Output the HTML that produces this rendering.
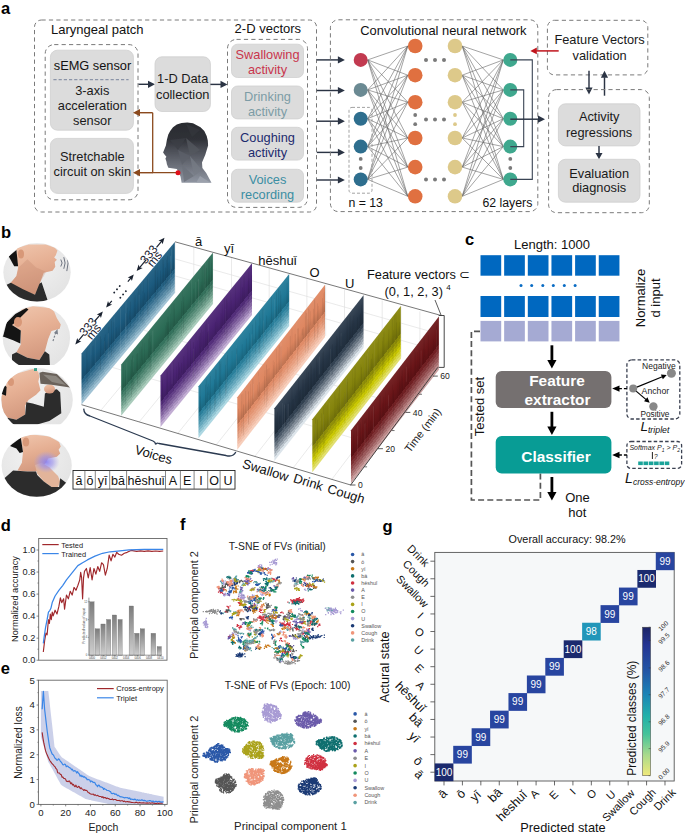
<!DOCTYPE html><html><head><meta charset="utf-8"><style>html,body{margin:0;padding:0;background:#fff;overflow:hidden}svg{display:block}text{font-family:"Liberation Sans", sans-serif}</style></head><body>
<svg width="685" height="837" viewBox="0 0 685 837">
<rect width="685" height="837" fill="#fff"/>
<text x="1.00" y="14.00" font-size="16.5" text-anchor="start" fill="#000" font-weight="bold" >a</text>
<rect x="34.50" y="20.00" width="282.00" height="192.00" rx="7" fill="none" stroke="#7a7a7a" stroke-width="1" stroke-dasharray="4.2 3.2" />
<text x="51.00" y="34.00" font-size="13" text-anchor="start" fill="#111" >Laryngeal patch</text>
<rect x="45.20" y="44.60" width="92.80" height="155.20" rx="9" fill="none" stroke="#7a7a7a" stroke-width="1" stroke-dasharray="4.2 3.2" />
<rect x="50.40" y="50.20" width="83.00" height="80.00" rx="7" fill="#dcdcdc" stroke="#cfcfcf" stroke-width="0.8" />
<text x="92.50" y="69.60" font-size="12.8" text-anchor="middle" fill="#111" >sEMG sensor</text>
<line x1="53.40" y1="79.60" x2="128.60" y2="79.60" stroke="#8b94a8" stroke-width="1.2" stroke-dasharray="3.2 2" />
<text x="92.30" y="94.60" font-size="12.8" text-anchor="middle" fill="#1a1a1a" >3-axis</text>
<text x="92.30" y="109.90" font-size="12.8" text-anchor="middle" fill="#1a1a1a" >acceleration</text>
<text x="92.30" y="125.00" font-size="12.8" text-anchor="middle" fill="#1a1a1a" >sensor</text>
<rect x="50.40" y="138.40" width="83.00" height="55.00" rx="7" fill="#dcdcdc" stroke="#cfcfcf" stroke-width="0.8" />
<text x="92.30" y="161.30" font-size="12.8" text-anchor="middle" fill="#1a1a1a" >Stretchable</text>
<text x="92.30" y="176.40" font-size="12.8" text-anchor="middle" fill="#1a1a1a" >circuit on skin</text>
<line x1="138.50" y1="84.30" x2="148.50" y2="84.30" stroke="#2b3444" stroke-width="1.45" />
<polygon points="155.00,84.30 148.00,87.90 148.00,80.70" fill="#2b3444"/>
<rect x="155.00" y="56.80" width="55.40" height="54.70" rx="7" fill="#dcdcdc" stroke="#cfcfcf" stroke-width="0.8" />
<text x="182.70" y="83.00" font-size="12.8" text-anchor="middle" fill="#1a1a1a" >1-D Data</text>
<text x="182.70" y="98.80" font-size="12.8" text-anchor="middle" fill="#1a1a1a" >collection</text>
<line x1="210.40" y1="84.40" x2="221.00" y2="84.40" stroke="#2b3444" stroke-width="1.45" />
<polygon points="227.50,84.40 220.50,88.00 220.50,80.80" fill="#2b3444"/>
<polyline points="152.7,112.7 152.7,172.7 178,172.7" fill="none" stroke="#8b4a1e" stroke-width="1.3"/>
<line x1="152.70" y1="112.70" x2="139.50" y2="112.70" stroke="#8b4a1e" stroke-width="1.45" />
<polygon points="133.00,112.70 140.00,109.10 140.00,116.30" fill="#8b4a1e"/>
<line x1="152.70" y1="172.70" x2="139.50" y2="172.70" stroke="#8b4a1e" stroke-width="1.45" />
<polygon points="133.00,172.70 140.00,169.10 140.00,176.30" fill="#8b4a1e"/>
<defs><linearGradient id="headg" x1="0" y1="0" x2="0" y2="1"><stop offset="0" stop-color="#2a2c31"/><stop offset="0.28" stop-color="#303238"/><stop offset="0.45" stop-color="#4a4d55"/><stop offset="0.7" stop-color="#6a6e78"/><stop offset="1" stop-color="#9096a2"/></linearGradient><clipPath id="headclip"><polygon points="181.6,123.1 187.3,122.4 193,123.3 200.5,127.3 204.3,131.1 206.7,135.9 207.8,140.6 208.1,145.4 205.3,154.8 202,162.4 202.4,168.1 206.2,172.9 211.5,182.8 181.6,182.8 180.6,176.7 178.7,171.9 176.8,169.1 168.3,167.7 166.9,164.3 166.4,161.5 165.4,158.6 166.4,156.7 164.5,154.4 163.1,152.5 165.9,145.4 166.9,139.7 168.3,134.5 170.2,131.1 173,127.3 176.8,124.5"/></clipPath></defs>
<polygon points="181.6,123.1 187.3,122.4 193,123.3 200.5,127.3 204.3,131.1 206.7,135.9 207.8,140.6 208.1,145.4 205.3,154.8 202,162.4 202.4,168.1 206.2,172.9 211.5,182.8 181.6,182.8 180.6,176.7 178.7,171.9 176.8,169.1 168.3,167.7 166.9,164.3 166.4,161.5 165.4,158.6 166.4,156.7 164.5,154.4 163.1,152.5 165.9,145.4 166.9,139.7 168.3,134.5 170.2,131.1 173,127.3 176.8,124.5" fill="url(#headg)"/>
<g clip-path="url(#headclip)" opacity="0.75">
<polygon points="170,140 186,138 178,150" fill="#3c3f46"/>
<polygon points="186,138 200,150 190,156" fill="#55585f"/>
<polygon points="178,150 190,156 182,165" fill="#5d616a"/>
<polygon points="190,156 202,170 194,176" fill="#777c86"/>
<polygon points="182,165 194,176 184,182" fill="#6b707a"/>
<polygon points="200,176 211,183 196,183" fill="#a0a6b0"/>
<polygon points="186,124 200,130 192,137" fill="#35373d"/>
</g>
<circle cx="178.00" cy="172.70" r="2.50" fill="#e0101a" />
<text x="234.60" y="32.90" font-size="13" text-anchor="start" fill="#111" >2-D vectors</text>
<rect x="227.50" y="39.40" width="80.00" height="168.00" rx="9" fill="none" stroke="#7a7a7a" stroke-width="1" stroke-dasharray="4.2 3.2" />
<rect x="231.50" y="44.20" width="72.00" height="33.30" rx="6" fill="#dcdcdc" stroke="#cfcfcf" stroke-width="0.8" />
<text x="267.50" y="59.10" font-size="12.8" text-anchor="middle" fill="#c9364d" >Swallowing</text>
<text x="267.50" y="74.00" font-size="12.8" text-anchor="middle" fill="#c9364d" >activity</text>
<rect x="231.50" y="86.00" width="72.00" height="32.90" rx="6" fill="#dcdcdc" stroke="#cfcfcf" stroke-width="0.8" />
<text x="267.50" y="100.90" font-size="12.8" text-anchor="middle" fill="#7d9ca6" >Drinking</text>
<text x="267.50" y="115.80" font-size="12.8" text-anchor="middle" fill="#7d9ca6" >activity</text>
<rect x="231.50" y="127.30" width="72.00" height="32.80" rx="6" fill="#dcdcdc" stroke="#cfcfcf" stroke-width="0.8" />
<text x="267.50" y="142.20" font-size="12.8" text-anchor="middle" fill="#1d2b6e" >Coughing</text>
<text x="267.50" y="157.10" font-size="12.8" text-anchor="middle" fill="#1d2b6e" >activity</text>
<rect x="231.50" y="169.30" width="72.00" height="32.90" rx="6" fill="#dcdcdc" stroke="#cfcfcf" stroke-width="0.8" />
<text x="267.50" y="184.20" font-size="12.8" text-anchor="middle" fill="#3b8ea3" >Voices</text>
<text x="267.50" y="199.10" font-size="12.8" text-anchor="middle" fill="#3b8ea3" >recording</text>
<line x1="316.80" y1="59.90" x2="338.40" y2="59.90" stroke="#2b3444" stroke-width="1.45" />
<polygon points="344.90,59.90 337.90,63.50 337.90,56.30" fill="#2b3444"/>
<line x1="316.80" y1="90.50" x2="338.40" y2="90.50" stroke="#2b3444" stroke-width="1.45" />
<polygon points="344.90,90.50 337.90,94.10 337.90,86.90" fill="#2b3444"/>
<line x1="316.80" y1="121.20" x2="338.40" y2="121.20" stroke="#2b3444" stroke-width="1.45" />
<polygon points="344.90,121.20 337.90,124.80 337.90,117.60" fill="#2b3444"/>
<line x1="316.80" y1="152.40" x2="338.40" y2="152.40" stroke="#2b3444" stroke-width="1.45" />
<polygon points="344.90,152.40 337.90,156.00 337.90,148.80" fill="#2b3444"/>
<line x1="316.80" y1="180.00" x2="338.40" y2="180.00" stroke="#2b3444" stroke-width="1.45" />
<polygon points="344.90,180.00 337.90,183.60 337.90,176.40" fill="#2b3444"/>
<rect x="330.40" y="19.80" width="207.40" height="191.80" rx="8" fill="none" stroke="#7a7a7a" stroke-width="1" stroke-dasharray="4.2 3.2" />
<text x="360.30" y="34.50" font-size="12.9" text-anchor="start" fill="#111" >Convolutional neural network</text>
<g stroke="#666" stroke-width="0.6">
<line x1="367.7" y1="59.9" x2="407.8" y2="46"/>
<line x1="367.7" y1="59.9" x2="407.8" y2="75.2"/>
<line x1="367.7" y1="59.9" x2="407.8" y2="102.2"/>
<line x1="367.7" y1="59.9" x2="407.8" y2="138"/>
<line x1="367.7" y1="59.9" x2="407.8" y2="167.1"/>
<line x1="367.7" y1="59.9" x2="407.8" y2="196.3"/>
<line x1="367.7" y1="89.9" x2="407.8" y2="46"/>
<line x1="367.7" y1="89.9" x2="407.8" y2="75.2"/>
<line x1="367.7" y1="89.9" x2="407.8" y2="102.2"/>
<line x1="367.7" y1="89.9" x2="407.8" y2="138"/>
<line x1="367.7" y1="89.9" x2="407.8" y2="167.1"/>
<line x1="367.7" y1="89.9" x2="407.8" y2="196.3"/>
<line x1="367.7" y1="118.7" x2="407.8" y2="46"/>
<line x1="367.7" y1="118.7" x2="407.8" y2="75.2"/>
<line x1="367.7" y1="118.7" x2="407.8" y2="102.2"/>
<line x1="367.7" y1="118.7" x2="407.8" y2="138"/>
<line x1="367.7" y1="118.7" x2="407.8" y2="167.1"/>
<line x1="367.7" y1="118.7" x2="407.8" y2="196.3"/>
<line x1="367.7" y1="146.6" x2="407.8" y2="46"/>
<line x1="367.7" y1="146.6" x2="407.8" y2="75.2"/>
<line x1="367.7" y1="146.6" x2="407.8" y2="102.2"/>
<line x1="367.7" y1="146.6" x2="407.8" y2="138"/>
<line x1="367.7" y1="146.6" x2="407.8" y2="167.1"/>
<line x1="367.7" y1="146.6" x2="407.8" y2="196.3"/>
<line x1="367.7" y1="179.4" x2="407.8" y2="46"/>
<line x1="367.7" y1="179.4" x2="407.8" y2="75.2"/>
<line x1="367.7" y1="179.4" x2="407.8" y2="102.2"/>
<line x1="367.7" y1="179.4" x2="407.8" y2="138"/>
<line x1="367.7" y1="179.4" x2="407.8" y2="167.1"/>
<line x1="367.7" y1="179.4" x2="407.8" y2="196.3"/>
<line x1="462.2" y1="46" x2="503.3" y2="59.9"/>
<line x1="462.2" y1="46" x2="503.3" y2="89.9"/>
<line x1="462.2" y1="46" x2="503.3" y2="118.7"/>
<line x1="462.2" y1="46" x2="503.3" y2="146.6"/>
<line x1="462.2" y1="46" x2="503.3" y2="179.4"/>
<line x1="462.2" y1="75.2" x2="503.3" y2="59.9"/>
<line x1="462.2" y1="75.2" x2="503.3" y2="89.9"/>
<line x1="462.2" y1="75.2" x2="503.3" y2="118.7"/>
<line x1="462.2" y1="75.2" x2="503.3" y2="146.6"/>
<line x1="462.2" y1="75.2" x2="503.3" y2="179.4"/>
<line x1="462.2" y1="102.2" x2="503.3" y2="59.9"/>
<line x1="462.2" y1="102.2" x2="503.3" y2="89.9"/>
<line x1="462.2" y1="102.2" x2="503.3" y2="118.7"/>
<line x1="462.2" y1="102.2" x2="503.3" y2="146.6"/>
<line x1="462.2" y1="102.2" x2="503.3" y2="179.4"/>
<line x1="462.2" y1="138" x2="503.3" y2="59.9"/>
<line x1="462.2" y1="138" x2="503.3" y2="89.9"/>
<line x1="462.2" y1="138" x2="503.3" y2="118.7"/>
<line x1="462.2" y1="138" x2="503.3" y2="146.6"/>
<line x1="462.2" y1="138" x2="503.3" y2="179.4"/>
<line x1="462.2" y1="167.1" x2="503.3" y2="59.9"/>
<line x1="462.2" y1="167.1" x2="503.3" y2="89.9"/>
<line x1="462.2" y1="167.1" x2="503.3" y2="118.7"/>
<line x1="462.2" y1="167.1" x2="503.3" y2="146.6"/>
<line x1="462.2" y1="167.1" x2="503.3" y2="179.4"/>
<line x1="462.2" y1="196.3" x2="503.3" y2="59.9"/>
<line x1="462.2" y1="196.3" x2="503.3" y2="89.9"/>
<line x1="462.2" y1="196.3" x2="503.3" y2="118.7"/>
<line x1="462.2" y1="196.3" x2="503.3" y2="146.6"/>
<line x1="462.2" y1="196.3" x2="503.3" y2="179.4"/>
</g>
<rect x="349.00" y="107.40" width="23.00" height="85.80" rx="3" fill="none" stroke="#8a8a8a" stroke-width="0.8" stroke-dasharray="3 2" />
<circle cx="360.70" cy="59.90" r="7.00" fill="#c23a50" />
<circle cx="360.70" cy="89.90" r="7.00" fill="#6b8a93" />
<circle cx="360.70" cy="118.70" r="7.00" fill="#2e6e8e" />
<circle cx="360.70" cy="146.60" r="7.00" fill="#2e6e8e" />
<circle cx="360.70" cy="179.40" r="7.00" fill="#2e6e8e" />
<circle cx="360.70" cy="158.90" r="1.90" fill="#7a7a7a" />
<circle cx="360.70" cy="168.00" r="1.90" fill="#7a7a7a" />
<circle cx="415.20" cy="46.00" r="7.30" fill="#e07040" />
<circle cx="455.00" cy="46.00" r="7.30" fill="#ddc98a" />
<circle cx="415.20" cy="75.20" r="7.30" fill="#e07040" />
<circle cx="455.00" cy="75.20" r="7.30" fill="#ddc98a" />
<circle cx="415.20" cy="102.20" r="7.30" fill="#e07040" />
<circle cx="455.00" cy="102.20" r="7.30" fill="#ddc98a" />
<circle cx="415.20" cy="138.00" r="7.30" fill="#e07040" />
<circle cx="455.00" cy="138.00" r="7.30" fill="#ddc98a" />
<circle cx="415.20" cy="167.10" r="7.30" fill="#e07040" />
<circle cx="455.00" cy="167.10" r="7.30" fill="#ddc98a" />
<circle cx="415.20" cy="196.30" r="7.30" fill="#e07040" />
<circle cx="455.00" cy="196.30" r="7.30" fill="#ddc98a" />
<circle cx="415.20" cy="115.00" r="1.90" fill="#7a7a7a" />
<circle cx="455.00" cy="115.00" r="1.90" fill="#ddc98a" />
<circle cx="415.20" cy="124.20" r="1.90" fill="#7a7a7a" />
<circle cx="455.00" cy="124.20" r="1.90" fill="#ddc98a" />
<circle cx="426.00" cy="59.90" r="2.00" fill="#7a7a7a" />
<circle cx="435.00" cy="59.90" r="2.00" fill="#7a7a7a" />
<circle cx="444.00" cy="59.90" r="2.00" fill="#7a7a7a" />
<circle cx="426.00" cy="119.60" r="2.00" fill="#7a7a7a" />
<circle cx="435.00" cy="119.60" r="2.00" fill="#7a7a7a" />
<circle cx="444.00" cy="119.60" r="2.00" fill="#7a7a7a" />
<circle cx="426.00" cy="179.40" r="2.00" fill="#7a7a7a" />
<circle cx="435.00" cy="179.40" r="2.00" fill="#7a7a7a" />
<circle cx="444.00" cy="179.40" r="2.00" fill="#7a7a7a" />
<circle cx="510.30" cy="59.90" r="7.00" fill="#3fa88e" />
<circle cx="510.30" cy="89.90" r="7.00" fill="#3fa88e" />
<circle cx="510.30" cy="118.70" r="7.00" fill="#3fa88e" />
<circle cx="510.30" cy="146.60" r="7.00" fill="#3fa88e" />
<circle cx="510.30" cy="179.40" r="7.00" fill="#3fa88e" />
<circle cx="510.30" cy="158.90" r="1.90" fill="#7a7a7a" />
<circle cx="510.30" cy="168.00" r="1.90" fill="#7a7a7a" />
<polyline points="510.3,59.9 532.3,59.9 532.3,179.4 510.3,179.4" fill="none" stroke="#3a4454" stroke-width="1.1"/>
<polyline points="510.3,89.9 523.7,89.9 523.7,146.6 510.3,146.6" fill="none" stroke="#3a4454" stroke-width="1.1"/>
<line x1="510.30" y1="119.20" x2="538.50" y2="119.20" stroke="#2b3444" stroke-width="1.45" />
<polygon points="545.00,119.20 538.00,122.80 538.00,115.60" fill="#2b3444"/>
<text x="348.40" y="207.00" font-size="12.3" text-anchor="start" fill="#111" >n = 13</text>
<text x="532.30" y="207.00" font-size="12.3" text-anchor="end" fill="#111" >62 layers</text>
<rect x="547.40" y="20.30" width="100.40" height="54.60" rx="7" fill="none" stroke="#7a7a7a" stroke-width="1" stroke-dasharray="4.2 3.2" />
<text x="599.60" y="44.30" font-size="12.8" text-anchor="middle" fill="#1a1a1a" >Feature Vectors</text>
<text x="599.60" y="59.70" font-size="12.8" text-anchor="middle" fill="#1a1a1a" >validation</text>
<line x1="558.70" y1="50.90" x2="536.30" y2="50.90" stroke="#c0141c" stroke-width="1.5" />
<polygon points="530.30,50.90 536.80,47.50 536.80,54.30" fill="#c0141c"/>
<line x1="589.00" y1="70.70" x2="589.00" y2="88.00" stroke="#2b3444" stroke-width="1.45" />
<polygon points="589.00,94.50 585.40,87.50 592.60,87.50" fill="#2b3444"/>
<line x1="604.50" y1="95.70" x2="604.50" y2="77.20" stroke="#2b3444" stroke-width="1.45" />
<polygon points="604.50,70.70 608.10,77.70 600.90,77.70" fill="#2b3444"/>
<rect x="548.60" y="89.60" width="100.70" height="123.10" rx="8" fill="none" stroke="#7a7a7a" stroke-width="1" stroke-dasharray="4.2 3.2" />
<rect x="558.40" y="103.80" width="81.60" height="42.10" rx="7" fill="#dcdcdc" stroke="#cfcfcf" stroke-width="0.8" />
<text x="599.20" y="121.40" font-size="12.8" text-anchor="middle" fill="#1a1a1a" >Activity</text>
<text x="599.20" y="136.80" font-size="12.8" text-anchor="middle" fill="#1a1a1a" >regressions</text>
<line x1="599.00" y1="146.00" x2="599.00" y2="153.60" stroke="#2b3444" stroke-width="1.45" />
<polygon points="599.00,159.30 595.50,153.10 602.50,153.10" fill="#2b3444"/>
<rect x="558.40" y="159.30" width="81.60" height="42.90" rx="7" fill="#dcdcdc" stroke="#cfcfcf" stroke-width="0.8" />
<text x="599.20" y="177.70" font-size="12.8" text-anchor="middle" fill="#1a1a1a" >Evaluation</text>
<text x="599.20" y="192.40" font-size="12.8" text-anchor="middle" fill="#1a1a1a" >diagnosis</text>
<defs><linearGradient id="skin" x1="0" y1="0" x2="0.3" y2="1"><stop offset="0" stop-color="#f0c6ad"/><stop offset="0.5" stop-color="#e6b094"/><stop offset="1" stop-color="#d49a80"/></linearGradient></defs>
<text x="1.00" y="237.80" font-size="16.5" text-anchor="start" fill="#000" font-weight="bold" >b</text>
<defs><clipPath id="ph1"><ellipse cx="37" cy="272.3" rx="33.7" ry="29.2"/></clipPath><clipPath id="ph1b"><rect x="0" y="0" width="80" height="302"/></clipPath><radialGradient id="ph1g" cx="0.45" cy="0.35" r="0.7"><stop offset="0" stop-color="#f2f2f2"/><stop offset="1" stop-color="#e2e2e2"/></radialGradient></defs>
<g clip-path="url(#ph1b)"><g clip-path="url(#ph1)">
<rect x="2.299999999999997" y="242.10000000000002" width="69.4" height="60.4" fill="url(#ph1g)"/>
<polygon points="16.4,248.2 28.5,244.4 46.0,244.4 54.7,247.7 57.5,250.4 55.8,255.3 54.2,257.5 56.9,259.7 54.7,261.9 55.3,266.8 52.6,270.7 43.8,272.8 40.5,281.6 37.2,291.5 35.0,294.7 21.9,290.4 9.9,283.8 16.4,276.1 18.1,267.4 16.4,256.4" fill="url(#skin)" />
<polygon points="18.6,267.4 27.4,259.2 36.1,267.4 46.0,271.8 43.8,276.0 40.5,281.6 36.1,291.5 35.0,294.7 21.9,290.4 9.9,283.8 16.4,276.1" fill="#c08068" opacity="0.28"/>
<polygon points="8.8,256.4 16.4,249.9 18.1,266.3 14.2,266.3" fill="#141414" />
<ellipse cx="21" cy="254" rx="3" ry="4.5" fill="#d89878"/>
<polygon points="4.0,286.0 10.9,282.7 23.0,289.3 35.0,294.7 39.4,283.8 41.6,282.2 48.2,302.0 4.0,302.0" fill="#2c2c2c" />
<path d="M 60.8 259.5 Q 63.4 263 60.8 266.5" fill="none" stroke="#6e7480" stroke-width="1.0"/>
<path d="M 63.8 257.2 Q 66.4 263 63.8 268.8" fill="none" stroke="#6e7480" stroke-width="1.0"/>
<path d="M 66.8 254.9 Q 69.4 263 66.8 271.1" fill="none" stroke="#6e7480" stroke-width="1.0"/>
</g></g>
<defs><clipPath id="ph2"><ellipse cx="36.4" cy="337.7" rx="33.7" ry="32.0"/></clipPath><clipPath id="ph2b"><rect x="0" y="0" width="80" height="364.9"/></clipPath><radialGradient id="ph2g" cx="0.45" cy="0.35" r="0.7"><stop offset="0" stop-color="#f2f2f2"/><stop offset="1" stop-color="#e2e2e2"/></radialGradient></defs>
<g clip-path="url(#ph2b)"><g clip-path="url(#ph2)">
<rect x="1.6999999999999957" y="304.7" width="69.4" height="66.0" fill="url(#ph2g)"/>
<polygon points="21.9,309.6 32.8,306.3 50.4,307.9 54.2,311.8 56.9,318.3 60.8,324.4 59.7,328.7 51.5,330.9 48.2,339.1 44.9,351.2 39.4,359.9 27.4,357.7 16.4,352.3 20.8,344.6 20.8,330.4 12.0,324.9 16.4,319.4" fill="url(#skin)" />
<polygon points="1.0,336.0 3.3,335.8 6.6,322.7 15.3,314.0 26.3,307.9 28.5,309.6 21.9,316.1 16.4,321.6 12.0,324.9 20.8,330.4 20.3,343.5 13.1,340.2 4.4,336.9" fill="#141414" />
<ellipse cx="18" cy="322" rx="4" ry="5" fill="#d89878"/>
<polygon points="12.0,354.5 16.4,352.3 27.4,357.7 39.4,359.9 44.9,351.2 49.3,354.5 50.0,366.0 12.0,366.0" fill="#2c2c2c" />
<path d="M 53 341 L 56 332" stroke="#7a808a" stroke-width="1.2" stroke-dasharray="2 1.5"/><polygon points="57.5,329 54,333 58,334.5" fill="#7a808a"/>
</g></g>
<defs><clipPath id="ph3"><ellipse cx="37" cy="400" rx="35.8" ry="32.0"/></clipPath><clipPath id="ph3b"><rect x="0" y="0" width="80" height="424.3"/></clipPath><radialGradient id="ph3g" cx="0.45" cy="0.35" r="0.7"><stop offset="0" stop-color="#f2f2f2"/><stop offset="1" stop-color="#e2e2e2"/></radialGradient></defs>
<g clip-path="url(#ph3b)"><g clip-path="url(#ph3)">
<rect x="0.20000000000000284" y="367.0" width="73.6" height="66.0" fill="url(#ph3g)"/>
<polygon points="6.6,382.6 15.3,373.9 32.8,368.9 38.3,371.7 39.4,377.1 38.3,381.5 40.5,390.3 36.1,394.7 28.5,400.1 25.2,405.6 25.2,414.4 16.4,419.8 7.7,417.7 2.2,411.1 1.0,396.8 5.5,390.3" fill="url(#skin)" />
<polygon points="0.5,393.6 4.4,384.8 6.6,387.0 6.0,395.8" fill="#141414" />
<ellipse cx="11" cy="382" rx="3" ry="4" fill="#d89878"/>
<polygon points="7.7,417.7 16.4,419.8 25.2,414.4 26.3,402.3 32.8,403.4 43.8,406.7 44.9,393.6 51.5,390.3 56.9,389.2 60.2,392.5 61.3,413.3 49.3,420.9 37.2,424.5 5.0,424.5" fill="#2c2c2c" />
<ellipse cx="49.5" cy="389" rx="5.5" ry="4.5" fill="url(#skin)"/>
<polygon points="39.4,372.8 42.7,371.7 56.9,373.9 70.1,387.5 51.5,384.8 40.5,383.7" fill="#6a625b" />
<polygon points="43.0,374.5 56.0,376.0 66.0,385.0 52.0,382.0" fill="#8c8780" />
<rect x="34" y="368" width="3" height="3" fill="#3aa08a"/>
</g></g>
<defs><clipPath id="ph4"><ellipse cx="36.7" cy="465.6" rx="35.1" ry="31.2"/></clipPath><clipPath id="ph4b"><rect x="0" y="0" width="80" height="497"/></clipPath><radialGradient id="ph4g" cx="0.45" cy="0.35" r="0.7"><stop offset="0" stop-color="#f2f2f2"/><stop offset="1" stop-color="#e2e2e2"/></radialGradient></defs>
<g clip-path="url(#ph4b)"><g clip-path="url(#ph4)">
<rect x="0.6000000000000014" y="433.40000000000003" width="72.2" height="64.4" fill="url(#ph4g)"/>
<polygon points="20.8,437.1 32.8,434.4 49.3,436.6 59.1,442.0 60.8,446.4 58.6,449.7 60.2,453.5 56.9,456.8 48.2,458.5 46.0,462.8 41.6,467.2 36.1,471.6 27.4,471.6 17.5,470.5 21.9,462.8 23.0,451.9" fill="url(#skin)" />
<polygon points="10.0,446.0 12.0,444.2 20.8,437.7 23.0,451.9 19.7,453.0 16.4,448.6" fill="#141414" />
<ellipse cx="26" cy="442" rx="3.2" ry="4.5" fill="#d89878"/>
<defs><radialGradient id="glow"><stop offset="0" stop-color="#8a80f0" stop-opacity="0.9"/><stop offset="0.5" stop-color="#9a90ec" stop-opacity="0.6"/><stop offset="1" stop-color="#a8a0e8" stop-opacity="0"/></radialGradient></defs>
<polygon points="35.0,465.0 41.6,462.8 49.3,467.2 58.0,476.0 60.2,481.5 58.0,487.0 51.5,487.0 43.8,481.5 37.2,473.8" fill="#e2b49a" />
<ellipse cx="46.5" cy="462" rx="13" ry="11" fill="url(#glow)"/>
<polygon points="1.0,480.0 4.4,478.2 13.1,470.5 27.4,471.6 36.1,471.6 37.2,474.9 43.8,481.5 51.5,486.9 59.1,486.9 60.2,478.2 65.7,482.6 72.0,485.0 72.0,500.0 1.0,500.0" fill="#2c2c2c" />
</g></g>
<rect x="73.00" y="470.50" width="162.00" height="18.60" rx="0" fill="#fff" stroke="#222" stroke-width="0.9" />
<line x1="84.90" y1="470.50" x2="84.90" y2="489.10" stroke="#555" stroke-width="0.7" />
<line x1="95.30" y1="470.50" x2="95.30" y2="489.10" stroke="#555" stroke-width="0.7" />
<line x1="109.70" y1="470.50" x2="109.70" y2="489.10" stroke="#555" stroke-width="0.7" />
<line x1="126.60" y1="470.50" x2="126.60" y2="489.10" stroke="#555" stroke-width="0.7" />
<line x1="165.50" y1="470.50" x2="165.50" y2="489.10" stroke="#555" stroke-width="0.7" />
<line x1="180.40" y1="470.50" x2="180.40" y2="489.10" stroke="#555" stroke-width="0.7" />
<line x1="194.10" y1="470.50" x2="194.10" y2="489.10" stroke="#555" stroke-width="0.7" />
<line x1="207.70" y1="470.50" x2="207.70" y2="489.10" stroke="#555" stroke-width="0.7" />
<line x1="220.10" y1="470.50" x2="220.10" y2="489.10" stroke="#555" stroke-width="0.7" />
<text x="78.90" y="485.00" font-size="12.5" text-anchor="middle" fill="#111" >ā</text>
<text x="90.10" y="485.00" font-size="12.5" text-anchor="middle" fill="#111" >ō</text>
<text x="102.50" y="485.00" font-size="12.5" text-anchor="middle" fill="#111" >yī</text>
<text x="118.00" y="485.00" font-size="12.5" text-anchor="middle" fill="#111" >bā</text>
<text x="146.00" y="485.00" font-size="12.5" text-anchor="middle" fill="#111" >hēshuǐ</text>
<text x="173.00" y="485.00" font-size="12.5" text-anchor="middle" fill="#111" >A</text>
<text x="187.20" y="485.00" font-size="12.5" text-anchor="middle" fill="#111" >E</text>
<text x="201.00" y="485.00" font-size="12.5" text-anchor="middle" fill="#111" >I</text>
<text x="214.00" y="485.00" font-size="12.5" text-anchor="middle" fill="#111" >O</text>
<text x="228.00" y="485.00" font-size="12.5" text-anchor="middle" fill="#111" >U</text>
<g stroke="#dcdcdc" stroke-width="0.6" fill="none">
<line x1="100.8" y1="410.4" x2="193.8" y2="298.4"/>
<line x1="139.2" y1="421.9" x2="231.5" y2="309.1"/>
<line x1="177.8" y1="433.4" x2="269.2" y2="319.8"/>
<line x1="216.2" y1="444.9" x2="306.9" y2="330.6"/>
<line x1="254.8" y1="456.4" x2="344.5" y2="341.3"/>
<line x1="293.2" y1="467.9" x2="382.2" y2="352.0"/>
<line x1="331.8" y1="479.4" x2="419.9" y2="362.7"/>
<line x1="112.7" y1="367.5" x2="380.2" y2="446.1"/>
<line x1="143.8" y1="330.2" x2="409.5" y2="407.1"/>
<line x1="175.0" y1="293.0" x2="175.0" y2="241.8"/>
<line x1="193.8" y1="298.4" x2="193.8" y2="247.2"/>
<line x1="212.7" y1="303.7" x2="212.7" y2="252.5"/>
<line x1="231.5" y1="309.1" x2="231.5" y2="257.9"/>
<line x1="250.3" y1="314.5" x2="250.3" y2="263.2"/>
<line x1="269.2" y1="319.8" x2="269.2" y2="268.6"/>
<line x1="288.0" y1="325.2" x2="288.0" y2="273.9"/>
<line x1="306.9" y1="330.6" x2="306.9" y2="279.2"/>
<line x1="325.7" y1="335.9" x2="325.7" y2="284.6"/>
<line x1="344.5" y1="341.3" x2="344.5" y2="289.9"/>
<line x1="363.4" y1="346.6" x2="363.4" y2="295.3"/>
<line x1="382.2" y1="352.0" x2="382.2" y2="300.6"/>
<line x1="401.0" y1="357.4" x2="401.0" y2="306.0"/>
<line x1="419.9" y1="362.7" x2="419.9" y2="311.4"/>
<line x1="438.7" y1="368.1" x2="438.7" y2="316.7"/>
<line x1="175" y1="275.9" x2="438.7" y2="351.0"/>
<line x1="175" y1="258.9" x2="438.7" y2="333.8"/>
</g>
<line x1="81.5" y1="404.7" x2="351" y2="485.1" stroke="#555" stroke-width="0.8"/>
<line x1="175" y1="241.8" x2="441.6" y2="315.6" stroke="#555" stroke-width="0.8"/>
<defs><linearGradient id="wg0" x1="0" y1="0" x2="0" y2="1"><stop offset="0" stop-color="#296587"/><stop offset="0.3" stop-color="#1b5a7e"/><stop offset="0.48" stop-color="#184f6f"/><stop offset="0.52" stop-color="#184f6f"/><stop offset="0.52" stop-color="#266385"/><stop offset="0.60" stop-color="#266385"/><stop offset="0.60" stop-color="#377090"/><stop offset="0.67" stop-color="#377090"/><stop offset="0.67" stop-color="#4a7e9c"/><stop offset="0.74" stop-color="#4a7e9c"/><stop offset="0.74" stop-color="#5d8ea8"/><stop offset="0.81" stop-color="#5d8ea8"/><stop offset="0.81" stop-color="#729eb6"/><stop offset="0.87" stop-color="#729eb6"/><stop offset="0.87" stop-color="#89b0c4"/><stop offset="0.93" stop-color="#89b0c4"/><stop offset="0.93" stop-color="#a1c2d4"/><stop offset="1.00" stop-color="#a1c2d4"/></linearGradient><linearGradient id="wg1" x1="0" y1="0" x2="0" y2="1"><stop offset="0" stop-color="#387560"/><stop offset="0.3" stop-color="#2b6b55"/><stop offset="0.48" stop-color="#265e4b"/><stop offset="0.52" stop-color="#265e4b"/><stop offset="0.52" stop-color="#36735e"/><stop offset="0.60" stop-color="#36735e"/><stop offset="0.60" stop-color="#467f6a"/><stop offset="0.67" stop-color="#467f6a"/><stop offset="0.67" stop-color="#578c78"/><stop offset="0.74" stop-color="#578c78"/><stop offset="0.74" stop-color="#6a9a87"/><stop offset="0.81" stop-color="#6a9a87"/><stop offset="0.81" stop-color="#7daa97"/><stop offset="0.87" stop-color="#7daa97"/><stop offset="0.87" stop-color="#93baa8"/><stop offset="0.93" stop-color="#93baa8"/><stop offset="0.93" stop-color="#a9cbbb"/><stop offset="1.00" stop-color="#a9cbbb"/></linearGradient><linearGradient id="wg2" x1="0" y1="0" x2="0" y2="1"><stop offset="0" stop-color="#57327d"/><stop offset="0.3" stop-color="#4a2373"/><stop offset="0.48" stop-color="#411f65"/><stop offset="0.52" stop-color="#411f65"/><stop offset="0.52" stop-color="#542f7b"/><stop offset="0.60" stop-color="#542f7b"/><stop offset="0.60" stop-color="#634087"/><stop offset="0.67" stop-color="#634087"/><stop offset="0.67" stop-color="#745394"/><stop offset="0.74" stop-color="#745394"/><stop offset="0.74" stop-color="#8567a2"/><stop offset="0.81" stop-color="#8567a2"/><stop offset="0.81" stop-color="#987db2"/><stop offset="0.87" stop-color="#987db2"/><stop offset="0.87" stop-color="#ac94c2"/><stop offset="0.93" stop-color="#ac94c2"/><stop offset="0.93" stop-color="#c2add3"/><stop offset="1.00" stop-color="#c2add3"/></linearGradient><linearGradient id="wg3" x1="0" y1="0" x2="0" y2="1"><stop offset="0" stop-color="#2e829e"/><stop offset="0.3" stop-color="#1f7896"/><stop offset="0.48" stop-color="#1b6a84"/><stop offset="0.52" stop-color="#1b6a84"/><stop offset="0.52" stop-color="#2b809c"/><stop offset="0.60" stop-color="#2b809c"/><stop offset="0.60" stop-color="#3d8ca6"/><stop offset="0.67" stop-color="#3d8ca6"/><stop offset="0.67" stop-color="#5099b0"/><stop offset="0.74" stop-color="#5099b0"/><stop offset="0.74" stop-color="#65a7bc"/><stop offset="0.81" stop-color="#65a7bc"/><stop offset="0.81" stop-color="#7bb6c8"/><stop offset="0.87" stop-color="#7bb6c8"/><stop offset="0.87" stop-color="#93c6d4"/><stop offset="0.93" stop-color="#93c6d4"/><stop offset="0.93" stop-color="#add7e2"/><stop offset="1.00" stop-color="#add7e2"/></linearGradient><linearGradient id="wg4" x1="0" y1="0" x2="0" y2="1"><stop offset="0" stop-color="#e18e6a"/><stop offset="0.3" stop-color="#de8660"/><stop offset="0.48" stop-color="#c37654"/><stop offset="0.52" stop-color="#c37654"/><stop offset="0.52" stop-color="#e08c68"/><stop offset="0.60" stop-color="#e08c68"/><stop offset="0.60" stop-color="#e39573"/><stop offset="0.67" stop-color="#e39573"/><stop offset="0.67" stop-color="#e79f80"/><stop offset="0.74" stop-color="#e79f80"/><stop offset="0.74" stop-color="#eaaa8d"/><stop offset="0.81" stop-color="#eaaa8d"/><stop offset="0.81" stop-color="#eeb59c"/><stop offset="0.87" stop-color="#eeb59c"/><stop offset="0.87" stop-color="#f2c1ab"/><stop offset="0.93" stop-color="#f2c1ab"/><stop offset="0.93" stop-color="#f7cebb"/><stop offset="1.00" stop-color="#f7cebb"/></linearGradient><linearGradient id="wg5" x1="0" y1="0" x2="0" y2="1"><stop offset="0" stop-color="#394757"/><stop offset="0.3" stop-color="#263546"/><stop offset="0.48" stop-color="#212f3e"/><stop offset="0.52" stop-color="#212f3e"/><stop offset="0.52" stop-color="#354454"/><stop offset="0.60" stop-color="#354454"/><stop offset="0.60" stop-color="#4c5a69"/><stop offset="0.67" stop-color="#4c5a69"/><stop offset="0.67" stop-color="#65727f"/><stop offset="0.74" stop-color="#65727f"/><stop offset="0.74" stop-color="#808b97"/><stop offset="0.81" stop-color="#808b97"/><stop offset="0.81" stop-color="#9da7b1"/><stop offset="0.87" stop-color="#9da7b1"/><stop offset="0.87" stop-color="#bcc5cd"/><stop offset="0.93" stop-color="#bcc5cd"/><stop offset="0.93" stop-color="#dce4ea"/><stop offset="1.00" stop-color="#dce4ea"/></linearGradient><linearGradient id="wg6" x1="0" y1="0" x2="0" y2="1"><stop offset="0" stop-color="#8e8c17"/><stop offset="0.3" stop-color="#84830c"/><stop offset="0.48" stop-color="#74730b"/><stop offset="0.52" stop-color="#74730b"/><stop offset="0.52" stop-color="#908f0a"/><stop offset="0.60" stop-color="#908f0a"/><stop offset="0.60" stop-color="#a2a007"/><stop offset="0.67" stop-color="#a2a007"/><stop offset="0.67" stop-color="#b5b403"/><stop offset="0.74" stop-color="#b5b403"/><stop offset="0.74" stop-color="#c9c704"/><stop offset="0.81" stop-color="#c9c704"/><stop offset="0.81" stop-color="#d1cf26"/><stop offset="0.87" stop-color="#d1cf26"/><stop offset="0.87" stop-color="#d9d749"/><stop offset="0.93" stop-color="#d9d749"/><stop offset="0.93" stop-color="#e1df6f"/><stop offset="1.00" stop-color="#e1df6f"/></linearGradient><linearGradient id="wg7" x1="0" y1="0" x2="0" y2="1"><stop offset="0" stop-color="#742426"/><stop offset="0.3" stop-color="#6a1518"/><stop offset="0.48" stop-color="#5d1215"/><stop offset="0.52" stop-color="#5d1215"/><stop offset="0.52" stop-color="#722124"/><stop offset="0.60" stop-color="#722124"/><stop offset="0.60" stop-color="#7e3235"/><stop offset="0.67" stop-color="#7e3235"/><stop offset="0.67" stop-color="#8c4648"/><stop offset="0.74" stop-color="#8c4648"/><stop offset="0.74" stop-color="#9a5a5c"/><stop offset="0.81" stop-color="#9a5a5c"/><stop offset="0.81" stop-color="#a97071"/><stop offset="0.87" stop-color="#a97071"/><stop offset="0.87" stop-color="#ba8888"/><stop offset="0.93" stop-color="#ba8888"/><stop offset="0.93" stop-color="#cba1a1"/><stop offset="1.00" stop-color="#cba1a1"/></linearGradient></defs>
<g transform="matrix(93.300,-111.500,0,51.100,81.500,353.500)">
<rect x="0" y="0" width="1" height="1" fill="url(#wg0)"/>
<path d="M0.844 0.23h0.0071V0.61h-0.0071zM0.784 0.09h0.0094V0.64h-0.0094zM0.810 0.27h0.0094V0.56h-0.0094zM0.477 0.26h0.0073V0.53h-0.0073zM0.720 0.12h0.0040V0.81h-0.0040zM0.868 0.07h0.0051V0.56h-0.0051zM0.239 0.29h0.0045V0.80h-0.0045zM0.508 0.28h0.0082V0.45h-0.0082zM0.814 0.16h0.0075V0.88h-0.0075zM0.596 0.12h0.0051V0.69h-0.0051zM0.923 0.25h0.0072V0.85h-0.0072zM0.705 0.08h0.0094V0.81h-0.0094zM0.793 0.02h0.0078V0.71h-0.0078zM0.243 0.22h0.0088V0.46h-0.0088zM0.816 0.03h0.0043V0.47h-0.0043zM0.910 0.16h0.0078V0.74h-0.0078zM0.576 0.12h0.0042V0.59h-0.0042zM0.023 0.13h0.0053V0.45h-0.0053zM0.199 0.11h0.0095V0.77h-0.0095zM0.673 0.29h0.0091V0.43h-0.0091zM0.251 0.18h0.0068V0.62h-0.0068zM0.569 0.15h0.0090V0.56h-0.0090zM0.561 0.00h0.0043V0.77h-0.0043zM0.634 0.19h0.0065V0.76h-0.0065zM0.002 0.06h0.0078V0.57h-0.0078zM0.875 0.17h0.0082V0.61h-0.0082zM0.662 0.01h0.0049V0.62h-0.0049zM0.487 0.17h0.0070V0.78h-0.0070zM0.633 0.03h0.0064V0.76h-0.0064zM0.316 0.06h0.0089V0.76h-0.0089zM0.100 0.26h0.0056V0.60h-0.0056zM0.792 0.26h0.0079V0.47h-0.0079zM0.872 0.08h0.0081V0.41h-0.0081zM0.947 0.28h0.0085V0.85h-0.0085zM0.655 0.21h0.0062V0.85h-0.0062zM0.208 0.18h0.0060V0.40h-0.0060zM0.290 0.12h0.0069V0.67h-0.0069zM0.048 0.05h0.0064V0.66h-0.0064zM0.344 0.14h0.0058V0.75h-0.0058zM0.894 0.28h0.0098V0.71h-0.0098zM0.066 0.03h0.0040V0.77h-0.0040zM0.519 0.13h0.0081V0.64h-0.0081zM0.368 0.30h0.0066V0.53h-0.0066zM0.064 0.26h0.0067V0.75h-0.0067zM0.119 0.12h0.0097V0.50h-0.0097zM0.983 0.04h0.0093V0.60h-0.0093zM0.917 0.10h0.0080V0.65h-0.0080zM0.610 0.07h0.0094V0.57h-0.0094z" fill="#000" opacity="0.09"/>
<path d="M0.282 0.23h0.0095V0.71h-0.0095zM0.472 0.03h0.0095V0.62h-0.0095zM0.613 0.20h0.0085V0.64h-0.0085zM0.950 0.17h0.0100V0.63h-0.0100zM0.961 0.06h0.0088V0.46h-0.0088zM0.350 0.05h0.0046V0.65h-0.0046zM0.240 0.29h0.0062V0.58h-0.0062zM0.467 0.24h0.0051V0.84h-0.0051zM0.098 0.04h0.0057V0.72h-0.0057zM0.718 0.10h0.0050V0.71h-0.0050zM0.415 0.03h0.0090V0.85h-0.0090zM0.146 0.06h0.0049V0.59h-0.0049z" fill="#fff" opacity="0.09"/>
</g>
<g transform="matrix(91.700,-111.800,0,51.400,121.200,364.457)">
<rect x="0" y="0" width="1" height="1" fill="url(#wg1)"/>
<path d="M0.134 0.25h0.0070V0.78h-0.0070zM0.652 0.24h0.0090V0.45h-0.0090zM0.901 0.01h0.0096V0.41h-0.0096zM0.217 0.13h0.0066V0.41h-0.0066zM0.233 0.07h0.0057V0.51h-0.0057zM0.121 0.10h0.0096V0.76h-0.0096zM0.830 0.20h0.0093V0.55h-0.0093zM0.505 0.18h0.0088V0.42h-0.0088zM0.173 0.16h0.0062V0.75h-0.0062zM0.508 0.23h0.0069V0.66h-0.0069zM0.043 0.21h0.0064V0.89h-0.0064zM0.502 0.29h0.0092V0.79h-0.0092zM0.514 0.29h0.0056V0.69h-0.0056zM0.957 0.00h0.0093V0.79h-0.0093zM0.570 0.06h0.0061V0.65h-0.0061zM0.538 0.19h0.0042V0.71h-0.0042zM0.177 0.18h0.0088V0.83h-0.0088zM0.255 0.25h0.0041V0.74h-0.0041zM0.756 0.07h0.0061V0.45h-0.0061zM0.160 0.16h0.0083V0.48h-0.0083zM0.322 0.14h0.0065V0.41h-0.0065zM0.109 0.27h0.0076V0.66h-0.0076zM0.021 0.01h0.0050V0.47h-0.0050zM0.678 0.16h0.0088V0.51h-0.0088zM0.223 0.19h0.0059V0.60h-0.0059zM0.310 0.28h0.0055V0.77h-0.0055zM0.879 0.01h0.0074V0.81h-0.0074zM0.868 0.29h0.0063V0.75h-0.0063zM0.206 0.20h0.0046V0.62h-0.0046zM0.296 0.15h0.0094V0.56h-0.0094zM0.201 0.10h0.0060V0.89h-0.0060zM0.674 0.25h0.0093V0.87h-0.0093zM0.484 0.30h0.0045V0.52h-0.0045zM0.911 0.06h0.0090V0.78h-0.0090zM0.788 0.25h0.0087V0.57h-0.0087zM0.571 0.07h0.0093V0.44h-0.0093zM0.925 0.14h0.0090V0.54h-0.0090zM0.670 0.03h0.0042V0.46h-0.0042zM0.988 0.13h0.0054V0.46h-0.0054zM0.103 0.27h0.0095V0.59h-0.0095zM0.253 0.14h0.0042V0.45h-0.0042zM0.983 0.09h0.0059V0.70h-0.0059zM0.913 0.29h0.0053V0.88h-0.0053zM0.980 0.16h0.0056V0.74h-0.0056zM0.307 0.07h0.0099V0.44h-0.0099zM0.652 0.19h0.0058V0.87h-0.0058zM0.317 0.25h0.0060V0.85h-0.0060zM0.579 0.18h0.0055V0.52h-0.0055zM0.551 0.02h0.0057V0.44h-0.0057zM0.493 0.26h0.0088V0.48h-0.0088zM0.949 0.05h0.0089V0.79h-0.0089zM0.107 0.15h0.0094V0.86h-0.0094zM0.841 0.22h0.0066V0.74h-0.0066z" fill="#000" opacity="0.09"/>
<path d="M0.762 0.00h0.0054V0.62h-0.0054zM0.838 0.17h0.0100V0.72h-0.0100zM0.809 0.16h0.0043V0.68h-0.0043zM0.059 0.09h0.0058V0.88h-0.0058zM0.340 0.09h0.0097V0.83h-0.0097zM0.135 0.17h0.0044V0.45h-0.0044zM0.910 0.01h0.0088V0.56h-0.0088z" fill="#fff" opacity="0.09"/>
</g>
<g transform="matrix(91.500,-112.100,0,51.700,160.500,375.414)">
<rect x="0" y="0" width="1" height="1" fill="url(#wg2)"/>
<path d="M0.956 0.28h0.0090V0.43h-0.0090zM0.670 0.09h0.0075V0.70h-0.0075zM0.431 0.12h0.0097V0.76h-0.0097zM0.445 0.08h0.0068V0.42h-0.0068zM0.380 0.27h0.0054V0.66h-0.0054zM0.325 0.04h0.0080V0.66h-0.0080zM0.894 0.24h0.0086V0.77h-0.0086zM0.354 0.29h0.0085V0.88h-0.0085zM0.461 0.16h0.0070V0.65h-0.0070zM0.724 0.15h0.0082V0.51h-0.0082zM0.908 0.08h0.0097V0.86h-0.0097zM0.504 0.16h0.0059V0.73h-0.0059zM0.512 0.28h0.0089V0.71h-0.0089zM0.908 0.06h0.0079V0.77h-0.0079zM0.227 0.26h0.0091V0.45h-0.0091zM0.210 0.26h0.0042V0.61h-0.0042zM0.172 0.20h0.0042V0.44h-0.0042zM0.021 0.08h0.0051V0.81h-0.0051zM0.386 0.01h0.0042V0.90h-0.0042zM0.615 0.22h0.0042V0.46h-0.0042zM0.766 0.22h0.0092V0.85h-0.0092zM0.473 0.07h0.0046V0.73h-0.0046zM0.875 0.04h0.0071V0.69h-0.0071zM0.960 0.08h0.0041V0.70h-0.0041zM0.141 0.02h0.0046V0.42h-0.0046zM0.508 0.30h0.0054V0.87h-0.0054zM0.251 0.18h0.0083V0.71h-0.0083zM0.423 0.16h0.0065V0.40h-0.0065zM0.724 0.07h0.0054V0.45h-0.0054zM0.963 0.22h0.0075V0.62h-0.0075zM0.418 0.16h0.0088V0.49h-0.0088zM0.519 0.28h0.0099V0.71h-0.0099zM0.019 0.21h0.0090V0.45h-0.0090zM0.016 0.14h0.0052V0.61h-0.0052zM0.074 0.09h0.0045V0.59h-0.0045zM0.192 0.17h0.0085V0.60h-0.0085zM0.693 0.01h0.0083V0.73h-0.0083zM0.358 0.14h0.0072V0.80h-0.0072zM0.955 0.24h0.0058V0.87h-0.0058zM0.489 0.08h0.0095V0.61h-0.0095zM0.818 0.03h0.0049V0.58h-0.0049zM0.067 0.03h0.0079V0.85h-0.0079zM0.296 0.07h0.0066V0.74h-0.0066zM0.112 0.16h0.0046V0.87h-0.0046zM0.715 0.08h0.0082V0.85h-0.0082zM0.995 0.23h0.0066V0.69h-0.0066zM0.595 0.26h0.0069V0.49h-0.0069zM0.710 0.28h0.0098V0.75h-0.0098zM0.746 0.20h0.0053V0.78h-0.0053zM0.403 0.20h0.0041V0.89h-0.0041zM0.729 0.18h0.0046V0.85h-0.0046zM0.767 0.06h0.0051V0.77h-0.0051zM0.138 0.18h0.0074V0.62h-0.0074zM0.205 0.29h0.0069V0.44h-0.0069zM0.658 0.23h0.0060V0.64h-0.0060zM0.503 0.01h0.0050V0.44h-0.0050z" fill="#000" opacity="0.09"/>
<path d="M0.354 0.26h0.0074V0.85h-0.0074zM0.521 0.14h0.0053V0.55h-0.0053zM0.122 0.04h0.0078V0.44h-0.0078zM0.712 0.26h0.0041V0.73h-0.0041z" fill="#fff" opacity="0.09"/>
</g>
<g transform="matrix(90.700,-112.400,0,52.000,198.500,386.371)">
<rect x="0" y="0" width="1" height="1" fill="url(#wg3)"/>
<path d="M0.238 0.16h0.0078V0.58h-0.0078zM0.013 0.25h0.0100V0.53h-0.0100zM0.523 0.22h0.0085V0.74h-0.0085zM0.879 0.03h0.0098V0.47h-0.0098zM0.627 0.09h0.0061V0.65h-0.0061zM0.671 0.05h0.0094V0.83h-0.0094zM0.714 0.06h0.0057V0.82h-0.0057zM0.854 0.30h0.0065V0.44h-0.0065zM0.294 0.23h0.0077V0.84h-0.0077zM0.310 0.02h0.0052V0.70h-0.0052zM0.897 0.11h0.0079V0.63h-0.0079zM0.559 0.19h0.0066V0.87h-0.0066zM0.238 0.09h0.0073V0.89h-0.0073zM0.415 0.17h0.0078V0.41h-0.0078zM0.627 0.14h0.0082V0.74h-0.0082zM0.022 0.02h0.0055V0.74h-0.0055zM0.593 0.10h0.0062V0.58h-0.0062zM0.300 0.11h0.0074V0.79h-0.0074zM0.310 0.07h0.0051V0.80h-0.0051zM0.698 0.03h0.0090V0.56h-0.0090zM0.856 0.05h0.0093V0.57h-0.0093zM0.225 0.04h0.0088V0.66h-0.0088zM0.184 0.08h0.0088V0.80h-0.0088zM0.130 0.09h0.0061V0.80h-0.0061zM0.880 0.30h0.0096V0.62h-0.0096zM0.746 0.25h0.0057V0.73h-0.0057zM0.227 0.02h0.0089V0.69h-0.0089zM0.904 0.21h0.0094V0.86h-0.0094zM0.013 0.22h0.0080V0.49h-0.0080zM0.477 0.23h0.0072V0.58h-0.0072zM0.171 0.24h0.0089V0.86h-0.0089zM0.629 0.26h0.0056V0.42h-0.0056zM0.423 0.14h0.0043V0.79h-0.0043zM0.125 0.02h0.0045V0.89h-0.0045zM0.316 0.09h0.0075V0.58h-0.0075zM0.191 0.10h0.0083V0.46h-0.0083zM0.080 0.05h0.0087V0.59h-0.0087zM0.801 0.19h0.0070V0.62h-0.0070zM0.421 0.21h0.0072V0.63h-0.0072zM0.072 0.13h0.0096V0.61h-0.0096zM0.898 0.24h0.0047V0.53h-0.0047zM0.662 0.27h0.0084V0.80h-0.0084zM0.103 0.18h0.0086V0.40h-0.0086zM0.092 0.03h0.0041V0.84h-0.0041zM0.121 0.25h0.0097V0.74h-0.0097zM0.799 0.01h0.0083V0.78h-0.0083zM0.749 0.28h0.0074V0.43h-0.0074zM0.242 0.05h0.0085V0.52h-0.0085zM0.367 0.12h0.0045V0.58h-0.0045zM0.973 0.12h0.0081V0.77h-0.0081zM0.674 0.16h0.0094V0.64h-0.0094zM0.096 0.22h0.0067V0.86h-0.0067z" fill="#000" opacity="0.09"/>
<path d="M0.836 0.14h0.0078V0.72h-0.0078zM0.301 0.01h0.0083V0.83h-0.0083zM0.714 0.28h0.0067V0.60h-0.0067zM0.584 0.27h0.0091V0.74h-0.0091zM0.718 0.10h0.0070V0.84h-0.0070zM0.610 0.05h0.0059V0.42h-0.0059zM0.420 0.12h0.0040V0.86h-0.0040zM0.414 0.28h0.0055V0.71h-0.0055z" fill="#fff" opacity="0.09"/>
</g>
<g transform="matrix(87.700,-112.700,0,52.300,237.300,397.329)">
<rect x="0" y="0" width="1" height="1" fill="url(#wg4)"/>
<path d="M0.236 0.03h0.0044V0.60h-0.0044zM0.918 0.24h0.0072V0.78h-0.0072zM0.173 0.03h0.0090V0.51h-0.0090zM0.880 0.03h0.0070V0.70h-0.0070zM0.474 0.03h0.0073V0.87h-0.0073zM0.909 0.17h0.0071V0.84h-0.0071zM0.599 0.13h0.0089V0.48h-0.0089zM0.046 0.19h0.0068V0.54h-0.0068zM0.997 0.06h0.0078V0.61h-0.0078zM0.356 0.22h0.0094V0.56h-0.0094zM0.062 0.07h0.0054V0.78h-0.0054zM0.735 0.29h0.0098V0.41h-0.0098zM0.410 0.28h0.0058V0.71h-0.0058zM0.444 0.04h0.0060V0.59h-0.0060zM0.045 0.05h0.0057V0.79h-0.0057zM0.982 0.13h0.0043V0.50h-0.0043zM0.122 0.16h0.0099V0.79h-0.0099zM0.831 0.15h0.0055V0.42h-0.0055zM0.231 0.26h0.0096V0.47h-0.0096zM0.991 0.12h0.0087V0.85h-0.0087zM0.337 0.20h0.0089V0.80h-0.0089zM0.655 0.21h0.0097V0.53h-0.0097zM0.971 0.29h0.0094V0.73h-0.0094zM0.969 0.20h0.0078V0.43h-0.0078zM0.746 0.28h0.0095V0.51h-0.0095zM0.876 0.03h0.0093V0.80h-0.0093zM0.879 0.06h0.0094V0.74h-0.0094zM0.472 0.16h0.0076V0.41h-0.0076zM0.865 0.18h0.0086V0.47h-0.0086zM0.011 0.25h0.0073V0.81h-0.0073zM0.787 0.09h0.0098V0.52h-0.0098zM0.777 0.02h0.0058V0.84h-0.0058zM0.422 0.24h0.0051V0.48h-0.0051zM0.494 0.10h0.0083V0.67h-0.0083zM0.312 0.16h0.0069V0.64h-0.0069zM0.245 0.25h0.0099V0.58h-0.0099zM0.306 0.26h0.0067V0.79h-0.0067zM0.771 0.11h0.0045V0.73h-0.0045zM0.809 0.05h0.0075V0.85h-0.0075zM0.621 0.03h0.0051V0.60h-0.0051zM0.327 0.09h0.0097V0.41h-0.0097zM0.801 0.24h0.0075V0.88h-0.0075zM0.574 0.28h0.0047V0.78h-0.0047zM0.406 0.18h0.0059V0.85h-0.0059zM0.327 0.19h0.0064V0.90h-0.0064zM0.817 0.09h0.0051V0.61h-0.0051zM0.693 0.18h0.0077V0.58h-0.0077zM0.068 0.29h0.0076V0.89h-0.0076zM0.091 0.08h0.0094V0.51h-0.0094zM0.149 0.07h0.0050V0.55h-0.0050zM0.681 0.16h0.0071V0.88h-0.0071z" fill="#000" opacity="0.09"/>
<path d="M0.800 0.06h0.0084V0.55h-0.0084zM0.178 0.14h0.0094V0.42h-0.0094zM0.677 0.04h0.0055V0.42h-0.0055zM0.242 0.12h0.0055V0.42h-0.0055zM0.494 0.03h0.0094V0.51h-0.0094zM0.114 0.19h0.0066V0.84h-0.0066zM0.677 0.18h0.0068V0.56h-0.0068zM0.675 0.22h0.0058V0.71h-0.0058zM0.097 0.01h0.0044V0.56h-0.0044z" fill="#fff" opacity="0.09"/>
</g>
<g transform="matrix(89.100,-113.000,0,52.600,274.400,408.286)">
<rect x="0" y="0" width="1" height="1" fill="url(#wg5)"/>
<path d="M0.029 0.14h0.0094V0.87h-0.0094zM0.469 0.07h0.0041V0.67h-0.0041zM0.279 0.27h0.0088V0.78h-0.0088zM0.617 0.04h0.0053V0.40h-0.0053zM0.982 0.26h0.0072V0.54h-0.0072zM0.205 0.28h0.0094V0.75h-0.0094zM0.361 0.05h0.0058V0.47h-0.0058zM0.003 0.20h0.0089V0.57h-0.0089zM0.316 0.14h0.0099V0.75h-0.0099zM0.750 0.25h0.0062V0.41h-0.0062zM0.009 0.01h0.0052V0.49h-0.0052zM0.930 0.28h0.0071V0.57h-0.0071zM0.545 0.09h0.0045V0.56h-0.0045zM0.689 0.30h0.0099V0.48h-0.0099zM0.406 0.07h0.0067V0.70h-0.0067zM0.056 0.27h0.0090V0.42h-0.0090zM0.732 0.28h0.0046V0.72h-0.0046zM0.976 0.14h0.0069V0.64h-0.0069zM0.404 0.04h0.0098V0.59h-0.0098zM0.361 0.24h0.0080V0.79h-0.0080zM0.363 0.21h0.0086V0.54h-0.0086zM0.294 0.28h0.0041V0.72h-0.0041zM0.251 0.20h0.0079V0.63h-0.0079zM0.348 0.19h0.0061V0.77h-0.0061zM0.870 0.21h0.0071V0.89h-0.0071zM0.166 0.25h0.0081V0.87h-0.0081zM0.730 0.05h0.0080V0.79h-0.0080zM0.624 0.23h0.0042V0.72h-0.0042zM0.441 0.20h0.0078V0.51h-0.0078zM0.472 0.07h0.0059V0.43h-0.0059zM0.193 0.01h0.0077V0.63h-0.0077zM0.238 0.27h0.0057V0.40h-0.0057zM0.115 0.25h0.0077V0.59h-0.0077zM0.545 0.10h0.0089V0.69h-0.0089zM0.813 0.19h0.0076V0.58h-0.0076zM0.957 0.29h0.0094V0.70h-0.0094zM0.376 0.13h0.0098V0.51h-0.0098zM0.961 0.27h0.0099V0.70h-0.0099zM0.415 0.10h0.0057V0.89h-0.0057zM0.122 0.19h0.0087V0.62h-0.0087zM0.013 0.16h0.0087V0.54h-0.0087zM0.268 0.05h0.0076V0.89h-0.0076zM0.645 0.18h0.0086V0.77h-0.0086zM0.533 0.10h0.0068V0.55h-0.0068zM0.888 0.16h0.0066V0.41h-0.0066zM0.708 0.19h0.0063V0.64h-0.0063zM0.852 0.06h0.0044V0.55h-0.0044zM0.695 0.13h0.0095V0.54h-0.0095zM0.478 0.16h0.0049V0.65h-0.0049zM0.812 0.02h0.0088V0.52h-0.0088zM0.026 0.22h0.0082V0.89h-0.0082zM0.842 0.07h0.0083V0.72h-0.0083zM0.292 0.28h0.0065V0.47h-0.0065z" fill="#000" opacity="0.09"/>
<path d="M0.623 0.22h0.0084V0.80h-0.0084zM0.108 0.22h0.0042V0.80h-0.0042zM0.091 0.10h0.0060V0.71h-0.0060zM0.149 0.25h0.0100V0.55h-0.0100zM0.499 0.10h0.0087V0.44h-0.0087zM0.108 0.17h0.0078V0.71h-0.0078zM0.745 0.18h0.0067V0.42h-0.0067z" fill="#fff" opacity="0.09"/>
</g>
<g transform="matrix(88.500,-113.300,0,52.900,312.300,419.243)">
<rect x="0" y="0" width="1" height="1" fill="url(#wg6)"/>
<path d="M0.793 0.25h0.0040V0.64h-0.0040zM0.470 0.23h0.0056V0.59h-0.0056zM0.730 0.12h0.0052V0.67h-0.0052zM0.805 0.08h0.0091V0.80h-0.0091zM0.093 0.24h0.0046V0.80h-0.0046zM0.635 0.09h0.0052V0.88h-0.0052zM0.360 0.28h0.0079V0.85h-0.0079zM0.806 0.29h0.0076V0.41h-0.0076zM0.589 0.03h0.0047V0.84h-0.0047zM0.054 0.13h0.0099V0.77h-0.0099zM0.979 0.27h0.0067V0.74h-0.0067zM0.796 0.16h0.0065V0.64h-0.0065zM0.747 0.08h0.0050V0.64h-0.0050zM0.255 0.12h0.0056V0.84h-0.0056zM0.479 0.04h0.0088V0.59h-0.0088zM0.659 0.29h0.0076V0.86h-0.0076zM0.398 0.15h0.0057V0.80h-0.0057zM0.449 0.02h0.0047V0.42h-0.0047zM0.613 0.13h0.0070V0.79h-0.0070zM0.100 0.11h0.0076V0.47h-0.0076zM0.629 0.21h0.0045V0.46h-0.0045zM0.911 0.27h0.0082V0.85h-0.0082zM0.137 0.28h0.0087V0.85h-0.0087zM0.276 0.21h0.0099V0.43h-0.0099zM0.940 0.03h0.0098V0.83h-0.0098zM0.922 0.01h0.0078V0.44h-0.0078zM0.033 0.05h0.0100V0.59h-0.0100zM0.950 0.21h0.0084V0.57h-0.0084zM0.547 0.14h0.0044V0.65h-0.0044zM0.030 0.16h0.0049V0.48h-0.0049zM0.388 0.07h0.0095V0.51h-0.0095zM0.163 0.09h0.0087V0.52h-0.0087zM0.551 0.20h0.0088V0.76h-0.0088zM0.667 0.29h0.0063V0.48h-0.0063zM0.040 0.23h0.0046V0.46h-0.0046zM0.293 0.14h0.0050V0.76h-0.0050zM0.120 0.03h0.0095V0.89h-0.0095zM0.676 0.22h0.0067V0.73h-0.0067zM0.859 0.23h0.0076V0.79h-0.0076zM0.791 0.22h0.0081V0.90h-0.0081zM0.028 0.28h0.0090V0.87h-0.0090zM0.139 0.00h0.0090V0.43h-0.0090zM0.384 0.18h0.0069V0.68h-0.0069zM0.137 0.27h0.0089V0.50h-0.0089zM0.948 0.24h0.0076V0.66h-0.0076zM0.862 0.16h0.0068V0.75h-0.0068zM0.899 0.05h0.0091V0.86h-0.0091zM0.252 0.04h0.0062V0.59h-0.0062zM0.305 0.02h0.0096V0.71h-0.0096z" fill="#000" opacity="0.09"/>
<path d="M0.312 0.06h0.0053V0.64h-0.0053zM0.698 0.00h0.0060V0.79h-0.0060zM0.620 0.09h0.0048V0.59h-0.0048zM0.123 0.18h0.0067V0.58h-0.0067zM0.362 0.28h0.0052V0.83h-0.0052zM0.628 0.03h0.0068V0.45h-0.0068zM0.188 0.10h0.0064V0.59h-0.0064zM0.032 0.16h0.0074V0.79h-0.0074zM0.094 0.18h0.0047V0.42h-0.0047zM0.591 0.08h0.0051V0.47h-0.0051zM0.380 0.04h0.0071V0.86h-0.0071z" fill="#fff" opacity="0.09"/>
</g>
<g transform="matrix(87.900,-113.600,0,53.200,351.000,430.200)">
<rect x="0" y="0" width="1" height="1" fill="url(#wg7)"/>
<path d="M0.324 0.05h0.0072V0.73h-0.0072zM0.058 0.15h0.0044V0.42h-0.0044zM0.577 0.12h0.0092V0.89h-0.0092zM0.144 0.04h0.0051V0.55h-0.0051zM0.639 0.11h0.0044V0.67h-0.0044zM0.680 0.13h0.0067V0.56h-0.0067zM0.729 0.09h0.0065V0.89h-0.0065zM0.152 0.15h0.0086V0.42h-0.0086zM0.875 0.09h0.0075V0.75h-0.0075zM0.840 0.28h0.0044V0.64h-0.0044zM0.647 0.30h0.0063V0.81h-0.0063zM0.023 0.14h0.0044V0.48h-0.0044zM0.129 0.07h0.0045V0.60h-0.0045zM0.549 0.27h0.0057V0.81h-0.0057zM0.359 0.27h0.0051V0.88h-0.0051zM0.233 0.15h0.0040V0.69h-0.0040zM0.369 0.17h0.0071V0.88h-0.0071zM0.676 0.02h0.0092V0.85h-0.0092zM0.392 0.12h0.0044V0.45h-0.0044zM0.209 0.05h0.0040V0.57h-0.0040zM0.101 0.11h0.0077V0.41h-0.0077zM0.466 0.15h0.0061V0.44h-0.0061zM0.829 0.05h0.0072V0.41h-0.0072zM0.543 0.01h0.0092V0.66h-0.0092zM0.261 0.11h0.0072V0.48h-0.0072zM0.330 0.07h0.0091V0.81h-0.0091zM0.818 0.22h0.0061V0.51h-0.0061zM0.028 0.08h0.0097V0.53h-0.0097zM0.937 0.30h0.0053V0.88h-0.0053zM0.197 0.06h0.0090V0.71h-0.0090zM0.653 0.24h0.0095V0.44h-0.0095zM0.750 0.14h0.0060V0.49h-0.0060zM0.972 0.12h0.0083V0.60h-0.0083zM0.127 0.05h0.0049V0.85h-0.0049zM0.980 0.20h0.0048V0.58h-0.0048zM0.826 0.06h0.0054V0.53h-0.0054zM0.259 0.13h0.0061V0.47h-0.0061zM0.583 0.27h0.0070V0.61h-0.0070zM0.524 0.01h0.0040V0.62h-0.0040zM0.172 0.14h0.0060V0.76h-0.0060zM0.555 0.24h0.0055V0.45h-0.0055zM0.772 0.15h0.0095V0.68h-0.0095zM0.613 0.15h0.0067V0.66h-0.0067zM0.478 0.28h0.0097V0.75h-0.0097zM0.560 0.28h0.0047V0.82h-0.0047zM0.220 0.29h0.0099V0.60h-0.0099zM0.161 0.13h0.0052V0.66h-0.0052zM0.722 0.01h0.0041V0.68h-0.0041zM0.105 0.08h0.0056V0.42h-0.0056zM0.571 0.21h0.0081V0.44h-0.0081z" fill="#000" opacity="0.09"/>
<path d="M0.425 0.25h0.0078V0.46h-0.0078zM0.794 0.21h0.0072V0.52h-0.0072zM0.252 0.10h0.0091V0.58h-0.0091zM0.971 0.19h0.0066V0.66h-0.0066zM0.073 0.07h0.0087V0.44h-0.0087zM0.154 0.21h0.0093V0.73h-0.0093zM0.624 0.15h0.0087V0.43h-0.0087zM0.422 0.27h0.0049V0.81h-0.0049zM0.072 0.28h0.0045V0.72h-0.0045zM0.067 0.26h0.0073V0.63h-0.0073z" fill="#fff" opacity="0.09"/>
</g>
<text x="198.50" y="246.40" font-size="13" text-anchor="middle" fill="#111" >ā</text>
<text x="229.00" y="253.40" font-size="13" text-anchor="middle" fill="#111" >yī</text>
<text x="277.50" y="265.20" font-size="13" text-anchor="middle" fill="#111" >hēshuǐ</text>
<text x="314.50" y="277.00" font-size="13" text-anchor="middle" fill="#111" >O</text>
<text x="349.60" y="288.00" font-size="13" text-anchor="middle" fill="#111" >U</text>
<text x="367.00" y="279.20" font-size="12.8" text-anchor="start" fill="#111" >Feature vectors ⊂</text>
<text x="384.60" y="295.90" font-size="12.8" text-anchor="start" fill="#111" >(0, 1, 2, 3)</text>
<text x="446.30" y="290.30" font-size="8" text-anchor="start" fill="#111" >4</text>
<polyline points="438.7,315.5 444.2,315.5 444.2,367.4 438.7,367.4" fill="none" stroke="#333" stroke-width="0.9"/>
<line x1="435" y1="300" x2="441" y2="315" stroke="#333" stroke-width="0.8"/>
<line x1="350.6" y1="485.1" x2="437.9" y2="367.3" stroke="#333" stroke-width="0.9"/>
<line x1="350.60" y1="485.00" x2="355.50" y2="485.00" stroke="#333" stroke-width="0.8" />
<text x="358.00" y="488.10" font-size="8.6" text-anchor="start" fill="#222" >0</text>
<line x1="378.03" y1="448.70" x2="382.93" y2="448.70" stroke="#333" stroke-width="0.8" />
<text x="385.43" y="451.80" font-size="8.6" text-anchor="start" fill="#222" >20</text>
<line x1="405.46" y1="412.40" x2="410.36" y2="412.40" stroke="#333" stroke-width="0.8" />
<text x="412.86" y="415.50" font-size="8.6" text-anchor="start" fill="#222" >40</text>
<line x1="432.89" y1="376.10" x2="437.79" y2="376.10" stroke="#333" stroke-width="0.8" />
<text x="440.29" y="379.20" font-size="8.6" text-anchor="start" fill="#222" >60</text>
<line x1="364.31" y1="466.85" x2="367.12" y2="466.85" stroke="#333" stroke-width="0.7" />
<line x1="391.75" y1="430.55" x2="394.55" y2="430.55" stroke="#333" stroke-width="0.7" />
<line x1="419.18" y1="394.25" x2="421.98" y2="394.25" stroke="#333" stroke-width="0.7" />
<text transform="translate(425.8,432.5) rotate(-52.6)" font-size="11" text-anchor="middle" fill="#222">Time (min)</text>
<path d="M 83.7 408.6 Q 84 414.5 90 416 L 153 441 Q 155.5 442 155.6 444.5 Q 156.5 442.5 159 443.5 L 226 455.5 Q 233 457.5 235.8 452" fill="none" stroke="#2b3a50" stroke-width="1.3"/>
<text transform="translate(134.0,453.5) rotate(16.5)" font-size="13" fill="#111">Voices</text>
<text transform="translate(241.5,467.5) rotate(17)" font-size="13" fill="#111">Swallow</text>
<text transform="translate(292.5,482) rotate(17)" font-size="13" fill="#111">Drink</text>
<text transform="translate(326.5,492.5) rotate(17)" font-size="13" fill="#111">Cough</text>
<g transform="translate(81.5,353.5) rotate(-50.07)" fill="#1a2230">
<line x1="16" y1="-10.6" x2="7.0" y2="-10.6" stroke="#1a2230" stroke-width="1.2"/>
<polygon points="3.0,-10.6 9.2,-13.3 7.8,-10.6 9.2,-7.8999999999999995"/>
<line x1="33.5" y1="-10.6" x2="41.9" y2="-10.6" stroke="#1a2230" stroke-width="1.2"/>
<polygon points="45.9,-10.6 39.699999999999996,-13.3 41.1,-10.6 39.699999999999996,-7.8999999999999995"/>
<line x1="59.9" y1="-10.6" x2="55" y2="-10.6" stroke="#1a2230" stroke-width="1.2"/>
<polygon points="51,-10.6 57.2,-13.3 55.8,-10.6 57.2,-7.8999999999999995"/>
<line x1="84.9" y1="-10.6" x2="90.1" y2="-10.6" stroke="#1a2230" stroke-width="1.2"/>
<polygon points="94.1,-10.6 87.89999999999999,-13.3 89.3,-10.6 87.89999999999999,-7.8999999999999995"/>
<line x1="113.6" y1="-10.6" x2="102.6" y2="-10.6" stroke="#1a2230" stroke-width="1.2"/>
<polygon points="98.6,-10.6 104.8,-13.3 103.39999999999999,-10.6 104.8,-7.8999999999999995"/>
<line x1="129.5" y1="-10.6" x2="138" y2="-10.6" stroke="#1a2230" stroke-width="1.2"/>
<polygon points="142,-10.6 135.8,-13.3 137.2,-10.6 135.8,-7.8999999999999995"/>
<text x="24.7" y="-8.0" font-size="12" text-anchor="middle">333</text>
<text x="24.5" y="-0.6" font-size="12" text-anchor="middle">ms</text>
<text x="119.2" y="-8.0" font-size="12" text-anchor="middle">333</text>
<text x="119.4" y="-0.6" font-size="12" text-anchor="middle">ms</text>
<circle cx="67.7" cy="-14" r="0.95"/>
<circle cx="72" cy="-14" r="0.95"/>
<circle cx="76.3" cy="-14" r="0.95"/>
<circle cx="67.7" cy="-6" r="0.95"/>
<circle cx="72" cy="-6" r="0.95"/>
<circle cx="76.3" cy="-6" r="0.95"/>
</g>
<text x="465.00" y="244.70" font-size="16.5" text-anchor="start" fill="#000" font-weight="bold" >c</text>
<text x="552.00" y="248.60" font-size="13" text-anchor="middle" fill="#111" >Length: 1000</text>
<rect x="480.50" y="255.20" width="20.70" height="20.50" rx="0" fill="#0068c0" stroke="none" stroke-width="1" />
<rect x="480.50" y="296.00" width="20.70" height="21.00" rx="0" fill="#0068c0" stroke="none" stroke-width="1" />
<rect x="480.50" y="320.90" width="20.70" height="20.50" rx="0" fill="#a5aad3" stroke="none" stroke-width="1" />
<rect x="504.15" y="255.20" width="20.70" height="20.50" rx="0" fill="#0068c0" stroke="none" stroke-width="1" />
<rect x="504.15" y="296.00" width="20.70" height="21.00" rx="0" fill="#0068c0" stroke="none" stroke-width="1" />
<rect x="504.15" y="320.90" width="20.70" height="20.50" rx="0" fill="#a5aad3" stroke="none" stroke-width="1" />
<rect x="527.80" y="255.20" width="20.70" height="20.50" rx="0" fill="#0068c0" stroke="none" stroke-width="1" />
<rect x="527.80" y="296.00" width="20.70" height="21.00" rx="0" fill="#0068c0" stroke="none" stroke-width="1" />
<rect x="527.80" y="320.90" width="20.70" height="20.50" rx="0" fill="#a5aad3" stroke="none" stroke-width="1" />
<rect x="551.45" y="255.20" width="20.70" height="20.50" rx="0" fill="#0068c0" stroke="none" stroke-width="1" />
<rect x="551.45" y="296.00" width="20.70" height="21.00" rx="0" fill="#0068c0" stroke="none" stroke-width="1" />
<rect x="551.45" y="320.90" width="20.70" height="20.50" rx="0" fill="#a5aad3" stroke="none" stroke-width="1" />
<rect x="575.10" y="255.20" width="20.70" height="20.50" rx="0" fill="#0068c0" stroke="none" stroke-width="1" />
<rect x="575.10" y="296.00" width="20.70" height="21.00" rx="0" fill="#0068c0" stroke="none" stroke-width="1" />
<rect x="575.10" y="320.90" width="20.70" height="20.50" rx="0" fill="#a5aad3" stroke="none" stroke-width="1" />
<rect x="598.75" y="255.20" width="20.70" height="20.50" rx="0" fill="#0068c0" stroke="none" stroke-width="1" />
<rect x="598.75" y="296.00" width="20.70" height="21.00" rx="0" fill="#0068c0" stroke="none" stroke-width="1" />
<rect x="598.75" y="320.90" width="20.70" height="20.50" rx="0" fill="#a5aad3" stroke="none" stroke-width="1" />
<circle cx="521.00" cy="285.40" r="1.50" fill="#0a6cc4" />
<circle cx="531.70" cy="285.40" r="1.50" fill="#0a6cc4" />
<circle cx="542.80" cy="285.40" r="1.50" fill="#0a6cc4" />
<circle cx="553.30" cy="285.40" r="1.50" fill="#0a6cc4" />
<circle cx="564.30" cy="285.40" r="1.50" fill="#0a6cc4" />
<circle cx="575.10" cy="285.40" r="1.50" fill="#0a6cc4" />
<text transform="translate(644.8,298) rotate(-90)" font-size="13" text-anchor="middle" fill="#111">Normalize</text>
<text transform="translate(660.2,298) rotate(-90)" font-size="13" text-anchor="middle" fill="#111">d input</text>
<polyline points="480,331.3 471.4,331.3 471.4,500 540.4,500 540.4,473.6" fill="none" stroke="#555" stroke-width="1.7" stroke-dasharray="6 3.2"/>
<text transform="translate(484,406.5) rotate(-90)" font-size="13" text-anchor="middle" fill="#111">Tested set</text>
<line x1="551.90" y1="345.30" x2="551.90" y2="362.50" stroke="#000" stroke-width="2.8" />
<polygon points="551.9,368.5 547.3,360.0 556.5,360.0" fill="#000"/>
<line x1="551.90" y1="411.80" x2="551.90" y2="429.00" stroke="#000" stroke-width="2.8" />
<polygon points="551.9,435.0 547.3,426.5 556.5,426.5" fill="#000"/>
<line x1="551.90" y1="477.00" x2="551.90" y2="494.50" stroke="#000" stroke-width="2.8" />
<polygon points="551.9,500.5 547.3,492.0 556.5,492.0" fill="#000"/>
<rect x="495.70" y="370.90" width="115.70" height="37.00" rx="6" fill="#757070" stroke="none" stroke-width="1" />
<text x="557.00" y="386.20" font-size="15.4" text-anchor="middle" fill="#fff" font-weight="bold" >Feature</text>
<text x="557.50" y="404.60" font-size="15.4" text-anchor="middle" fill="#fff" font-weight="bold" >extractor</text>
<rect x="495.70" y="436.00" width="115.70" height="37.60" rx="6" fill="#089c95" stroke="none" stroke-width="1" />
<text x="556.00" y="461.60" font-size="15.4" text-anchor="middle" fill="#fff" font-weight="bold" >Classifier</text>
<text x="565.20" y="501.70" font-size="13" text-anchor="start" fill="#111" >One</text>
<text x="568.30" y="516.70" font-size="13" text-anchor="start" fill="#111" >hot</text>
<rect x="626.90" y="359.90" width="52.90" height="59.10" rx="5" fill="none" stroke="#3a4050" stroke-width="1.3" stroke-dasharray="3.5 2.2" />
<line x1="626.9" y1="388.6" x2="619" y2="388.6" stroke="#000" stroke-width="1.3" stroke-dasharray="3 2"/>
<polygon points="612.2,388.6 619.5,385.4 619.5,391.8" fill="#000"/>
<line x1="633.20" y1="388.60" x2="662.35" y2="376.77" stroke="#000" stroke-width="1.2" />
<polygon points="666.70,375.00 662.86,379.37 660.90,374.55" fill="#000"/>
<line x1="633.20" y1="388.60" x2="646.13" y2="399.65" stroke="#000" stroke-width="1.2" />
<polygon points="649.70,402.70 644.06,401.30 647.44,397.35" fill="#000"/>
<circle cx="633.20" cy="388.60" r="4.00" fill="#888888" />
<circle cx="671.40" cy="373.30" r="4.50" fill="#888888" />
<circle cx="653.40" cy="406.50" r="4.20" fill="#888888" />
<text x="642.10" y="368.80" font-size="8.5" text-anchor="start" fill="#222" >Negative</text>
<text x="641.60" y="393.90" font-size="8.7" text-anchor="start" fill="#222" >Anchor</text>
<text x="640.40" y="417.30" font-size="8.3" text-anchor="start" fill="#222" >Positive</text>
<text x="640.4" y="430.7" font-size="13.5" font-style="italic" fill="#111">L<tspan font-size="8.8" dy="2.5">triplet</tspan></text>
<rect x="626.90" y="441.50" width="54.70" height="26.90" rx="4" fill="none" stroke="#3a4050" stroke-width="1.3" stroke-dasharray="3.5 2.2" />
<line x1="626.9" y1="455" x2="619" y2="455" stroke="#000" stroke-width="1.3" stroke-dasharray="3 2"/>
<polygon points="612.2,455 619.5,451.8 619.5,458.2" fill="#000"/>
<text x="629.4" y="450" font-size="7" font-style="italic" fill="#222">Softmax P<tspan font-size="5" dy="1.5">1</tspan><tspan dy="-1.5"> &gt; P</tspan><tspan font-size="5" dy="1.5">2</tspan></text>
<line x1="652.40" y1="452.00" x2="652.40" y2="459.00" stroke="#222" stroke-width="1" />
<text x="654" y="458.5" font-size="6.5" font-style="italic" fill="#222">?</text>
<rect x="638.20" y="461.50" width="4.60" height="3.60" rx="0" fill="#1aa39a" stroke="none" stroke-width="1" />
<rect x="643.50" y="461.50" width="4.60" height="3.60" rx="0" fill="#1aa39a" stroke="none" stroke-width="1" />
<rect x="648.80" y="461.50" width="4.60" height="3.60" rx="0" fill="#1aa39a" stroke="none" stroke-width="1" />
<rect x="654.10" y="461.50" width="4.60" height="3.60" rx="0" fill="#1aa39a" stroke="none" stroke-width="1" />
<rect x="659.40" y="461.50" width="4.60" height="3.60" rx="0" fill="#1aa39a" stroke="none" stroke-width="1" />
<rect x="664.70" y="461.50" width="4.60" height="3.60" rx="0" fill="#1aa39a" stroke="none" stroke-width="1" />
<text x="625.1" y="482.7" font-size="14" font-style="italic" fill="#111">L<tspan font-size="8.5" dy="2.5">cross-entropy</tspan></text>
<text x="0.80" y="530.50" font-size="16.5" text-anchor="start" fill="#000" font-weight="bold" >d</text>
<defs><linearGradient id="barg" x1="0" y1="0" x2="0" y2="1"><stop offset="0" stop-color="#7c7c7c"/><stop offset="1" stop-color="#cfcfcf"/></linearGradient></defs>
<rect x="89.60" y="601.80" width="4.50" height="53.40" rx="0" fill="url(#barg)" stroke="#6a6a6a" stroke-width="0.3" />
<rect x="95.10" y="628.80" width="4.60" height="26.40" rx="0" fill="url(#barg)" stroke="#6a6a6a" stroke-width="0.3" />
<rect x="100.90" y="624.00" width="4.30" height="31.20" rx="0" fill="url(#barg)" stroke="#6a6a6a" stroke-width="0.3" />
<rect x="106.50" y="619.50" width="4.30" height="35.70" rx="0" fill="url(#barg)" stroke="#6a6a6a" stroke-width="0.3" />
<rect x="112.20" y="615.00" width="4.40" height="40.20" rx="0" fill="url(#barg)" stroke="#6a6a6a" stroke-width="0.3" />
<rect x="118.00" y="619.50" width="4.20" height="35.70" rx="0" fill="url(#barg)" stroke="#6a6a6a" stroke-width="0.3" />
<rect x="129.10" y="606.00" width="4.40" height="49.20" rx="0" fill="url(#barg)" stroke="#6a6a6a" stroke-width="0.3" />
<rect x="134.60" y="633.30" width="4.50" height="21.90" rx="0" fill="url(#barg)" stroke="#6a6a6a" stroke-width="0.3" />
<rect x="140.20" y="628.80" width="4.40" height="26.40" rx="0" fill="url(#barg)" stroke="#6a6a6a" stroke-width="0.3" />
<rect x="151.00" y="633.30" width="4.70" height="21.90" rx="0" fill="url(#barg)" stroke="#6a6a6a" stroke-width="0.3" />
<rect x="157.10" y="646.60" width="4.30" height="8.60" rx="0" fill="url(#barg)" stroke="#6a6a6a" stroke-width="0.3" />
<line x1="88.90" y1="597.60" x2="88.90" y2="655.20" stroke="#333" stroke-width="0.5" />
<line x1="88.90" y1="655.20" x2="162.00" y2="655.20" stroke="#333" stroke-width="0.5" />
<line x1="87.80" y1="655.20" x2="88.90" y2="655.20" stroke="#333" stroke-width="0.4" />
<line x1="87.80" y1="637.40" x2="88.90" y2="637.40" stroke="#333" stroke-width="0.4" />
<line x1="87.80" y1="619.60" x2="88.90" y2="619.60" stroke="#333" stroke-width="0.4" />
<line x1="87.80" y1="601.80" x2="88.90" y2="601.80" stroke="#333" stroke-width="0.4" />
<text x="92.00" y="659.20" font-size="2.8" text-anchor="middle" fill="#444" >0400</text>
<line x1="92.00" y1="655.20" x2="92.00" y2="656.20" stroke="#333" stroke-width="0.4" />
<text x="103.40" y="659.20" font-size="2.8" text-anchor="middle" fill="#444" >0402</text>
<line x1="103.40" y1="655.20" x2="103.40" y2="656.20" stroke="#333" stroke-width="0.4" />
<text x="114.80" y="659.20" font-size="2.8" text-anchor="middle" fill="#444" >0402</text>
<line x1="114.80" y1="655.20" x2="114.80" y2="656.20" stroke="#333" stroke-width="0.4" />
<text x="126.20" y="659.20" font-size="2.8" text-anchor="middle" fill="#444" >0404</text>
<line x1="126.20" y1="655.20" x2="126.20" y2="656.20" stroke="#333" stroke-width="0.4" />
<text x="137.60" y="659.20" font-size="2.8" text-anchor="middle" fill="#444" >0406</text>
<line x1="137.60" y1="655.20" x2="137.60" y2="656.20" stroke="#333" stroke-width="0.4" />
<text x="149.00" y="659.20" font-size="2.8" text-anchor="middle" fill="#444" >0408</text>
<line x1="149.00" y1="655.20" x2="149.00" y2="656.20" stroke="#333" stroke-width="0.4" />
<text x="160.40" y="659.20" font-size="2.8" text-anchor="middle" fill="#444" >0410</text>
<line x1="160.40" y1="655.20" x2="160.40" y2="656.20" stroke="#333" stroke-width="0.4" />
<text transform="translate(84.8,626) rotate(-90)" font-size="3.4" text-anchor="middle" fill="#444">Predicted value of input</text>
<text x="87.20" y="656.20" font-size="2.6" text-anchor="end" fill="#444" >0</text>
<text x="87.20" y="638.40" font-size="2.6" text-anchor="end" fill="#444" >4</text>
<text x="87.20" y="620.60" font-size="2.6" text-anchor="end" fill="#444" >8</text>
<text x="87.20" y="602.80" font-size="2.6" text-anchor="end" fill="#444" >12</text>
<rect x="38.70" y="538.50" width="128.30" height="121.70" rx="0" fill="none" stroke="#666" stroke-width="0.9" />
<line x1="36.50" y1="660.20" x2="38.70" y2="660.20" stroke="#555" stroke-width="0.7" />
<text x="35.30" y="663.40" font-size="9.2" text-anchor="end" fill="#222" >0.0</text>
<line x1="36.50" y1="638.16" x2="38.70" y2="638.16" stroke="#555" stroke-width="0.7" />
<text x="35.30" y="641.36" font-size="9.2" text-anchor="end" fill="#222" >0.2</text>
<line x1="36.50" y1="616.12" x2="38.70" y2="616.12" stroke="#555" stroke-width="0.7" />
<text x="35.30" y="619.32" font-size="9.2" text-anchor="end" fill="#222" >0.4</text>
<line x1="36.50" y1="594.08" x2="38.70" y2="594.08" stroke="#555" stroke-width="0.7" />
<text x="35.30" y="597.28" font-size="9.2" text-anchor="end" fill="#222" >0.6</text>
<line x1="36.50" y1="572.04" x2="38.70" y2="572.04" stroke="#555" stroke-width="0.7" />
<text x="35.30" y="575.24" font-size="9.2" text-anchor="end" fill="#222" >0.8</text>
<line x1="36.50" y1="550.00" x2="38.70" y2="550.00" stroke="#555" stroke-width="0.7" />
<text x="35.30" y="553.20" font-size="9.2" text-anchor="end" fill="#222" >1.0</text>
<line x1="37.40" y1="649.18" x2="38.70" y2="649.18" stroke="#555" stroke-width="0.6" />
<line x1="37.40" y1="627.14" x2="38.70" y2="627.14" stroke="#555" stroke-width="0.6" />
<line x1="37.40" y1="605.10" x2="38.70" y2="605.10" stroke="#555" stroke-width="0.6" />
<line x1="37.40" y1="583.06" x2="38.70" y2="583.06" stroke="#555" stroke-width="0.6" />
<line x1="37.40" y1="561.02" x2="38.70" y2="561.02" stroke="#555" stroke-width="0.6" />
<text transform="translate(17.8,599) rotate(-90)" font-size="9.2" text-anchor="middle" fill="#222">Normalized accuracy</text>
<line x1="42.30" y1="544.60" x2="58.70" y2="544.60" stroke="#a0282c" stroke-width="1.2" />
<line x1="42.30" y1="553.60" x2="58.70" y2="553.60" stroke="#3a86e8" stroke-width="1.2" />
<text x="61.30" y="547.50" font-size="7.4" text-anchor="start" fill="#222" >Tested</text>
<text x="61.30" y="556.60" font-size="7.4" text-anchor="start" fill="#222" >Trained</text>
<polyline points="43.31,651.95 44.64,640.57 45.97,632.98 47.11,634.88 48.44,619.70 49.39,623.49 50.33,614.00 51.28,619.70 52.23,612.11 53.18,615.90 55.08,610.21 56.98,614.00 58.87,606.41 60.39,597.87 61.72,602.62 63.62,598.82 64.57,609.26 66.46,595.03 68.36,598.82 70.26,591.23 72.16,595.03 74.05,587.44 75.95,590.28 77.85,585.54 79.75,579.85 80.69,572.26 81.64,577.95 82.59,598.82 83.54,577.95 84.49,571.31 86.39,568.46 88.28,577.95 90.18,567.51 92.08,579.85 93.98,568.46 95.87,574.16 97.77,566.57 99.67,571.31 101.57,562.77 103.46,564.67 105.36,575.10 107.26,568.46 109.16,555.18 111.06,560.87 112.95,554.23 114.85,557.08 116.75,552.33 118.65,554.23 121.49,555.18 124.34,553.28 127.18,552.33 130.98,550.44 136.67,551.39 140.47,550.82 144.26,551.39 148.06,550.82 151.85,551.39 155.65,551.01 159.44,551.39 163.24,551.01" fill="none" stroke="#a0282c" stroke-width="1.15" stroke-linejoin="round"/>
<polyline points="43.31,643.42 44.45,634.88 45.59,627.29 47.11,619.70 48.44,612.11 49.76,610.59 50.90,608.31 52.23,602.62 55.08,595.98 58.87,590.28 62.67,585.54 66.46,579.85 70.26,575.10 74.05,570.36 77.85,565.62 82.59,562.77 87.34,559.92 94.93,556.13 102.52,553.28 110.11,551.76 117.70,551.01 129.08,549.87 144.26,549.49 163.24,549.49" fill="none" stroke="#3a86e8" stroke-width="1.25" stroke-linejoin="round"/>
<text x="0.80" y="674.00" font-size="16.5" text-anchor="start" fill="#000" font-weight="bold" >e</text>
<polygon points="40.9,690.9 42.1,690.9 43.4,690.9 44.6,690.9 45.9,690.9 47.1,690.9 48.3,690.9 49.6,702.1 50.8,713.2 52.1,724.4 53.3,735.6 54.5,746.8 55.8,748.6 57.0,750.5 58.2,752.3 59.5,754.2 60.7,756.0 62.0,757.4 63.2,758.2 64.4,759.1 65.7,759.9 66.9,760.8 68.2,761.6 69.4,762.5 70.6,763.3 71.9,764.2 73.1,765.0 74.4,765.9 75.6,766.7 76.8,767.6 78.1,768.4 79.3,769.3 80.5,770.1 81.8,771.0 83.0,771.8 84.3,772.7 85.5,773.5 86.7,774.4 88.0,775.2 89.2,776.1 90.5,776.5 91.7,777.0 92.9,777.5 94.2,778.0 95.4,778.4 96.7,778.9 97.9,779.4 99.1,779.8 100.4,780.3 101.6,780.8 102.8,781.2 104.1,781.7 105.3,782.2 106.6,782.6 107.8,783.1 109.0,783.6 110.3,784.0 111.5,784.5 112.8,785.0 114.0,785.4 115.2,785.9 116.5,786.4 117.7,786.8 119.0,787.3 120.2,787.8 121.4,788.0 122.7,788.3 123.9,788.5 125.2,788.8 126.4,789.0 127.6,789.3 128.9,789.5 130.1,789.8 131.3,790.1 132.6,790.3 133.8,790.6 135.1,790.8 136.3,791.1 137.5,791.3 138.8,791.6 140.0,791.8 141.3,792.1 142.5,792.4 143.7,792.6 145.0,792.9 146.2,793.1 147.5,793.4 148.7,793.6 149.9,793.9 151.2,794.1 152.4,794.4 153.6,794.7 154.9,794.9 156.1,795.2 157.4,795.4 158.6,795.7 159.8,795.9 161.1,796.2 162.3,796.4 163.6,796.7 163.6,804.4 162.3,804.4 161.1,804.4 159.8,804.4 158.6,804.4 157.4,804.4 156.1,804.4 154.9,804.4 153.6,804.4 152.4,804.4 151.2,804.4 149.9,804.4 148.7,804.4 147.5,804.4 146.2,804.4 145.0,804.4 143.7,804.4 142.5,804.4 141.3,804.4 140.0,804.4 138.8,804.4 137.5,804.4 136.3,804.4 135.1,804.4 133.8,804.4 132.6,804.4 131.3,804.4 130.1,804.4 128.9,804.4 127.6,804.4 126.4,804.4 125.2,804.4 123.9,804.4 122.7,804.4 121.4,804.4 120.2,804.4 119.0,804.4 117.7,804.4 116.5,804.4 115.2,804.4 114.0,804.4 112.8,804.4 111.5,804.4 110.3,804.4 109.0,804.1 107.8,803.9 106.6,803.6 105.3,803.3 104.1,803.1 102.8,802.8 101.6,802.5 100.4,802.3 99.1,802.0 97.9,801.7 96.7,801.5 95.4,801.2 94.2,800.9 92.9,800.7 91.7,800.4 90.5,800.1 89.2,799.9 88.0,799.6 86.7,799.3 85.5,798.9 84.3,798.2 83.0,797.5 81.8,796.8 80.5,796.1 79.3,795.4 78.1,794.7 76.8,794.0 75.6,793.3 74.4,792.6 73.1,791.9 71.9,791.2 70.6,790.5 69.4,789.8 68.2,789.1 66.9,788.4 65.7,787.7 64.4,787.0 63.2,786.3 62.0,785.6 60.7,784.2 59.5,781.9 58.2,779.7 57.0,777.5 55.8,775.3 54.5,773.0 53.3,770.8 52.1,768.6 50.8,766.4 49.6,764.1 48.3,761.9 47.1,757.7 45.9,753.5 44.6,749.3 43.4,745.0 42.1,740.8 40.9,736.6" fill="#c8cde8" opacity="0.95"/>
<rect x="38.40" y="680.20" width="128.80" height="124.20" rx="0" fill="none" stroke="#666" stroke-width="0.9" />
<line x1="36.60" y1="804.40" x2="38.40" y2="804.40" stroke="#555" stroke-width="0.7" />
<text x="34.80" y="807.80" font-size="9.6" text-anchor="end" fill="#222" >0</text>
<line x1="36.60" y1="779.56" x2="38.40" y2="779.56" stroke="#555" stroke-width="0.7" />
<text x="34.80" y="782.96" font-size="9.6" text-anchor="end" fill="#222" >1</text>
<line x1="36.60" y1="754.72" x2="38.40" y2="754.72" stroke="#555" stroke-width="0.7" />
<text x="34.80" y="758.12" font-size="9.6" text-anchor="end" fill="#222" >2</text>
<line x1="36.60" y1="729.88" x2="38.40" y2="729.88" stroke="#555" stroke-width="0.7" />
<text x="34.80" y="733.28" font-size="9.6" text-anchor="end" fill="#222" >3</text>
<line x1="36.60" y1="705.04" x2="38.40" y2="705.04" stroke="#555" stroke-width="0.7" />
<text x="34.80" y="708.44" font-size="9.6" text-anchor="end" fill="#222" >4</text>
<line x1="36.60" y1="680.20" x2="38.40" y2="680.20" stroke="#555" stroke-width="0.7" />
<text x="34.80" y="683.60" font-size="9.6" text-anchor="end" fill="#222" >5</text>
<line x1="37.40" y1="791.98" x2="38.40" y2="791.98" stroke="#555" stroke-width="0.6" />
<line x1="37.40" y1="767.14" x2="38.40" y2="767.14" stroke="#555" stroke-width="0.6" />
<line x1="37.40" y1="742.30" x2="38.40" y2="742.30" stroke="#555" stroke-width="0.6" />
<line x1="37.40" y1="717.46" x2="38.40" y2="717.46" stroke="#555" stroke-width="0.6" />
<line x1="37.40" y1="692.62" x2="38.40" y2="692.62" stroke="#555" stroke-width="0.6" />
<line x1="40.90" y1="804.40" x2="40.90" y2="806.40" stroke="#555" stroke-width="0.7" />
<text x="40.90" y="816.40" font-size="9.6" text-anchor="middle" fill="#222" >0</text>
<line x1="65.68" y1="804.40" x2="65.68" y2="806.40" stroke="#555" stroke-width="0.7" />
<text x="65.68" y="816.40" font-size="9.6" text-anchor="middle" fill="#222" >20</text>
<line x1="90.46" y1="804.40" x2="90.46" y2="806.40" stroke="#555" stroke-width="0.7" />
<text x="90.46" y="816.40" font-size="9.6" text-anchor="middle" fill="#222" >40</text>
<line x1="115.24" y1="804.40" x2="115.24" y2="806.40" stroke="#555" stroke-width="0.7" />
<text x="115.24" y="816.40" font-size="9.6" text-anchor="middle" fill="#222" >60</text>
<line x1="140.02" y1="804.40" x2="140.02" y2="806.40" stroke="#555" stroke-width="0.7" />
<text x="140.02" y="816.40" font-size="9.6" text-anchor="middle" fill="#222" >80</text>
<line x1="164.80" y1="804.40" x2="164.80" y2="806.40" stroke="#555" stroke-width="0.7" />
<text x="164.80" y="816.40" font-size="9.6" text-anchor="middle" fill="#222" >100</text>
<line x1="53.29" y1="804.40" x2="53.29" y2="805.60" stroke="#555" stroke-width="0.6" />
<line x1="78.07" y1="804.40" x2="78.07" y2="805.60" stroke="#555" stroke-width="0.6" />
<line x1="102.85" y1="804.40" x2="102.85" y2="805.60" stroke="#555" stroke-width="0.6" />
<line x1="127.63" y1="804.40" x2="127.63" y2="805.60" stroke="#555" stroke-width="0.6" />
<line x1="152.41" y1="804.40" x2="152.41" y2="805.60" stroke="#555" stroke-width="0.6" />
<text x="103.50" y="830.70" font-size="10.5" text-anchor="middle" fill="#222" >Epoch</text>
<text transform="translate(21.5,742.5) rotate(-90)" font-size="10.2" text-anchor="middle" fill="#222">Normalized loss</text>
<line x1="97.00" y1="688.60" x2="113.70" y2="688.60" stroke="#a0282c" stroke-width="1.2" />
<line x1="97.00" y1="697.80" x2="113.70" y2="697.80" stroke="#3a86e8" stroke-width="1.2" />
<text x="116.20" y="691.40" font-size="7.6" text-anchor="start" fill="#222" >Cross-entropy</text>
<text x="116.20" y="700.60" font-size="7.6" text-anchor="start" fill="#222" >Triplet</text>
<polyline points="42.14,732.36 43.01,738.45 43.87,743.24 44.74,747.07 45.61,750.89 46.48,753.35 47.34,755.27 48.21,757.18 49.08,759.09 49.94,760.71 50.81,761.92 51.68,763.14 52.55,764.05 53.41,764.97 54.28,766.06 55.15,766.91 56.02,768.63 56.88,769.39 57.75,772.83 58.62,772.96 59.48,772.99 60.35,774.47 61.22,774.59 62.09,777.29 62.95,777.15 63.82,778.45 64.69,778.46 65.56,779.13 66.42,781.27 67.29,781.34 68.16,781.76 69.03,780.76 69.89,781.72 70.76,783.80 71.63,782.80 72.49,785.01 73.36,784.37 74.23,786.01 75.10,786.74 75.96,785.13 76.83,787.11 77.70,787.53 78.57,786.28 79.43,786.98 80.30,788.68 81.17,787.73 82.03,789.04 82.90,789.19 83.77,790.54 84.64,789.55 85.50,790.46 86.37,790.39 87.24,790.96 88.11,792.42 88.97,792.73 89.84,793.47 90.71,793.88 91.58,794.31 92.44,794.24 93.31,794.09 94.18,795.30 95.04,794.62 95.91,795.42 96.78,795.76 97.65,795.31 98.51,796.02 99.38,796.48 100.25,796.51 101.12,796.48 101.98,797.53 102.85,796.66 103.72,798.05 104.58,797.44 105.45,797.57 106.32,798.68 107.19,798.00 108.05,798.63 108.92,798.58 109.79,799.35 110.66,799.48 111.52,799.51 112.39,798.90 113.26,799.83 114.12,799.46 114.99,799.47 115.86,799.64 116.73,800.37 117.59,800.53 118.46,800.51 119.33,800.41 120.20,801.11 121.06,800.68 121.93,800.77 122.80,800.84 123.67,801.64 124.53,801.03 125.40,801.83 126.27,801.75 127.13,801.66 128.00,801.56 128.87,802.11 129.74,801.80 130.60,802.16 131.47,802.38 132.34,802.43 133.21,802.58 134.07,802.70 134.94,802.70 135.81,802.38 136.67,802.22 137.54,802.84 138.41,802.97 139.28,802.39 140.14,802.75 141.01,802.88 141.88,803.04 142.75,802.85 143.61,802.73 144.48,802.98 145.35,803.03 146.22,803.28 147.08,802.75 147.95,803.33 148.82,803.06 149.68,802.87 150.55,803.33 151.42,802.98 152.29,802.86 153.15,803.08 154.02,803.00 154.89,803.44 155.76,803.26 156.62,803.46 157.49,803.05 158.36,803.41 159.22,803.33 160.09,803.02 160.96,803.13 161.83,803.08 162.69,803.41" fill="none" stroke="#a0282c" stroke-width="1.1" stroke-linejoin="round"/>
<polyline points="42.14,709.26 43.38,691.38 44.62,709.26 45.48,716.65 46.35,724.04 47.22,731.22 48.09,737.13 48.95,743.05 49.82,747.94 50.69,750.29 51.56,752.63 52.42,754.46 53.29,754.78 54.16,756.57 55.02,758.17 55.89,758.82 56.76,760.16 57.63,760.05 58.49,758.81 59.36,759.48 60.23,761.05 61.10,762.01 61.96,763.19 62.83,764.67 63.70,764.87 64.56,764.10 65.43,764.59 66.30,766.68 67.17,765.93 68.03,766.47 68.90,767.23 69.77,767.83 70.64,768.06 71.50,769.75 72.37,769.25 73.24,771.03 74.11,770.93 74.97,770.60 75.84,771.35 76.71,773.05 77.57,771.69 78.44,773.15 79.31,773.94 80.18,776.21 81.04,775.20 81.91,776.66 82.78,775.98 83.65,777.19 84.51,776.71 85.38,777.80 86.25,777.89 87.11,779.78 87.98,779.43 88.85,779.70 89.72,779.97 90.58,781.93 91.45,781.01 92.32,781.47 93.19,782.55 94.05,782.23 94.92,782.83 95.79,784.68 96.66,785.19 97.52,786.64 98.39,785.17 99.26,785.33 100.12,787.00 100.99,786.85 101.86,787.21 102.73,787.61 103.59,789.44 104.46,788.37 105.33,789.29 106.20,789.52 107.06,790.52 107.93,790.49 108.80,790.60 109.66,791.33 110.53,791.60 111.40,793.44 112.27,793.58 113.13,793.37 114.00,793.31 114.87,794.45 115.74,793.92 116.60,794.36 117.47,795.72 118.34,795.31 119.20,796.05 120.07,796.65 120.94,796.84 121.81,796.82 122.67,797.24 123.54,797.42 124.41,797.86 125.28,797.44 126.14,797.77 127.01,797.66 127.88,797.91 128.75,798.59 129.61,797.93 130.48,799.31 131.35,799.00 132.21,799.37 133.08,799.36 133.95,799.82 134.82,799.07 135.68,799.73 136.55,800.23 137.42,799.67 138.29,800.37 139.15,799.97 140.02,800.31 140.89,800.15 141.75,799.86 142.62,800.12 143.49,800.66 144.36,800.36 145.22,800.65 146.09,801.04 146.96,801.33 147.83,800.92 148.69,801.00 149.56,800.66 150.43,800.70 151.29,801.11 152.16,801.41 153.03,800.93 153.90,801.84 154.76,801.79 155.63,801.40 156.50,801.40 157.37,801.90 158.23,801.49 159.10,801.30 159.97,801.82 160.84,801.82 161.70,802.06 162.57,802.05 163.44,801.49" fill="none" stroke="#3a86e8" stroke-width="1.2" stroke-linejoin="round"/>
<text x="180.00" y="530.30" font-size="16.5" text-anchor="start" fill="#000" font-weight="bold" >f</text>
<text x="277.30" y="549.70" font-size="10.4" text-anchor="middle" fill="#222" >T-SNE of FVs (initial)</text>
<text transform="translate(197.5,605) rotate(-90)" font-size="10.9" text-anchor="middle" fill="#222">Principal component 2</text>
<circle cx="352.60" cy="554.50" r="1.80" fill="#2a58a8" />
<text x="361.30" y="556.40" font-size="5.4" text-anchor="start" fill="#555" >ā</text>
<circle cx="352.60" cy="561.62" r="1.80" fill="#555555" />
<text x="361.30" y="563.52" font-size="5.4" text-anchor="start" fill="#555" >ō</text>
<circle cx="352.60" cy="568.75" r="1.80" fill="#c87818" />
<text x="361.30" y="570.65" font-size="5.4" text-anchor="start" fill="#555" >yī</text>
<circle cx="352.60" cy="575.88" r="1.80" fill="#0e6f6f" />
<text x="361.30" y="577.77" font-size="5.4" text-anchor="start" fill="#555" >bā</text>
<circle cx="352.60" cy="583.00" r="1.80" fill="#d03040" />
<text x="361.30" y="584.90" font-size="5.4" text-anchor="start" fill="#555" >hēshuǐ</text>
<circle cx="352.60" cy="590.12" r="1.80" fill="#6a5aaa" />
<text x="361.30" y="592.02" font-size="5.4" text-anchor="start" fill="#555" >A</text>
<circle cx="352.60" cy="597.25" r="1.80" fill="#8e8e8e" />
<text x="361.30" y="599.15" font-size="5.4" text-anchor="start" fill="#555" >E</text>
<circle cx="352.60" cy="604.38" r="1.80" fill="#aaa21a" />
<text x="361.30" y="606.27" font-size="5.4" text-anchor="start" fill="#555" >I</text>
<circle cx="352.60" cy="611.50" r="1.80" fill="#138a5e" />
<text x="361.30" y="613.40" font-size="5.4" text-anchor="start" fill="#555" >O</text>
<circle cx="352.60" cy="618.62" r="1.80" fill="#a89bd4" />
<text x="361.30" y="620.52" font-size="5.4" text-anchor="start" fill="#555" >U</text>
<circle cx="352.60" cy="625.75" r="1.80" fill="#1b3a75" />
<text x="361.30" y="627.65" font-size="5.4" text-anchor="start" fill="#555" >Swallow</text>
<circle cx="352.60" cy="632.88" r="1.80" fill="#f0957a" />
<text x="361.30" y="634.77" font-size="5.4" text-anchor="start" fill="#555" >Cough</text>
<circle cx="352.60" cy="640.00" r="1.80" fill="#5aa0a2" />
<text x="361.30" y="641.90" font-size="5.4" text-anchor="start" fill="#555" >Drink</text>
<path d="M229.4 584.7h0M227.5 584.7h0M227.9 584.8h0M227.5 584.2h0M227.0 584.3h0M227.7 583.6h0M229.6 586.3h0M228.8 585.2h0M220.6 591.9h0M219.4 590.9h0M222.2 592.0h0M220.4 592.8h0M221.9 592.7h0M218.5 592.2h0M220.5 591.5h0M220.5 591.2h0M220.5 592.0h0M221.4 589.2h0M223.4 589.1h0M224.4 589.9h0M218.5 588.7h0M219.0 589.0h0M224.0 588.2h0M221.3 589.0h0M220.7 588.7h0M223.4 589.4h0M221.3 588.8h0M220.4 590.7h0M221.1 592.5h0M224.4 594.7h0M222.6 593.5h0M223.6 594.3h0M224.1 594.4h0M264.4 568.9h0M265.4 568.4h0M268.3 567.9h0M270.1 569.7h0M267.3 569.6h0M266.2 569.0h0M265.6 569.3h0M266.4 568.5h0M266.0 568.5h0M267.8 569.1h0M267.3 569.0h0M267.7 569.2h0M272.0 578.4h0M275.2 581.3h0M274.6 579.3h0M273.9 578.8h0M272.9 578.9h0M276.0 580.7h0M276.9 579.6h0M275.2 580.7h0M273.5 579.9h0M274.3 580.0h0M275.8 580.2h0M253.6 589.4h0M251.3 589.4h0M253.5 588.7h0M252.1 589.6h0M251.8 589.1h0M252.6 589.5h0M252.5 588.4h0M251.9 589.9h0M247.1 579.8h0M246.2 579.7h0M248.2 579.5h0M252.0 580.5h0M247.3 578.9h0M249.0 580.7h0M247.7 579.9h0M258.2 567.5h0M260.1 568.0h0M259.3 566.2h0M260.4 568.2h0M261.3 568.2h0M259.1 566.4h0M261.1 569.8h0M259.3 568.1h0M259.9 567.4h0M250.4 571.4h0M252.0 571.1h0M252.8 570.0h0M250.5 570.8h0M252.7 571.3h0M252.0 570.5h0M251.9 571.1h0M251.2 571.3h0M251.4 570.8h0M253.9 570.7h0M309.2 586.1h0M309.5 585.5h0M309.0 586.1h0M311.6 586.4h0M310.1 585.7h0M310.7 584.6h0M306.3 586.5h0M311.3 586.3h0M307.4 585.6h0M307.7 586.2h0M307.2 586.0h0M310.3 585.5h0M307.4 586.0h0M225.5 612.1h0M227.0 612.1h0M227.8 611.0h0M225.3 611.6h0M225.7 611.9h0M226.3 611.2h0M281.7 612.1h0M283.2 613.2h0M281.1 612.6h0M282.0 612.2h0M280.7 612.6h0M262.2 612.6h0M260.6 609.8h0M260.6 612.5h0M260.7 609.7h0M259.5 609.2h0M260.4 610.2h0M260.1 610.8h0M260.6 609.0h0M260.0 609.8h0M260.9 609.8h0M261.5 610.3h0M259.4 611.5h0M249.6 609.1h0M249.8 606.6h0M249.4 608.8h0M249.3 609.2h0M247.6 608.3h0M249.9 609.5h0M249.2 609.4h0M248.7 609.7h0M249.1 607.1h0M248.8 607.8h0M249.4 608.2h0M274.2 617.9h0M273.1 618.0h0M273.3 617.2h0M275.0 617.9h0M272.8 617.8h0M275.3 618.9h0M275.6 618.5h0M228.7 608.0h0M227.1 606.3h0M228.0 606.9h0M228.3 606.9h0M228.3 607.6h0M228.7 608.1h0M228.6 606.9h0M230.1 606.0h0M229.9 636.3h0M230.1 636.4h0M229.5 636.1h0M230.1 636.6h0M228.5 636.7h0M290.1 625.5h0M289.7 625.0h0M289.2 625.6h0M290.0 623.9h0M289.5 625.3h0M289.2 624.9h0M289.2 625.9h0M290.8 626.8h0M290.7 627.3h0M290.1 622.3h0M289.6 625.1h0M289.2 625.0h0M289.5 623.9h0M288.4 624.3h0M287.2 643.8h0M288.7 644.0h0M286.4 644.6h0M286.1 643.9h0M287.9 644.3h0M287.2 644.2h0M289.4 643.7h0M286.0 644.8h0M303.2 633.0h0M306.2 633.3h0M302.5 634.1h0M302.2 633.7h0M304.4 633.4h0M303.5 633.9h0M254.0 641.5h0M254.1 640.9h0M252.9 639.8h0M253.3 641.3h0M253.8 640.2h0M255.6 641.6h0M280.4 638.7h0M282.1 641.4h0M281.4 638.3h0M279.7 640.6h0M281.6 640.5h0M280.8 638.2h0M280.7 639.0h0M281.1 638.5h0M237.3 624.7h0M241.0 625.8h0M240.6 626.2h0M241.6 627.1h0M240.5 627.2h0M240.2 626.4h0M238.9 627.7h0M238.7 625.7h0M239.6 629.0h0M240.1 627.7h0M237.4 626.1h0M237.6 625.1h0M237.0 626.4h0M241.0 626.6h0M285.6 653.9h0M284.3 651.1h0M287.8 653.0h0M285.6 652.1h0M285.6 652.1h0M284.8 652.3h0M283.7 651.8h0M283.7 651.9h0M279.2 651.2h0M281.3 651.4h0M281.6 651.3h0M280.4 651.9h0M282.3 652.7h0M284.9 652.2h0M283.5 652.0h0M279.9 650.8h0M282.9 651.6h0M290.0 650.7h0M286.7 653.1h0M287.3 652.2h0M286.4 653.5h0M287.4 651.7h0M288.0 652.2h0M290.3 651.5h0M288.6 652.4h0M287.9 653.5h0M287.8 651.6h0M296.8 628.8h0M296.6 629.6h0M296.1 628.7h0M299.1 629.7h0M296.7 628.6h0M297.6 628.5h0M296.7 627.6h0M297.7 629.2h0M295.3 628.4h0M298.4 629.6h0M296.4 629.9h0M319.8 625.3h0M319.9 625.4h0M317.7 626.7h0M318.5 625.1h0M319.4 624.0h0M319.7 624.1h0M314.6 617.5h0M313.7 617.1h0M315.4 618.3h0M315.9 618.4h0M316.4 618.6h0M311.1 621.1h0M310.5 623.3h0M310.4 623.3h0M312.0 622.5h0M310.3 622.4h0M309.6 620.2h0M309.1 620.5h0M312.4 622.2h0M310.0 621.3h0M310.4 621.2h0M306.6 631.3h0M309.0 628.6h0M307.2 631.1h0M308.7 630.2h0M306.8 629.2h0M309.0 629.8h0M309.6 628.5h0M307.8 631.5h0M303.5 622.1h0M300.0 622.8h0M301.2 622.2h0M302.8 622.8h0M302.0 622.6h0M303.3 622.4h0M301.7 623.7h0M301.4 623.1h0M304.9 621.7h0M305.2 621.7h0M304.1 622.0h0M304.6 621.6h0M302.6 623.6h0M314.3 621.7h0M313.9 619.8h0M313.6 620.6h0M313.3 619.1h0M312.3 621.4h0M240.1 604.6h0M240.5 603.2h0M239.2 602.5h0M240.5 603.3h0M240.9 603.4h0M238.3 602.5h0M240.1 604.1h0M239.0 603.5h0M241.3 603.6h0M239.5 603.1h0M239.9 603.3h0M242.4 604.3h0M241.4 604.2h0M240.2 604.3h0M254.1 604.2h0M254.6 605.0h0M253.3 605.8h0M255.3 605.2h0M254.7 605.0h0M254.3 605.9h0M254.6 605.2h0M238.2 600.0h0M239.9 599.1h0M238.0 599.2h0M241.1 599.1h0M238.1 598.3h0M243.0 598.9h0M294.4 600.2h0M295.9 600.1h0M290.8 599.6h0M297.8 598.6h0M299.0 599.1h0M295.3 602.8h0M292.8 602.8h0M292.2 600.3h0M298.7 601.8h0M293.6 601.8h0M301.7 601.8h0M292.3 601.3h0M299.7 600.1h0M303.8 600.6h0M296.6 600.6h0M298.9 601.0h0M300.4 600.3h0M293.1 602.0h0M296.7 600.4h0M298.4 600.3h0M299.7 600.7h0M300.3 602.7h0M300.3 601.0h0M301.3 600.2h0M296.1 601.6h0M297.2 599.6h0M296.4 601.2h0M294.3 601.4h0M293.7 600.8h0M301.7 601.0h0M300.9 600.8h0M303.0 601.0h0M300.1 599.6h0M296.7 600.5h0M296.4 598.9h0M293.0 603.4h0M297.3 600.6h0M301.7 601.0h0M301.1 599.8h0M296.8 600.5h0M297.3 598.6h0M301.2 599.9h0M298.1 599.6h0M298.9 600.6h0M296.1 602.7h0M299.5 599.9h0M297.7 600.7h0M302.5 602.5h0M299.5 597.6h0M294.5 601.1h0M293.3 601.1h0M292.5 602.5h0M297.5 600.3h0M293.8 599.6h0M291.2 600.8h0M297.6 601.3h0M297.4 601.7h0M299.5 601.1h0M299.2 599.9h0M297.8 600.6h0M299.0 598.3h0M302.7 599.3h0M300.1 600.8h0M295.5 602.3h0M299.4 599.8h0M293.4 601.3h0M299.4 600.3h0M301.5 602.2h0M302.0 600.1h0M295.3 601.1h0M297.9 600.3h0M293.2 600.3h0M297.1 600.1h0M295.5 600.8h0M295.0 600.1h0M300.4 601.0h0M301.0 600.2h0M292.3 602.3h0M303.5 599.1h0M299.5 601.1h0M293.8 599.8h0M287.9 602.1h0M296.4 601.3h0M303.3 601.5h0M299.4 601.8h0M295.9 600.3h0M299.1 601.2h0M298.0 600.4h0M303.3 601.4h0M301.7 601.9h0M265.3 615.2h0M261.2 619.7h0M261.2 619.2h0M266.6 617.6h0M257.3 620.0h0M260.6 616.1h0M266.8 617.2h0M260.2 616.5h0M261.1 618.2h0M259.4 618.2h0M257.7 617.9h0M262.6 619.2h0M262.2 619.2h0M259.6 618.0h0M268.9 616.4h0M259.6 617.6h0M260.3 620.6h0M259.0 617.9h0M262.3 619.6h0M259.4 616.1h0M264.1 617.6h0M263.0 616.9h0M261.3 616.9h0M259.6 617.8h0M264.0 616.3h0M265.2 620.1h0M266.2 616.7h0M264.3 620.5h0M263.7 617.3h0M260.1 616.8h0M262.7 619.7h0M262.0 619.9h0M260.7 617.9h0M260.5 617.4h0M268.9 617.6h0M262.9 618.1h0M265.7 621.1h0M266.1 617.4h0M267.2 618.0h0M261.8 619.9h0M263.0 618.5h0M253.7 619.8h0M259.3 617.2h0M261.3 618.6h0M264.0 619.3h0M263.0 617.7h0M264.2 617.2h0M260.0 617.8h0M264.3 615.0h0M261.7 617.2h0M266.1 617.0h0M265.8 618.2h0M260.6 617.3h0M260.3 618.5h0M259.2 616.9h0M262.1 619.9h0M263.7 617.4h0M259.7 617.7h0M263.8 620.6h0M263.7 617.3h0M280.0 622.4h0M289.7 625.0h0M288.0 624.0h0M284.3 624.1h0M286.8 623.5h0M283.9 624.3h0M286.6 624.7h0M287.3 624.6h0M284.2 625.3h0M283.2 623.5h0M285.9 624.5h0M289.7 624.9h0M281.0 624.7h0M282.5 625.0h0M282.9 625.0h0M284.8 626.1h0M280.3 624.2h0M283.0 624.0h0M281.5 624.1h0M287.8 622.9h0M282.3 625.2h0M281.9 623.2h0M281.8 625.3h0M286.3 624.9h0M283.7 624.5h0M285.1 624.8h0M282.9 623.4h0M292.5 624.5h0M285.8 625.6h0M280.5 624.6h0M283.5 624.7h0M283.0 624.9h0M284.5 621.9h0M287.5 624.5h0M286.0 625.0h0M289.0 624.1h0M288.5 625.8h0M283.1 623.0h0M287.7 622.3h0M288.4 624.0h0" stroke="#d03040" stroke-width="1.2" stroke-linecap="square"/>
<path d="M237.4 580.2h0M237.1 579.6h0M234.7 580.6h0M238.4 579.7h0M238.3 579.6h0M243.7 583.7h0M242.0 585.5h0M246.0 583.5h0M244.6 584.7h0M245.3 583.5h0M243.7 584.0h0M242.7 584.2h0M242.1 585.2h0M222.0 584.0h0M221.2 581.8h0M223.3 584.0h0M221.7 582.7h0M220.7 581.3h0M221.1 581.3h0M220.5 581.3h0M222.7 583.3h0M221.3 580.7h0M222.2 583.3h0M221.4 581.7h0M222.0 581.5h0M222.4 581.2h0M239.8 591.6h0M240.2 591.1h0M241.0 591.5h0M239.5 592.6h0M240.7 592.6h0M241.8 591.4h0M240.7 590.3h0M236.5 578.6h0M234.5 579.3h0M234.5 579.1h0M236.6 576.0h0M235.9 578.4h0M235.9 576.3h0M234.9 578.3h0M234.9 577.9h0M236.2 576.9h0M234.7 577.9h0M234.1 578.5h0M235.5 577.1h0M235.0 578.7h0M235.0 577.8h0M262.6 568.6h0M260.7 570.4h0M260.9 567.9h0M261.2 569.9h0M261.2 568.9h0M263.7 568.5h0M262.0 568.8h0M262.0 567.8h0M261.9 567.3h0M262.2 568.8h0M259.8 568.4h0M262.3 568.4h0M261.9 568.4h0M260.1 569.2h0M267.1 579.0h0M269.3 579.6h0M268.1 578.9h0M269.5 578.8h0M266.6 578.6h0M269.3 579.7h0M271.2 578.3h0M269.7 578.7h0M267.1 579.9h0M269.1 579.0h0M268.6 579.2h0M265.9 579.7h0M266.4 569.2h0M268.3 568.8h0M267.0 569.6h0M268.8 569.3h0M269.5 568.7h0M269.7 569.3h0M267.2 569.1h0M259.8 590.2h0M259.5 590.2h0M260.0 587.3h0M258.7 589.9h0M258.8 590.7h0M258.5 590.6h0M258.8 591.1h0M272.1 581.9h0M273.3 580.8h0M270.1 581.5h0M271.2 581.3h0M270.2 582.6h0M274.6 580.7h0M271.8 581.9h0M273.2 580.9h0M273.0 581.8h0M271.5 580.9h0M273.9 581.0h0M260.4 583.4h0M256.4 581.7h0M255.8 582.6h0M258.7 583.6h0M254.5 581.5h0M256.1 582.6h0M257.4 582.8h0M255.7 581.5h0M256.6 582.2h0M253.8 582.6h0M295.8 581.9h0M296.6 581.5h0M295.8 581.5h0M297.1 583.2h0M296.4 582.9h0M296.1 584.2h0M296.6 582.1h0M296.5 584.2h0M294.9 583.8h0M313.1 577.7h0M314.3 579.3h0M313.4 579.1h0M314.2 577.6h0M314.0 578.3h0M312.7 577.6h0M314.5 579.5h0M312.4 578.0h0M313.3 578.2h0M313.9 579.8h0M313.7 578.3h0M314.5 578.9h0M313.5 578.6h0M230.3 611.5h0M230.2 611.6h0M229.1 609.8h0M230.7 611.2h0M229.5 610.3h0M229.8 610.9h0M230.7 610.9h0M235.3 612.5h0M237.1 612.3h0M236.0 612.3h0M236.1 613.8h0M235.5 611.9h0M238.1 612.8h0M236.9 612.7h0M235.7 611.8h0M233.6 612.0h0M234.9 612.1h0M223.1 613.0h0M220.7 613.7h0M223.3 613.7h0M224.9 612.3h0M221.5 613.2h0M221.6 612.8h0M237.9 641.7h0M237.7 641.4h0M241.1 642.1h0M240.6 642.3h0M239.9 641.8h0M236.7 640.4h0M242.1 641.9h0M239.3 641.9h0M238.5 641.9h0M239.4 641.1h0M239.3 641.1h0M239.1 641.9h0M240.4 642.9h0M305.5 641.7h0M305.2 641.6h0M304.8 641.8h0M307.7 642.2h0M304.1 640.9h0M305.9 641.5h0M306.4 641.4h0M308.2 641.5h0M308.4 641.0h0M306.9 642.1h0M303.7 642.3h0M306.9 640.9h0M272.1 647.5h0M274.4 649.4h0M276.8 649.6h0M276.6 648.0h0M273.5 648.7h0M278.2 648.5h0M273.9 648.6h0M278.2 647.3h0M276.3 647.7h0M277.1 649.4h0M261.1 633.7h0M259.8 633.8h0M262.1 633.9h0M258.6 634.1h0M259.9 633.6h0M260.8 634.0h0M261.8 633.8h0M259.6 634.6h0M287.6 629.9h0M287.4 630.5h0M287.4 629.0h0M289.0 628.6h0M288.4 629.2h0M288.9 629.9h0M289.4 628.3h0M286.7 629.2h0M287.9 629.3h0M287.9 627.7h0M287.4 628.8h0M288.4 628.7h0M287.2 629.1h0M287.6 626.9h0M280.6 646.4h0M283.1 648.6h0M281.2 647.9h0M282.6 649.1h0M281.4 646.8h0M280.3 647.4h0M283.2 647.1h0M284.0 648.4h0M248.0 627.4h0M248.4 628.6h0M248.0 628.6h0M250.4 626.9h0M251.4 627.6h0M251.6 625.8h0M249.2 628.4h0M249.1 627.9h0M253.0 627.4h0M248.9 628.1h0M246.9 648.0h0M246.4 647.3h0M247.1 647.8h0M246.5 646.8h0M247.1 646.7h0M246.0 649.1h0M248.0 646.0h0M250.5 648.1h0M250.6 648.7h0M249.0 649.5h0M249.7 648.1h0M249.0 648.6h0M249.7 649.7h0M250.5 647.9h0M251.3 650.6h0M238.8 633.2h0M240.5 633.3h0M242.0 633.1h0M238.5 632.2h0M243.6 633.7h0M238.3 632.3h0M239.1 633.3h0M243.3 634.2h0M241.6 633.5h0M240.5 633.9h0M257.3 636.4h0M256.8 636.8h0M257.4 636.2h0M255.4 637.7h0M255.9 638.1h0M255.1 637.7h0M254.9 637.4h0M255.8 638.2h0M254.7 638.6h0M234.3 629.1h0M234.8 629.1h0M232.7 627.6h0M233.9 629.4h0M233.9 629.7h0M235.9 629.7h0M235.6 629.3h0M236.2 630.0h0M234.7 628.8h0M233.5 629.5h0M232.9 628.3h0M234.9 629.6h0M234.9 629.9h0M301.0 641.9h0M302.8 642.2h0M300.9 642.5h0M300.5 641.1h0M301.1 643.4h0M302.2 641.7h0M301.8 642.9h0M301.7 642.1h0M297.0 617.5h0M297.5 616.8h0M296.6 617.0h0M298.0 615.8h0M294.0 616.9h0M296.6 617.9h0M298.4 616.0h0M306.0 614.5h0M306.9 611.9h0M305.6 612.2h0M306.3 615.2h0M306.0 612.7h0M309.2 616.7h0M309.9 617.8h0M309.2 615.9h0M308.9 618.0h0M310.4 618.4h0M309.9 618.0h0M308.0 617.2h0M309.6 618.3h0M309.0 616.0h0M333.0 610.1h0M328.2 607.9h0M330.2 608.5h0M328.1 609.5h0M329.1 608.3h0M330.1 608.7h0M331.1 609.5h0M329.0 610.5h0M330.2 610.2h0M331.7 610.4h0M330.2 610.0h0M328.6 609.8h0M332.4 610.6h0M328.7 608.0h0M329.2 608.2h0M331.5 610.9h0M331.7 609.0h0M326.0 608.0h0M330.1 611.0h0M330.6 609.8h0M329.8 610.0h0M333.1 610.1h0M329.6 610.4h0M327.0 609.6h0M327.3 610.8h0M259.0 643.3h0M249.4 643.5h0M252.2 640.8h0M249.1 640.3h0M247.1 640.9h0M252.4 642.0h0M252.0 641.6h0M257.0 641.4h0M246.4 640.5h0M253.6 638.7h0M249.6 641.2h0M251.3 640.1h0M246.9 641.4h0M251.4 642.7h0M254.4 641.5h0M245.9 643.1h0M255.3 642.1h0M247.3 642.6h0M249.9 640.6h0M249.4 641.3h0M245.7 644.8h0M250.4 642.4h0M247.1 642.1h0M246.6 642.7h0M252.6 642.3h0M251.4 642.1h0M248.4 641.9h0M251.8 641.5h0M246.9 639.1h0M253.0 640.9h0M250.6 640.6h0M250.9 642.2h0M244.8 644.0h0M249.6 642.4h0M249.4 640.7h0M247.5 644.1h0M244.3 641.1h0M252.8 639.8h0M244.1 641.1h0M247.5 640.6h0M245.7 641.2h0M253.4 640.3h0M256.4 642.3h0M244.0 642.5h0M248.5 642.0h0" stroke="#5aa0a2" stroke-width="1.2" stroke-linecap="square"/>
<path d="M227.9 595.1h0M228.6 594.6h0M229.5 595.6h0M229.0 595.2h0M229.7 594.1h0M228.7 593.8h0M228.6 595.2h0M242.7 590.7h0M241.5 587.7h0M241.5 587.6h0M241.5 589.3h0M242.5 587.8h0M241.0 588.5h0M240.5 589.6h0M240.6 587.2h0M240.4 587.0h0M241.8 589.9h0M260.7 590.5h0M260.3 590.3h0M263.0 590.0h0M259.5 590.2h0M262.0 591.0h0M261.9 590.7h0M257.4 589.5h0M260.3 590.6h0M264.1 590.2h0M258.0 589.2h0M257.4 591.1h0M259.6 589.5h0M263.2 590.6h0M260.9 590.1h0M275.1 586.9h0M274.6 585.9h0M273.9 585.8h0M275.4 587.4h0M275.3 587.3h0M246.2 581.6h0M246.3 582.2h0M247.3 582.0h0M246.0 582.5h0M245.0 580.7h0M245.0 580.8h0M244.9 581.4h0M247.0 582.6h0M245.2 581.0h0M245.5 581.7h0M246.2 582.9h0M244.8 580.9h0M244.7 581.4h0M246.3 582.1h0M248.0 582.4h0M248.7 580.8h0M248.6 580.9h0M249.6 583.1h0M247.4 580.7h0M247.9 583.1h0M247.9 584.9h0M246.9 584.1h0M248.1 584.0h0M247.2 581.9h0M247.2 579.5h0M247.3 582.3h0M248.3 583.3h0M247.4 581.7h0M248.5 580.3h0M250.8 578.5h0M247.9 581.6h0M247.8 581.1h0M249.2 579.8h0M247.3 580.0h0M248.2 579.3h0M247.6 581.7h0M250.1 579.6h0M249.1 580.8h0M248.2 578.7h0M247.5 580.2h0M248.8 579.6h0M305.6 583.3h0M305.9 583.9h0M304.4 582.9h0M306.4 584.3h0M305.7 583.4h0M307.5 583.9h0M306.6 584.3h0M307.7 583.7h0M304.1 582.5h0M305.9 583.5h0M304.6 582.9h0M306.8 584.7h0M304.4 582.5h0M303.8 577.9h0M305.7 578.0h0M307.6 578.4h0M308.0 577.8h0M304.4 577.0h0M305.0 578.1h0M305.8 577.3h0M293.6 578.4h0M293.1 578.1h0M292.4 578.9h0M293.4 577.6h0M293.3 578.9h0M292.1 579.0h0M293.0 578.0h0M274.5 614.1h0M273.1 616.1h0M273.6 615.9h0M274.2 614.2h0M275.4 615.2h0M272.1 617.4h0M271.7 616.0h0M272.0 615.9h0M272.1 616.8h0M274.0 614.9h0M279.3 617.0h0M279.3 617.3h0M277.1 616.1h0M278.1 617.4h0M276.9 616.5h0M276.3 617.2h0M278.8 615.8h0M289.1 615.1h0M288.2 617.9h0M289.5 616.5h0M289.6 617.6h0M288.8 614.6h0M289.0 614.9h0M289.6 617.6h0M286.8 616.7h0M285.6 617.9h0M285.3 616.1h0M287.6 616.3h0M287.6 617.7h0M287.2 617.4h0M285.5 616.3h0M289.2 618.4h0M286.6 616.9h0M288.7 617.5h0M256.0 606.9h0M255.8 607.9h0M254.3 605.5h0M254.5 603.3h0M255.1 605.2h0M257.1 605.1h0M256.3 607.1h0M231.1 636.4h0M230.4 637.2h0M228.2 638.8h0M228.7 637.7h0M230.0 635.2h0M228.4 637.1h0M229.4 636.8h0M229.3 638.4h0M229.7 637.8h0M230.1 637.8h0M228.3 638.7h0M232.6 636.2h0M302.3 632.6h0M302.2 632.5h0M305.7 631.9h0M304.8 632.1h0M306.0 631.6h0M304.5 632.1h0M302.6 632.8h0M305.3 633.0h0M304.1 631.6h0M304.9 632.5h0M301.9 632.9h0M302.3 632.8h0M304.7 632.6h0M289.9 646.7h0M293.6 645.6h0M289.8 647.2h0M291.2 647.3h0M289.1 647.6h0M291.0 647.7h0M286.6 647.2h0M289.5 646.7h0M291.8 647.1h0M290.8 646.8h0M289.9 646.5h0M242.4 624.3h0M244.7 623.7h0M244.0 623.1h0M244.3 623.4h0M244.8 622.2h0M244.1 624.0h0M245.1 623.7h0M246.1 622.6h0M243.0 622.9h0M245.6 623.9h0M243.3 622.6h0M289.5 636.4h0M286.8 637.2h0M286.3 637.6h0M291.1 636.5h0M289.3 635.6h0M290.3 635.7h0M286.7 637.2h0M289.8 635.8h0M290.1 635.5h0M299.8 621.7h0M301.7 622.6h0M300.3 622.5h0M301.9 621.9h0M301.2 622.2h0M300.6 621.3h0M301.7 622.3h0M298.9 622.5h0M302.7 621.5h0M301.0 622.3h0M303.4 621.8h0M309.2 631.6h0M308.6 632.0h0M308.9 631.2h0M308.4 632.3h0M308.1 630.8h0M308.9 632.3h0M309.2 632.0h0M308.4 629.5h0M308.3 631.4h0M310.5 632.0h0M307.7 630.3h0M308.0 630.2h0M309.2 633.0h0M296.1 622.8h0M294.1 622.0h0M296.2 621.5h0M294.7 621.1h0M296.1 624.3h0M296.4 624.2h0M297.5 622.6h0M293.8 621.3h0M293.6 621.4h0M295.4 621.9h0M293.1 621.4h0M296.4 621.6h0M296.9 624.0h0M238.8 596.6h0M244.0 596.1h0M241.1 595.4h0M241.7 595.1h0M243.7 595.0h0M242.3 595.2h0M241.6 597.0h0" stroke="#6a5aaa" stroke-width="1.2" stroke-linecap="square"/>
<path d="M236.3 584.0h0M235.3 581.8h0M236.9 582.5h0M236.6 581.9h0M235.9 581.6h0M236.6 582.4h0M233.8 582.8h0M237.6 582.5h0M235.2 580.4h0M236.2 583.6h0M234.9 581.8h0M237.3 583.6h0M232.5 584.3h0M234.3 583.7h0M234.4 584.2h0M231.1 585.9h0M231.9 584.8h0M230.1 584.5h0M234.3 585.1h0M231.8 584.0h0M234.5 583.1h0M232.7 585.9h0M235.5 584.3h0M232.6 584.7h0M231.6 585.5h0M235.3 579.3h0M235.0 579.8h0M236.1 579.6h0M236.3 580.8h0M237.3 581.8h0M260.8 569.7h0M262.9 568.6h0M259.8 570.0h0M262.0 568.0h0M261.2 568.8h0M263.1 571.0h0M260.8 569.8h0M260.2 569.7h0M260.6 569.4h0M262.3 570.0h0M262.2 588.1h0M264.3 588.0h0M262.8 587.2h0M261.5 586.8h0M263.5 586.9h0M262.4 587.8h0M270.6 587.7h0M270.9 588.7h0M271.0 591.1h0M272.2 589.3h0M271.3 588.6h0M272.2 589.6h0M272.2 589.4h0M270.8 590.3h0M272.1 590.9h0M272.6 590.1h0M269.3 587.8h0M278.5 577.0h0M277.2 578.2h0M276.3 578.0h0M279.2 577.4h0M279.5 576.9h0M277.7 577.8h0M277.6 577.1h0M276.8 578.6h0M292.9 581.0h0M295.8 580.1h0M295.8 580.0h0M296.4 578.0h0M295.0 580.9h0M294.8 581.7h0M294.8 580.2h0M294.4 580.6h0M294.3 581.1h0M294.2 580.2h0M296.0 579.5h0M323.8 580.6h0M322.8 580.5h0M321.3 581.2h0M319.9 580.7h0M319.4 580.9h0M322.3 580.6h0M322.6 580.2h0M323.4 579.0h0M320.7 580.8h0M320.3 581.5h0M308.1 585.4h0M308.4 586.8h0M308.2 584.8h0M305.1 583.6h0M305.4 585.3h0M307.4 585.4h0M308.2 584.5h0M307.3 584.4h0M303.5 584.8h0M308.1 584.9h0M309.3 614.8h0M308.8 613.7h0M311.9 614.0h0M310.4 614.8h0M308.5 615.3h0M312.3 612.6h0M308.4 614.8h0M310.0 614.1h0M308.4 614.0h0M310.0 615.5h0M309.9 614.3h0M311.8 613.0h0M309.3 614.4h0M254.3 607.4h0M256.2 608.7h0M256.3 608.6h0M254.0 610.2h0M257.3 608.8h0M255.8 607.5h0M256.1 608.4h0M254.5 610.4h0M255.9 608.0h0M254.4 610.0h0M256.3 609.3h0M254.8 608.8h0M254.0 608.8h0M254.3 610.7h0M247.2 607.9h0M244.7 606.8h0M249.6 608.7h0M245.2 607.5h0M246.1 606.9h0M244.1 606.8h0M243.7 607.3h0M245.7 606.9h0M249.1 608.2h0M246.8 607.5h0M245.7 606.4h0M247.4 607.9h0M245.5 607.8h0M219.6 611.6h0M221.4 613.0h0M220.9 613.2h0M221.1 612.9h0M220.4 610.9h0M221.4 613.9h0M222.1 613.3h0M219.7 612.2h0M221.5 613.2h0M246.8 618.2h0M246.2 617.2h0M247.7 616.8h0M247.3 618.6h0M247.2 618.2h0M248.1 618.8h0M248.0 617.7h0M247.8 618.7h0M248.5 616.6h0M247.3 617.9h0M246.3 610.1h0M247.6 611.7h0M248.8 610.3h0M246.4 609.7h0M247.8 609.2h0M246.4 610.6h0M250.6 610.2h0M248.7 611.0h0M246.3 610.4h0M250.5 610.7h0M253.4 610.6h0M254.3 608.8h0M254.1 608.5h0M252.8 611.3h0M254.0 609.4h0M252.5 608.4h0M253.8 607.6h0M253.5 608.7h0M252.8 610.0h0M251.9 607.3h0M251.7 606.6h0M250.9 604.9h0M251.5 605.8h0M251.8 606.0h0M252.0 605.5h0M252.3 605.6h0M306.8 637.1h0M306.7 636.1h0M309.1 638.2h0M310.5 638.6h0M310.7 637.1h0M307.3 637.0h0M310.0 637.1h0M309.1 637.5h0M307.4 636.5h0M309.3 638.8h0M308.4 637.8h0M295.2 625.2h0M294.9 625.4h0M293.0 627.8h0M296.3 626.1h0M296.5 625.2h0M296.1 626.6h0M295.5 625.7h0M243.8 647.6h0M244.0 648.9h0M244.1 646.2h0M243.9 646.5h0M244.4 645.8h0M245.1 648.1h0M243.7 646.2h0M245.3 646.4h0M244.8 645.8h0M245.5 649.3h0M244.3 647.4h0M244.4 646.5h0M245.6 648.5h0M243.2 649.2h0M305.5 638.3h0M304.5 638.4h0M302.7 638.8h0M305.6 637.4h0M305.7 637.7h0M305.7 636.9h0M304.7 638.4h0M305.4 639.6h0M305.0 638.4h0M304.3 635.7h0M305.2 637.0h0M304.4 635.8h0M256.1 647.4h0M259.4 649.4h0M255.6 649.1h0M259.5 648.7h0M256.6 648.3h0M261.4 633.3h0M259.0 634.0h0M259.7 633.0h0M260.2 635.9h0M259.6 633.6h0M259.7 633.5h0M259.9 633.7h0M260.7 633.0h0M259.7 634.5h0M261.5 633.0h0M260.6 634.2h0M261.0 632.1h0M258.5 634.1h0M259.0 634.1h0M290.2 654.6h0M287.6 654.2h0M288.0 654.0h0M290.7 655.3h0M290.5 655.8h0M293.4 657.4h0M293.2 656.6h0M291.0 657.0h0M292.6 657.5h0M295.1 656.6h0M293.3 657.2h0M291.8 658.1h0M294.2 656.9h0M293.2 658.4h0M291.8 658.2h0M291.1 657.3h0M291.4 657.8h0M295.0 657.6h0M313.3 630.4h0M312.9 628.6h0M312.8 628.1h0M312.3 630.2h0M311.6 629.1h0M312.5 628.5h0M312.6 629.5h0M315.8 637.3h0M312.7 639.0h0M314.1 637.3h0M320.2 636.3h0M316.5 636.8h0M318.2 634.7h0M313.4 637.4h0M318.4 636.9h0M318.4 636.5h0M310.2 635.5h0M320.9 636.1h0M311.8 637.7h0M313.2 635.9h0M317.6 636.1h0M320.3 636.9h0M318.3 636.0h0M317.3 637.7h0M313.8 635.7h0M312.7 636.9h0M324.4 635.1h0M313.2 636.1h0M309.4 637.8h0M317.7 636.0h0M315.8 635.8h0M311.4 636.5h0M319.4 637.1h0M312.8 637.6h0M317.5 635.9h0M321.9 635.5h0M320.4 636.3h0M316.9 637.7h0M313.7 636.4h0M315.2 638.1h0M318.8 637.1h0M318.6 636.5h0M316.2 638.0h0M324.2 637.5h0M313.5 637.2h0M309.3 637.9h0M317.4 636.2h0M240.2 653.6h0M236.7 655.9h0M243.0 654.4h0M237.8 654.2h0M238.5 654.9h0M240.7 655.0h0M238.1 654.2h0M240.4 655.7h0M242.0 655.0h0M237.7 656.5h0M240.2 657.0h0M242.0 656.0h0M239.5 655.0h0M241.7 656.7h0M238.9 657.0h0M238.0 653.9h0M240.4 654.6h0M239.6 655.6h0M240.9 654.6h0M236.3 654.7h0M245.1 656.6h0M242.2 653.3h0M240.8 655.1h0M239.8 652.8h0M244.7 653.9h0M241.0 656.0h0M241.9 656.6h0M239.6 653.7h0M241.6 656.4h0M238.9 655.6h0M239.6 653.9h0M238.0 655.6h0M242.6 654.4h0M241.8 654.1h0M243.0 654.7h0M240.5 655.1h0M237.6 656.4h0M238.5 654.3h0M243.0 655.0h0M237.9 656.1h0M236.1 656.5h0M241.3 656.0h0M239.7 654.3h0M240.3 656.8h0M239.7 653.0h0" stroke="#1b3a75" stroke-width="1.2" stroke-linecap="square"/>
<path d="M224.9 587.1h0M227.7 585.7h0M222.2 586.8h0M225.1 587.4h0M223.4 587.5h0M225.4 587.1h0M224.1 586.9h0M225.4 584.8h0M225.2 586.0h0M221.0 587.9h0M222.3 585.8h0M222.7 585.5h0M223.0 587.3h0M223.0 587.3h0M222.0 589.2h0M243.0 581.0h0M239.6 582.7h0M240.1 581.7h0M239.2 581.8h0M242.7 581.3h0M242.2 581.5h0M239.6 582.1h0M241.4 580.4h0M240.6 580.8h0M239.2 580.8h0M243.1 582.0h0M230.8 580.5h0M230.5 581.4h0M229.2 578.8h0M230.8 581.1h0M230.4 580.8h0M231.3 581.8h0M219.6 588.1h0M221.0 588.6h0M220.2 588.8h0M221.0 588.7h0M221.6 589.8h0M222.3 588.0h0M226.6 583.4h0M226.5 584.4h0M226.5 582.3h0M227.7 584.2h0M225.9 584.0h0M227.7 584.3h0M226.7 584.3h0M226.9 583.9h0M227.0 582.3h0M226.6 584.4h0M225.9 583.3h0M227.2 584.4h0M314.6 579.1h0M314.5 578.8h0M313.1 577.8h0M314.9 577.8h0M313.0 578.7h0M312.9 578.5h0M314.6 578.6h0M312.9 578.1h0M313.3 587.0h0M314.7 587.2h0M313.9 586.5h0M314.6 586.8h0M314.8 587.4h0M314.8 588.0h0M313.2 585.5h0M313.6 588.5h0M315.9 588.1h0M314.3 585.6h0M313.6 585.4h0M307.8 575.3h0M309.3 577.4h0M308.9 577.2h0M309.2 578.2h0M308.4 578.5h0M309.1 576.9h0M280.7 615.6h0M277.1 615.9h0M279.4 615.7h0M279.3 615.6h0M278.0 616.8h0M276.9 616.3h0M279.9 615.6h0M276.8 616.1h0M278.6 615.2h0M279.7 615.2h0M277.5 617.0h0M270.6 620.0h0M271.1 621.6h0M269.0 619.7h0M269.8 621.0h0M270.3 620.1h0M269.7 621.4h0M270.8 618.6h0M269.0 618.3h0M269.4 617.8h0M270.6 619.4h0M269.0 618.8h0M269.2 617.9h0M269.2 619.2h0M269.4 619.6h0M251.1 607.3h0M250.4 607.3h0M252.6 607.3h0M252.5 606.3h0M250.5 606.9h0M252.3 608.2h0M253.5 607.8h0M253.1 608.0h0M251.1 605.9h0M250.9 606.1h0M251.7 607.8h0M247.1 610.7h0M245.0 609.2h0M245.9 609.7h0M245.0 609.9h0M244.7 609.0h0M268.1 603.7h0M267.9 605.4h0M265.9 603.2h0M268.8 605.9h0M268.1 604.7h0M268.1 604.7h0M266.7 604.5h0M266.8 605.6h0M268.4 604.1h0M227.7 610.9h0M226.2 610.1h0M228.8 610.4h0M226.7 610.9h0M227.6 611.3h0M227.0 611.7h0M227.7 612.2h0M226.4 609.9h0M228.2 609.7h0M227.5 610.0h0M283.6 619.4h0M283.9 619.2h0M284.0 618.3h0M284.0 620.1h0M283.1 619.1h0M286.8 619.5h0M267.0 606.7h0M267.1 607.4h0M269.0 606.1h0M267.5 607.9h0M269.5 606.4h0M269.7 606.9h0M266.8 608.3h0M269.3 606.8h0M267.8 607.8h0M266.3 607.2h0M267.2 607.2h0M267.8 607.2h0M268.4 607.1h0M268.0 607.5h0M241.3 619.8h0M242.9 618.6h0M241.0 618.8h0M240.0 618.6h0M244.1 619.2h0M240.3 619.6h0M242.8 619.0h0M241.3 618.7h0M284.4 616.1h0M284.7 617.0h0M284.6 616.2h0M283.9 617.2h0M283.8 617.1h0M283.7 617.0h0M283.4 616.9h0M284.2 617.8h0M285.7 617.6h0M290.1 613.5h0M288.5 610.8h0M289.4 613.0h0M288.3 612.8h0M289.5 613.6h0M290.2 613.3h0M288.6 611.7h0M288.7 612.4h0M290.6 645.7h0M288.9 646.0h0M290.8 646.7h0M292.3 646.8h0M288.6 646.3h0M291.0 646.6h0M290.0 645.5h0M288.5 645.1h0M289.8 646.0h0M288.5 644.9h0M289.6 647.1h0M290.1 645.7h0M291.8 647.5h0M293.0 630.8h0M291.0 628.7h0M293.0 629.8h0M290.7 629.2h0M289.5 628.9h0M292.8 630.2h0M292.6 628.9h0M292.9 629.8h0M293.1 636.2h0M292.7 634.7h0M297.1 636.4h0M294.8 637.2h0M297.3 636.8h0M293.7 635.9h0M295.3 637.3h0M293.5 635.6h0M294.1 636.7h0M295.4 634.6h0M292.2 635.9h0M292.6 635.2h0M288.3 651.5h0M285.3 650.9h0M285.4 650.7h0M285.2 651.4h0M286.2 651.8h0M286.2 652.3h0M293.6 650.5h0M293.8 651.0h0M294.1 651.6h0M292.7 651.3h0M293.7 651.1h0M292.0 650.8h0M296.2 650.6h0M293.4 649.4h0M316.6 622.7h0M316.4 624.0h0M314.3 624.2h0M313.4 623.9h0M316.2 623.3h0M315.4 623.4h0M317.0 623.7h0M314.4 625.5h0M315.4 624.2h0M314.8 625.2h0M314.8 623.4h0M316.5 622.4h0M296.2 625.8h0M297.2 626.6h0M297.2 626.7h0M296.3 626.7h0M296.8 627.3h0M294.7 627.3h0M296.2 626.3h0" stroke="#555555" stroke-width="1.2" stroke-linecap="square"/>
<path d="M224.1 584.4h0M223.2 581.9h0M223.6 582.5h0M221.7 581.5h0M224.2 583.9h0M225.4 581.0h0M223.6 583.6h0M223.6 582.4h0M223.7 583.6h0M223.5 584.0h0M224.0 583.7h0M223.6 580.9h0M223.8 582.1h0M223.8 583.3h0M233.2 581.5h0M232.6 580.6h0M232.9 580.3h0M233.2 580.2h0M232.9 579.8h0M231.7 582.9h0M232.5 581.7h0M233.3 581.4h0M233.1 579.0h0M241.9 593.0h0M241.6 592.5h0M239.0 594.2h0M239.0 595.3h0M240.1 593.3h0M241.0 593.6h0M240.3 593.3h0M242.1 591.2h0M224.3 595.8h0M225.3 593.8h0M225.1 594.9h0M226.1 595.0h0M225.1 593.9h0M225.4 593.3h0M223.6 595.4h0M225.3 593.5h0M224.8 595.7h0M225.0 593.6h0M225.9 594.1h0M223.4 593.9h0M251.1 590.1h0M252.2 588.3h0M252.7 588.9h0M251.8 588.8h0M252.9 588.8h0M253.8 588.0h0M251.6 589.3h0M258.8 566.3h0M261.6 565.1h0M260.4 566.7h0M261.7 566.1h0M260.0 564.7h0M258.4 565.7h0M261.6 565.9h0M258.8 567.2h0M260.1 566.6h0M261.1 566.5h0M258.3 567.1h0M268.2 567.8h0M269.2 568.5h0M267.5 569.1h0M270.2 568.8h0M269.6 568.6h0M268.1 568.1h0M271.7 569.7h0M268.9 569.3h0M263.0 595.1h0M261.7 595.2h0M260.7 594.1h0M262.4 594.1h0M262.8 594.7h0M305.8 590.3h0M304.5 589.7h0M309.6 588.3h0M308.2 588.3h0M310.0 588.6h0M307.7 588.9h0M305.0 589.2h0M309.0 587.9h0M274.1 614.0h0M274.4 614.2h0M274.0 613.9h0M275.3 614.5h0M274.6 614.2h0M302.3 611.5h0M302.1 610.6h0M300.8 610.6h0M298.6 609.1h0M300.7 610.7h0M300.2 608.7h0M271.7 611.6h0M274.8 611.8h0M273.3 611.3h0M273.8 610.8h0M274.1 610.8h0M275.6 610.2h0M276.0 609.8h0M272.8 611.5h0M274.9 610.6h0M303.7 631.5h0M307.0 631.3h0M303.0 630.7h0M304.7 630.9h0M302.9 629.7h0M284.0 649.6h0M284.5 650.2h0M282.7 649.2h0M280.9 650.3h0M279.5 651.3h0M281.0 650.6h0M284.4 649.7h0M285.9 649.3h0M283.0 649.0h0M236.4 634.6h0M232.2 634.9h0M232.4 632.9h0M235.5 634.0h0M233.6 633.5h0M235.3 634.2h0M232.7 633.2h0M231.6 634.7h0M233.4 633.8h0M233.3 633.2h0M232.5 634.1h0M307.5 636.0h0M307.6 637.0h0M306.3 636.1h0M307.5 636.4h0M307.4 637.5h0M280.6 631.2h0M279.8 631.7h0M279.7 632.7h0M279.0 632.8h0M282.0 632.1h0M278.2 633.4h0M250.5 630.8h0M249.0 630.1h0M247.7 629.0h0M250.5 630.2h0M250.1 630.6h0M249.0 627.1h0M262.5 632.7h0M263.4 632.4h0M261.3 631.6h0M263.7 633.3h0M262.3 631.7h0M262.7 633.6h0M260.6 631.8h0M275.1 621.1h0M277.2 620.9h0M272.1 620.7h0M276.1 621.2h0M276.0 622.7h0M276.3 620.9h0M275.7 620.8h0M275.9 621.4h0M275.7 620.8h0M274.5 620.9h0M271.5 620.5h0M274.1 621.4h0M293.3 637.6h0M297.3 639.0h0M296.4 638.9h0M294.8 638.5h0M296.4 638.6h0M296.1 638.8h0M295.3 639.4h0M294.2 637.6h0M294.2 638.1h0M295.6 638.2h0M293.6 638.8h0M278.7 659.4h0M279.5 660.1h0M280.3 661.6h0M281.7 661.7h0M280.7 661.6h0M278.9 661.0h0M280.8 660.8h0M281.5 661.4h0M297.9 658.4h0M294.6 658.9h0M297.8 659.4h0M296.3 657.2h0M296.8 658.4h0M297.6 659.0h0M294.9 658.4h0M297.1 619.7h0M295.9 619.3h0M297.9 619.0h0M294.6 620.1h0M298.6 619.4h0M297.5 619.4h0M297.6 618.7h0M297.3 618.4h0M294.9 620.9h0M297.4 618.0h0M296.4 620.2h0M314.5 619.1h0M316.9 618.7h0M315.6 618.3h0M313.3 619.1h0M315.9 619.3h0M315.8 618.8h0M316.3 619.2h0M252.5 595.9h0M252.4 598.1h0M254.0 595.3h0M252.4 597.2h0M252.4 594.8h0M240.3 597.0h0M240.5 597.7h0M241.4 599.5h0M242.1 596.0h0M240.5 597.1h0M241.6 594.9h0M241.5 595.4h0M242.1 597.1h0M241.4 597.5h0M241.9 595.9h0M240.6 597.9h0M243.9 598.7h0M244.0 597.6h0M243.0 597.3h0M243.4 598.0h0M242.3 598.3h0M243.7 597.8h0M244.1 598.8h0M241.8 596.5h0M241.8 597.9h0M243.8 597.9h0M245.1 597.3h0M205.8 623.1h0M206.2 623.6h0M205.7 623.4h0M207.8 626.8h0M205.0 624.7h0M206.3 622.6h0M206.4 623.2h0M205.3 626.8h0M205.9 625.1h0M207.2 625.2h0M206.3 618.3h0M206.4 623.6h0M203.5 622.4h0M206.4 623.0h0M206.0 622.6h0M205.7 623.2h0M207.3 626.7h0M206.0 625.2h0M204.2 625.0h0M205.7 622.7h0M206.5 623.4h0M207.8 624.4h0M205.9 621.2h0M207.0 624.5h0M206.3 624.6h0M206.4 624.5h0M207.1 627.6h0M206.5 621.4h0M205.7 625.9h0M206.0 625.1h0M205.8 627.5h0M205.8 623.2h0M205.8 624.2h0M204.1 625.1h0M205.4 621.9h0M204.8 623.5h0M203.3 623.1h0M206.7 623.3h0M204.5 621.7h0M205.8 620.1h0M204.8 623.7h0M204.6 624.0h0M206.0 622.6h0M205.0 622.8h0M205.4 627.2h0M327.3 609.7h0M334.7 609.6h0M331.6 609.2h0M330.6 608.1h0M329.5 609.6h0M335.5 608.2h0M333.8 614.4h0M331.3 611.7h0M336.1 610.5h0M343.3 610.2h0M337.7 611.9h0M334.4 609.8h0M335.4 609.1h0M334.9 610.1h0M337.0 610.6h0M334.4 611.8h0M330.7 610.7h0M333.4 609.2h0M333.0 611.7h0M335.5 612.9h0M334.7 610.8h0M331.0 614.6h0M328.2 612.4h0M335.7 612.8h0M341.0 611.9h0M335.3 612.0h0M336.3 609.7h0M337.7 610.5h0M328.4 613.1h0M332.6 613.5h0M334.6 612.0h0M332.1 612.6h0M334.7 611.5h0M333.7 610.9h0M330.0 610.6h0M340.7 613.7h0M335.3 608.7h0M333.8 611.1h0M334.4 612.0h0M336.6 610.9h0M331.2 608.0h0M331.0 612.9h0M340.1 612.1h0M333.2 611.5h0M325.3 608.4h0M329.1 608.9h0M334.3 612.1h0M325.7 614.7h0M336.9 612.6h0M330.7 609.6h0M334.9 609.8h0M337.6 612.1h0M333.3 613.7h0M333.2 610.3h0M329.8 609.4h0M274.8 561.9h0M275.7 562.7h0M276.6 563.9h0M275.5 559.3h0M273.7 563.4h0M273.0 560.3h0M273.3 562.4h0M273.7 561.4h0M272.2 564.4h0M276.5 560.5h0M269.7 562.3h0M273.2 562.5h0M273.5 562.4h0M275.3 559.5h0M274.6 560.4h0M274.9 562.7h0M274.2 563.2h0M276.1 564.2h0M271.3 562.5h0M276.6 562.7h0M274.1 563.0h0M275.8 564.8h0M277.3 559.1h0M274.3 563.7h0M273.6 562.4h0M275.2 560.1h0M270.2 564.8h0M271.9 561.5h0M275.6 563.0h0M273.5 562.9h0" stroke="#a89bd4" stroke-width="1.2" stroke-linecap="square"/>
<path d="M234.4 591.3h0M236.1 592.7h0M235.8 592.3h0M236.3 591.5h0M233.7 592.7h0M233.5 593.0h0M236.3 591.0h0M234.0 591.3h0M236.6 592.3h0M233.7 591.1h0M223.2 590.5h0M225.7 589.7h0M222.7 590.3h0M226.3 590.9h0M223.3 590.7h0M236.1 588.2h0M235.8 588.5h0M236.4 588.5h0M235.0 588.4h0M235.7 585.3h0M236.2 586.6h0M235.3 587.4h0M235.9 587.1h0M238.2 586.0h0M235.8 587.0h0M235.3 588.1h0M236.6 588.9h0M237.8 589.1h0M235.8 589.9h0M236.4 588.3h0M233.6 591.0h0M236.0 590.7h0M235.5 591.7h0M247.0 583.6h0M245.9 583.0h0M247.4 583.3h0M251.1 581.7h0M250.0 581.5h0M269.4 594.8h0M269.5 594.7h0M269.9 594.1h0M265.9 595.2h0M265.5 595.0h0M266.9 594.4h0M269.3 594.3h0M269.3 595.2h0M269.2 594.1h0M270.3 595.2h0M269.2 595.6h0M267.6 594.2h0M269.6 595.9h0M277.2 584.4h0M279.6 583.0h0M279.4 583.0h0M279.7 582.1h0M279.9 582.8h0M279.1 582.1h0M279.0 581.1h0M277.9 580.4h0M279.5 581.9h0M279.3 580.2h0M278.9 582.3h0M279.6 583.3h0M264.2 569.7h0M267.2 570.5h0M264.3 569.2h0M266.3 568.8h0M263.4 568.2h0M263.3 569.3h0M310.0 584.2h0M307.1 585.4h0M310.1 583.8h0M306.8 586.3h0M309.0 584.9h0M307.4 584.8h0M308.9 585.1h0M307.4 585.2h0M308.8 587.2h0M318.2 577.7h0M317.3 578.6h0M315.8 577.3h0M317.3 577.9h0M316.3 577.7h0M318.2 577.2h0M317.0 577.3h0M313.0 577.5h0M318.4 577.3h0M315.7 577.2h0M318.1 577.6h0M314.7 578.4h0M301.5 579.4h0M302.2 579.0h0M303.8 579.3h0M304.8 579.3h0M304.7 579.2h0M304.8 579.7h0M303.0 579.4h0M303.9 579.1h0M303.4 579.8h0M305.2 579.4h0M303.7 579.0h0M302.6 579.0h0M304.9 580.0h0M316.0 587.2h0M314.5 586.7h0M316.6 587.2h0M315.9 587.3h0M316.3 587.0h0M314.0 586.2h0M316.8 586.8h0M315.8 588.0h0M313.5 587.2h0M313.6 587.1h0M314.2 586.4h0M314.9 587.2h0M314.9 586.9h0M240.8 610.7h0M239.0 610.0h0M237.8 611.9h0M238.6 611.2h0M240.8 610.3h0M237.9 610.9h0M238.6 611.0h0M238.6 611.7h0M240.2 610.9h0M241.0 610.0h0M238.9 610.8h0M271.4 616.6h0M272.7 615.9h0M270.2 616.7h0M271.1 615.4h0M272.4 615.3h0M270.3 616.4h0M274.6 615.5h0M272.1 615.2h0M271.5 615.9h0M272.2 616.1h0M269.5 616.6h0M272.0 616.4h0M256.7 610.7h0M254.9 609.9h0M254.7 611.5h0M253.4 610.9h0M252.5 610.3h0M255.4 610.3h0M253.6 610.8h0M253.7 610.8h0M264.1 605.7h0M261.6 605.0h0M263.8 603.9h0M261.7 605.7h0M262.5 604.9h0M263.2 604.5h0M262.4 606.7h0M238.2 614.2h0M239.2 612.9h0M239.7 612.6h0M238.3 614.3h0M238.0 613.4h0M238.6 615.6h0M238.2 615.4h0M239.1 613.9h0M236.8 615.7h0M237.4 615.1h0M238.6 613.7h0M239.2 613.2h0M253.0 611.5h0M253.1 611.6h0M253.3 610.2h0M253.5 610.4h0M253.5 613.1h0M255.0 612.4h0M273.3 617.7h0M273.8 617.6h0M276.0 616.7h0M276.3 616.8h0M275.0 617.6h0M275.7 618.1h0M276.6 616.4h0M272.0 618.2h0M276.6 616.7h0M273.4 617.4h0M276.0 618.3h0M265.6 645.1h0M268.8 645.3h0M265.9 646.9h0M264.4 648.3h0M266.7 647.4h0M266.5 646.1h0M268.8 645.8h0M268.0 645.2h0M265.0 646.6h0M267.6 645.3h0M268.0 645.1h0M270.0 646.3h0M233.5 637.1h0M232.7 637.9h0M234.0 637.3h0M233.2 637.2h0M232.9 638.3h0M234.4 637.1h0M233.7 635.3h0M233.2 635.5h0M233.0 634.3h0M234.5 637.2h0M272.5 625.2h0M273.4 626.4h0M273.0 625.9h0M272.2 625.1h0M273.2 626.4h0M271.1 624.3h0M272.5 625.9h0M272.5 624.6h0M272.9 626.0h0M235.4 643.1h0M233.7 641.0h0M232.6 640.9h0M234.1 641.8h0M235.1 642.5h0M233.3 640.9h0M232.4 641.2h0M233.6 642.0h0M235.1 643.2h0M284.3 627.3h0M283.0 628.8h0M285.2 627.0h0M285.6 628.5h0M284.4 628.8h0M283.0 626.8h0M286.1 627.3h0M283.2 628.8h0M282.5 629.4h0M281.9 628.6h0M266.8 622.2h0M268.9 620.8h0M268.1 623.3h0M266.6 619.8h0M266.8 622.4h0M267.3 620.7h0M267.5 618.8h0M268.1 623.4h0M266.3 620.1h0M267.8 620.6h0M266.2 620.0h0M278.5 649.0h0M276.3 648.3h0M278.2 649.2h0M275.0 648.3h0M276.0 648.4h0M277.7 647.8h0M277.3 648.1h0M279.5 648.4h0M275.6 648.1h0M276.2 648.4h0M279.3 648.1h0M279.8 633.9h0M280.3 633.0h0M280.1 633.0h0M277.2 633.7h0M278.7 634.3h0M278.1 634.6h0M279.8 632.8h0M278.9 634.6h0M277.9 634.2h0M306.7 635.5h0M308.0 637.1h0M308.4 638.2h0M308.8 638.6h0M305.8 636.8h0M307.2 636.1h0M307.7 637.2h0M299.9 636.0h0M297.3 636.9h0M299.5 637.3h0M300.5 635.7h0M300.0 635.9h0M300.5 635.0h0M299.8 637.5h0M299.7 637.0h0M301.0 636.8h0M300.9 635.0h0M299.6 636.2h0M298.1 638.2h0M299.6 637.6h0M298.7 636.3h0M278.3 653.4h0M275.0 652.5h0M276.8 651.9h0M277.3 653.2h0M277.7 652.2h0M260.3 647.1h0M257.9 647.9h0M259.9 649.1h0M259.9 648.9h0M259.2 648.0h0M260.1 647.9h0M258.4 648.7h0M261.1 647.6h0M245.8 649.1h0M244.4 648.1h0M245.9 649.5h0M244.9 647.4h0M244.9 650.6h0M245.7 650.8h0M316.8 622.2h0M316.9 621.5h0M318.0 621.6h0M318.3 620.0h0M317.2 621.3h0M318.0 620.9h0M317.8 621.8h0M308.3 613.9h0M305.8 612.6h0M306.6 614.4h0M306.9 613.4h0M304.5 614.0h0M305.9 613.1h0M309.1 613.5h0M308.2 613.2h0M307.5 613.6h0M306.5 614.4h0M313.8 617.4h0M313.0 617.1h0M311.0 615.8h0M312.3 617.2h0M313.9 619.6h0M314.6 618.1h0M314.5 617.3h0M312.5 617.1h0M312.0 618.4h0M254.0 598.5h0M255.9 598.1h0M256.1 598.7h0M258.4 596.8h0M257.2 595.4h0M257.5 596.2h0M255.6 597.3h0M254.8 598.3h0M255.9 595.5h0M257.0 596.0h0M256.9 596.6h0M257.1 597.1h0M256.1 597.9h0M256.9 596.7h0M241.2 604.1h0M241.7 603.1h0M240.9 604.9h0M239.5 605.4h0M240.9 602.8h0M241.3 605.1h0M241.3 603.9h0M240.6 604.1h0M240.9 604.0h0M239.8 605.5h0M253.0 597.0h0M251.2 598.0h0M254.1 597.7h0M254.0 597.8h0M250.8 597.8h0M253.7 596.9h0M250.6 597.4h0M255.3 598.3h0M253.7 598.2h0M250.9 597.0h0M252.3 596.9h0M255.0 597.0h0M251.7 597.3h0" stroke="#c87818" stroke-width="1.2" stroke-linecap="square"/>
<path d="M231.0 581.3h0M230.2 581.3h0M231.1 582.0h0M230.9 580.6h0M231.2 581.1h0M231.7 581.3h0M231.1 580.0h0M230.4 580.3h0M230.8 578.2h0M231.3 580.7h0M230.6 580.8h0M231.2 581.8h0M231.8 580.5h0M223.0 580.3h0M221.7 580.5h0M222.1 579.1h0M222.7 580.6h0M222.6 581.5h0M222.2 580.2h0M222.8 581.2h0M228.7 581.9h0M230.2 583.2h0M227.5 583.1h0M227.4 581.7h0M228.6 581.8h0M229.3 583.2h0M227.0 582.1h0M229.8 584.8h0M227.9 581.9h0M228.4 582.4h0M229.6 583.2h0M226.9 581.7h0M229.4 585.9h0M230.9 585.2h0M231.5 583.4h0M230.5 585.0h0M229.9 584.9h0M231.1 584.0h0M231.8 584.4h0M229.7 584.1h0M230.4 584.9h0M231.4 583.1h0M230.2 585.5h0M232.8 583.9h0M219.3 588.0h0M218.8 586.3h0M219.0 586.8h0M219.3 587.2h0M218.9 587.7h0M218.3 587.8h0M218.3 586.8h0M218.2 587.6h0M217.1 587.1h0M217.9 586.7h0M269.9 572.2h0M268.4 571.8h0M270.4 572.9h0M268.3 572.2h0M270.5 574.3h0M268.1 573.3h0M269.5 572.2h0M268.1 573.5h0M270.8 573.1h0M269.0 572.9h0M269.5 572.9h0M270.8 572.7h0M271.8 570.3h0M271.8 569.6h0M270.0 570.0h0M270.4 570.3h0M269.3 569.6h0M270.6 570.9h0M271.0 570.7h0M259.9 569.4h0M258.7 568.0h0M259.9 568.8h0M262.1 569.6h0M260.9 568.6h0M259.9 568.7h0M259.3 568.2h0M276.2 585.9h0M276.5 586.4h0M278.0 585.7h0M278.2 585.0h0M276.9 587.9h0M278.1 586.5h0M276.7 587.2h0M261.2 570.9h0M261.9 570.3h0M260.8 568.5h0M262.6 570.1h0M263.4 571.9h0M259.1 569.7h0M261.9 569.9h0M261.7 570.4h0M262.9 570.6h0M261.0 570.1h0M264.9 593.6h0M265.4 592.4h0M265.0 593.0h0M268.3 592.6h0M266.7 593.0h0M264.6 593.3h0M264.9 593.5h0M266.6 592.0h0M268.3 593.0h0M267.8 592.3h0M265.5 593.5h0M264.2 593.9h0M261.0 592.0h0M263.8 592.5h0M262.5 592.8h0M261.5 591.2h0M262.0 592.4h0M263.0 593.4h0M259.7 591.8h0M261.3 591.2h0M263.4 590.9h0M262.2 592.9h0M263.0 593.1h0M262.8 592.5h0M246.2 577.7h0M249.4 579.1h0M249.0 579.4h0M248.4 578.9h0M247.0 579.2h0M247.6 579.1h0M245.0 577.7h0M246.3 578.3h0M249.3 579.9h0M259.7 589.9h0M260.2 590.6h0M261.2 588.4h0M259.9 591.0h0M257.1 591.9h0M304.4 581.1h0M304.5 579.9h0M304.5 580.3h0M304.7 580.8h0M306.6 583.2h0M305.1 580.8h0M306.8 577.4h0M307.0 578.1h0M306.9 576.0h0M306.5 576.5h0M308.0 576.9h0M306.9 578.0h0M318.2 579.5h0M317.0 581.1h0M316.6 580.4h0M319.4 579.6h0M315.4 578.6h0M315.5 579.3h0M316.9 579.7h0M315.7 578.4h0M316.3 579.9h0M319.4 579.5h0M317.4 579.8h0M317.6 580.9h0M318.2 579.8h0M301.6 583.4h0M301.7 585.3h0M301.5 584.2h0M302.6 585.8h0M302.1 584.1h0M303.2 586.3h0M301.4 584.6h0M238.7 613.5h0M239.0 613.7h0M237.5 610.9h0M239.3 614.2h0M237.0 611.4h0M263.7 610.7h0M262.9 609.3h0M261.3 609.3h0M262.1 607.7h0M264.0 611.0h0M288.9 611.2h0M291.6 611.7h0M290.3 611.4h0M289.2 611.4h0M289.0 610.5h0M291.1 612.3h0M290.3 611.9h0M291.3 611.1h0M292.4 613.0h0M241.7 610.0h0M243.2 611.7h0M240.9 610.8h0M239.4 610.8h0M240.8 610.3h0M240.2 610.2h0M240.4 610.8h0M242.6 610.1h0M292.8 616.3h0M290.8 616.6h0M292.2 617.1h0M291.1 616.5h0M290.6 615.9h0M287.1 616.5h0M303.1 617.6h0M303.1 615.9h0M302.7 615.1h0M303.3 616.1h0M302.4 615.5h0M260.9 607.4h0M262.2 605.8h0M262.1 605.6h0M260.4 606.5h0M261.9 606.0h0M262.4 604.6h0M261.1 606.4h0M261.7 606.8h0M290.3 611.1h0M290.6 609.9h0M291.5 609.7h0M290.2 609.8h0M289.6 610.8h0M290.0 610.0h0M275.2 610.3h0M274.4 608.7h0M274.8 608.0h0M276.0 608.6h0M272.4 609.6h0M275.4 608.1h0M276.0 608.7h0M251.1 628.6h0M250.6 628.2h0M250.2 629.0h0M248.1 627.7h0M247.2 628.6h0M247.8 627.3h0M247.3 629.3h0M251.7 628.3h0M249.5 629.0h0M248.9 629.1h0M248.6 629.3h0M246.8 628.4h0M247.6 628.1h0M250.3 628.5h0M256.3 621.4h0M255.2 619.5h0M255.9 621.3h0M253.6 621.4h0M251.5 621.6h0M255.5 620.6h0M254.0 622.0h0M253.6 621.0h0M255.4 620.6h0M252.7 621.6h0M252.3 621.8h0M257.9 646.5h0M256.4 646.9h0M259.2 646.4h0M257.8 646.9h0M258.3 645.9h0M258.0 646.3h0M257.6 646.5h0M257.5 645.4h0M257.0 646.5h0M258.2 645.8h0M258.4 644.9h0M259.7 644.4h0M263.4 635.3h0M261.9 635.8h0M262.5 634.6h0M262.2 634.1h0M262.4 635.1h0M263.4 636.2h0M262.2 637.0h0M261.6 634.7h0M262.7 635.6h0M261.6 635.2h0M261.9 634.3h0M262.1 634.6h0M262.5 636.4h0M261.8 635.3h0M289.4 629.2h0M287.3 627.5h0M287.6 627.7h0M287.7 627.5h0M289.9 630.9h0M288.3 628.7h0M290.0 628.7h0M288.3 628.2h0M288.2 627.7h0M283.7 634.6h0M283.4 634.1h0M284.7 632.4h0M283.8 635.1h0M283.5 633.2h0M282.3 635.0h0M283.5 631.8h0M283.9 634.5h0M284.8 632.3h0M284.8 640.6h0M287.7 643.1h0M288.6 643.3h0M285.4 641.8h0M285.2 641.1h0M285.6 641.0h0M287.3 643.1h0M284.0 641.2h0M287.4 642.6h0M286.7 643.3h0M286.3 643.5h0M286.2 635.9h0M286.1 636.4h0M286.0 638.0h0M285.6 637.0h0M286.7 636.5h0M284.4 636.9h0M285.3 637.0h0M286.0 634.9h0M286.4 637.6h0M285.9 636.0h0M285.7 635.5h0M286.4 637.4h0M285.7 636.8h0M285.4 635.1h0M260.5 629.2h0M260.2 627.9h0M260.0 628.0h0M259.4 629.6h0M259.5 627.5h0M260.2 629.9h0M260.5 627.8h0M275.5 636.0h0M274.8 636.4h0M274.3 636.8h0M273.8 636.6h0M273.7 635.9h0M271.5 637.9h0M274.3 634.6h0M272.0 637.8h0M249.1 633.2h0M248.1 635.9h0M248.7 634.0h0M248.4 636.4h0M249.4 637.4h0M247.7 635.2h0M248.0 634.0h0M247.2 635.2h0M248.1 634.7h0M248.7 634.7h0M248.4 634.1h0M248.8 635.1h0M248.1 635.4h0M276.9 655.4h0M274.9 656.4h0M279.9 655.3h0M278.1 655.5h0M276.6 655.5h0M276.0 657.4h0M278.7 655.4h0M294.4 660.4h0M292.6 660.5h0M295.2 661.3h0M292.8 659.4h0M292.4 658.6h0M292.1 658.7h0M293.1 659.6h0M293.0 659.6h0M291.8 658.9h0M295.1 661.2h0M292.6 659.5h0M306.4 633.7h0M305.8 631.5h0M306.3 632.0h0M305.0 631.9h0M308.2 634.2h0M305.5 632.9h0M305.8 631.2h0M305.7 633.9h0M307.7 633.5h0M306.6 633.2h0M305.9 633.0h0M306.3 632.9h0M304.5 631.4h0M304.1 627.9h0M301.9 627.6h0M299.7 626.1h0M303.6 627.4h0M300.0 626.3h0M302.9 628.0h0M303.2 626.9h0M304.7 627.6h0M304.1 627.8h0M312.8 618.1h0M314.4 616.6h0M313.0 617.4h0M314.4 616.4h0M313.1 616.1h0M312.9 618.6h0M313.1 617.4h0M314.2 616.9h0M315.4 616.4h0M313.1 616.5h0M313.7 617.8h0M309.6 625.0h0M310.7 625.3h0M311.3 624.2h0M308.6 624.7h0M307.6 625.9h0M308.6 625.8h0M308.2 625.6h0M309.5 626.5h0M310.6 624.8h0M312.5 624.7h0M309.4 625.4h0M307.9 625.9h0M309.3 625.6h0M307.8 625.8h0M247.8 596.0h0M250.1 599.0h0M249.8 598.8h0M249.8 598.0h0M250.2 596.6h0M249.3 598.6h0M247.4 597.0h0M250.8 597.7h0M251.9 599.0h0M250.4 599.6h0M250.9 598.0h0M254.0 597.5h0M254.3 597.4h0M254.1 598.0h0M252.2 599.0h0M252.0 596.9h0M251.5 599.4h0M252.1 599.0h0M254.4 598.1h0" stroke="#f0957a" stroke-width="1.2" stroke-linecap="square"/>
<path d="M229.8 577.7h0M229.7 578.2h0M229.9 578.2h0M226.9 577.3h0M227.3 576.5h0M229.9 577.8h0M227.7 578.0h0M228.9 576.3h0M228.6 577.3h0M230.2 577.8h0M230.2 577.1h0M230.8 578.1h0M262.5 590.3h0M261.7 590.0h0M260.3 589.0h0M262.5 590.7h0M259.9 590.0h0M276.7 588.8h0M276.8 587.4h0M276.2 588.2h0M277.6 587.1h0M275.9 587.4h0M277.3 586.8h0M275.4 589.7h0M275.3 588.1h0M276.0 588.0h0M276.2 587.5h0M276.1 587.2h0M275.2 587.4h0M276.2 589.1h0M275.3 589.7h0M266.4 583.2h0M266.2 583.4h0M267.6 585.6h0M266.4 584.8h0M268.8 581.8h0M266.7 584.1h0M266.5 583.8h0M265.8 584.1h0M268.4 582.4h0M268.3 583.9h0M265.2 583.7h0M266.3 584.2h0M267.2 582.6h0M265.9 581.5h0M267.6 583.6h0M266.7 583.2h0M266.3 581.7h0M266.3 584.0h0M267.4 584.1h0M267.5 584.6h0M264.3 578.8h0M263.6 580.3h0M264.4 578.6h0M266.1 578.7h0M266.7 577.8h0M266.1 579.7h0M263.4 578.8h0M265.7 579.3h0M299.2 579.9h0M300.9 578.9h0M301.0 579.4h0M300.6 578.8h0M299.9 578.6h0M300.6 579.5h0M310.5 589.1h0M310.2 589.1h0M310.8 589.8h0M309.5 589.7h0M312.2 589.5h0M310.1 589.5h0M310.0 589.5h0M308.0 588.8h0M308.3 590.8h0M311.7 589.6h0M316.7 579.4h0M315.7 581.2h0M315.7 581.3h0M317.1 579.4h0M319.3 579.7h0M268.5 615.9h0M266.4 616.2h0M265.4 617.3h0M266.3 615.9h0M267.7 616.8h0M305.8 611.0h0M307.3 612.4h0M306.6 611.5h0M307.5 611.8h0M306.5 611.2h0M306.0 611.7h0M306.8 611.3h0M304.8 611.6h0M306.6 611.3h0M304.0 612.5h0M306.5 612.9h0M306.1 611.4h0M295.4 615.4h0M294.1 616.2h0M292.9 615.6h0M294.7 615.0h0M292.4 613.9h0M295.2 616.4h0M295.2 616.2h0M295.3 617.2h0M292.8 615.2h0M294.9 616.5h0M294.9 616.5h0M294.0 615.0h0M245.4 624.5h0M247.4 626.0h0M248.1 624.7h0M248.0 625.8h0M247.1 624.9h0M247.8 625.6h0M272.2 623.2h0M272.6 621.4h0M273.4 623.0h0M272.5 621.7h0M272.4 623.2h0M272.8 619.8h0M273.1 621.3h0M272.2 622.4h0M273.6 623.5h0M272.3 622.1h0M271.8 621.1h0M273.4 623.8h0M257.0 629.8h0M259.1 629.8h0M261.3 629.8h0M257.4 631.5h0M259.8 629.9h0M260.4 630.1h0M256.0 630.9h0M255.8 630.8h0M257.4 630.8h0M255.6 630.1h0M258.8 630.8h0M256.1 629.4h0M259.1 630.0h0M234.0 643.0h0M231.3 642.4h0M232.5 641.3h0M233.3 642.6h0M234.2 642.7h0M232.4 643.6h0M232.1 642.7h0M232.2 642.7h0M232.8 644.3h0M238.6 647.9h0M240.3 647.8h0M239.3 647.4h0M241.3 648.1h0M240.0 648.9h0M240.3 648.3h0M239.4 646.3h0M240.3 648.0h0M240.5 647.4h0M283.3 657.2h0M279.7 661.4h0M280.1 658.9h0M279.9 660.1h0M281.2 659.1h0M281.6 659.0h0M282.1 658.8h0M281.7 658.2h0M282.5 660.0h0M280.4 660.0h0M282.1 658.4h0M281.4 659.2h0M276.6 658.0h0M277.8 658.3h0M277.9 659.3h0M277.4 658.5h0M279.9 658.1h0M295.2 657.2h0M295.7 658.3h0M295.6 658.0h0M298.6 658.2h0M296.8 657.3h0M296.3 657.3h0M294.7 658.6h0M289.7 650.4h0M290.3 649.5h0M289.0 649.6h0M288.7 649.5h0M287.8 650.2h0M289.4 650.3h0M288.5 648.8h0M288.0 649.8h0M289.4 648.7h0M289.6 648.2h0M308.8 621.1h0M307.5 620.2h0M309.4 620.2h0M308.2 621.3h0M312.3 619.8h0M307.3 621.5h0M310.0 620.3h0M309.5 620.2h0M314.2 621.7h0M314.1 621.6h0M314.4 620.8h0M313.0 621.4h0M315.4 620.0h0M313.4 622.2h0M313.4 620.7h0M298.4 626.0h0M301.2 627.7h0M299.0 627.1h0M301.0 626.7h0M300.5 626.8h0M299.4 627.1h0M299.2 628.1h0M298.2 625.8h0M299.6 627.8h0M301.3 627.7h0M299.6 626.6h0M298.7 627.2h0M315.7 620.1h0M314.1 619.5h0M316.8 618.3h0M315.0 618.6h0M316.7 619.5h0M317.5 618.5h0M315.1 623.3h0M316.5 623.6h0M314.7 623.6h0M312.9 624.3h0M314.6 624.4h0M312.2 623.0h0M311.6 624.6h0M312.6 624.9h0M312.5 623.5h0M312.1 623.4h0M304.1 617.4h0M300.8 619.4h0M300.2 619.3h0M300.9 618.3h0M303.2 617.8h0M300.1 618.5h0M303.4 618.5h0M303.6 618.8h0M258.9 602.6h0M257.7 599.3h0M257.4 601.1h0M257.3 602.8h0M258.0 600.6h0M258.2 600.5h0M258.1 600.9h0M258.7 601.8h0M258.5 602.1h0M257.3 600.1h0M257.3 601.2h0M258.6 600.7h0M258.1 603.1h0M258.5 601.5h0M250.6 602.3h0M249.4 603.4h0M249.1 602.9h0M252.1 603.9h0M249.9 603.4h0M249.8 603.0h0M249.9 602.9h0M248.9 602.2h0M250.4 603.6h0M249.0 603.1h0M248.9 602.6h0M250.4 603.1h0M250.2 602.7h0M250.4 603.6h0M260.0 598.2h0M259.0 598.5h0M263.4 599.0h0M260.3 598.0h0M259.1 598.4h0M263.9 598.2h0M296.3 603.0h0M297.6 602.8h0M301.0 602.2h0M297.1 602.5h0M293.8 603.3h0M298.6 603.6h0M294.5 602.3h0M297.1 602.6h0M298.7 603.9h0M297.2 602.8h0M289.2 602.9h0M294.9 602.8h0M296.7 601.4h0M295.4 603.6h0M296.5 603.4h0M292.0 603.9h0M296.7 602.9h0M293.9 601.3h0M294.0 603.9h0M299.4 602.0h0M299.0 604.0h0M297.9 601.3h0M294.1 601.9h0M298.5 604.1h0M295.6 604.6h0M296.0 603.2h0M297.6 603.3h0M297.7 602.8h0M295.1 602.4h0M294.4 603.7h0" stroke="#0e6f6f" stroke-width="1.2" stroke-linecap="square"/>
<path d="M234.9 579.2h0M235.7 579.7h0M234.4 580.1h0M234.3 578.6h0M235.6 581.1h0M234.8 581.2h0M243.5 585.0h0M243.3 585.7h0M244.9 585.3h0M245.0 585.1h0M245.3 585.2h0M245.4 583.1h0M236.4 581.8h0M237.6 581.1h0M235.1 580.9h0M235.7 580.6h0M237.4 581.1h0M257.7 571.6h0M256.7 570.7h0M257.7 571.4h0M260.3 570.2h0M259.5 569.2h0M258.3 572.7h0M257.9 570.0h0M258.6 569.2h0M259.1 569.3h0M259.0 570.4h0M251.4 589.2h0M252.4 589.0h0M251.5 590.6h0M254.9 587.7h0M253.4 589.0h0M250.2 590.5h0M250.2 590.0h0M253.2 589.6h0M252.1 589.1h0M251.9 590.0h0M254.1 589.1h0M253.4 589.2h0M253.8 590.1h0M271.9 580.3h0M269.2 581.8h0M268.4 581.3h0M271.1 579.9h0M269.1 580.1h0M270.4 580.0h0M271.1 581.1h0M269.5 581.6h0M268.2 580.7h0M268.6 581.3h0M269.4 580.7h0M298.6 589.1h0M298.7 590.3h0M296.3 589.0h0M297.0 587.7h0M299.4 590.3h0M296.7 590.5h0M298.0 589.0h0M323.1 580.5h0M322.9 581.1h0M322.6 581.0h0M320.4 579.6h0M324.6 582.0h0M324.5 582.1h0M322.3 580.0h0M312.7 583.5h0M313.7 584.1h0M312.9 583.8h0M312.3 585.2h0M312.4 584.6h0M310.9 585.1h0M309.4 583.1h0M312.1 584.9h0M296.8 589.2h0M294.6 588.3h0M295.9 588.0h0M295.8 588.5h0M297.5 589.2h0M294.9 588.9h0M298.3 588.5h0M295.9 588.2h0M298.8 588.7h0M294.8 588.7h0M297.3 589.0h0M299.0 588.9h0M263.7 612.7h0M264.6 611.3h0M265.9 609.5h0M264.7 610.1h0M265.1 612.0h0M264.7 609.6h0M293.4 616.0h0M291.7 619.2h0M292.4 618.9h0M291.4 619.4h0M292.1 616.5h0M290.8 618.7h0M234.8 613.3h0M235.5 613.5h0M232.3 613.5h0M234.3 612.8h0M236.1 612.6h0M232.8 614.2h0M233.6 613.3h0M234.3 614.1h0M235.3 612.9h0M233.4 614.4h0M232.2 615.3h0M233.8 612.5h0M234.2 613.5h0M232.3 615.3h0M257.6 607.3h0M253.7 607.0h0M254.8 607.0h0M255.4 605.7h0M255.1 606.0h0M253.6 607.9h0M252.8 607.7h0M254.2 607.1h0M273.6 612.6h0M275.8 612.6h0M276.2 612.5h0M277.4 612.9h0M276.1 612.8h0M273.4 611.2h0M276.7 612.6h0M276.6 612.1h0M275.6 613.0h0M275.6 612.3h0M276.6 612.7h0M274.2 613.8h0M275.3 611.4h0M285.8 619.9h0M287.4 621.2h0M288.2 619.7h0M286.9 621.3h0M289.1 620.5h0M287.1 619.1h0M287.2 619.6h0M284.7 618.9h0M286.9 621.4h0M285.7 617.9h0M286.3 619.1h0M248.1 625.8h0M247.1 626.3h0M250.2 623.4h0M248.2 625.4h0M249.5 624.0h0M249.3 625.4h0M248.2 625.8h0M248.8 624.0h0M248.2 625.9h0M249.8 625.4h0M248.1 624.2h0M247.6 625.2h0M247.7 626.1h0M252.3 636.8h0M254.9 634.0h0M255.5 634.8h0M255.0 634.1h0M255.9 634.5h0M254.3 632.4h0M254.9 634.6h0M254.4 634.3h0M295.9 636.2h0M295.9 636.7h0M297.6 637.4h0M295.4 635.5h0M295.0 635.0h0M295.1 635.0h0M233.5 638.3h0M231.8 640.4h0M231.5 639.3h0M231.8 640.2h0M233.9 638.4h0M232.4 639.5h0M232.1 636.7h0M231.1 639.8h0M233.0 637.8h0M280.3 652.3h0M282.5 650.1h0M283.1 650.9h0M282.7 649.4h0M279.5 651.5h0M281.6 651.3h0M280.5 651.0h0M283.9 650.5h0M284.7 649.5h0M283.2 649.8h0M283.4 649.9h0M283.6 650.9h0M283.4 651.2h0M290.9 648.7h0M290.2 647.4h0M289.3 646.8h0M292.0 648.9h0M290.3 647.9h0M290.2 648.9h0M291.0 647.5h0M254.8 642.8h0M256.1 641.5h0M256.8 642.2h0M254.8 640.7h0M257.4 642.3h0M254.7 640.3h0M287.7 653.6h0M287.6 655.8h0M288.1 655.3h0M288.6 655.1h0M286.4 653.0h0M288.5 654.8h0M286.8 655.8h0M288.4 654.1h0M287.6 655.8h0M288.1 656.9h0M299.1 656.9h0M299.9 656.1h0M299.3 658.5h0M299.8 656.3h0M299.0 657.0h0M299.4 657.9h0M301.4 655.9h0M300.0 657.7h0M299.5 657.5h0M302.1 655.6h0M300.4 654.8h0M300.1 656.4h0M300.9 655.1h0M300.6 655.6h0M304.9 622.1h0M304.1 622.2h0M304.8 623.7h0M303.5 623.5h0M305.7 624.1h0M301.9 619.8h0M301.7 619.3h0M303.6 619.8h0M300.6 618.4h0M300.5 618.8h0M304.0 619.7h0M300.1 618.1h0M303.6 618.9h0M303.1 618.4h0M240.8 600.3h0M242.2 601.7h0M241.4 600.6h0M240.7 601.3h0M240.5 600.3h0M241.0 602.5h0M241.2 600.1h0M239.2 600.5h0M240.6 600.6h0M239.8 600.1h0M239.7 600.9h0M239.8 600.4h0M238.8 600.4h0M239.6 601.0h0M237.5 600.0h0M235.4 599.9h0M234.2 599.4h0M237.0 599.4h0M232.2 599.6h0M236.5 600.3h0M236.9 600.0h0M233.7 601.0h0M233.8 599.6h0M237.1 599.4h0M242.0 604.7h0M245.1 605.4h0M242.4 605.5h0M244.3 604.6h0M244.2 603.9h0M243.6 604.6h0M245.4 604.1h0M243.3 606.1h0M243.6 604.8h0M241.5 604.8h0M244.6 605.0h0M242.3 605.2h0M246.1 604.5h0M243.7 605.2h0M257.0 600.1h0M261.0 601.4h0M259.4 602.2h0M259.5 601.6h0M260.0 599.8h0M255.1 600.2h0M258.2 600.5h0M259.2 601.2h0M255.7 601.6h0M257.4 602.4h0M258.7 601.6h0" stroke="#aaa21a" stroke-width="1.2" stroke-linecap="square"/>
<path d="M230.0 592.4h0M230.3 591.1h0M230.8 592.7h0M231.3 591.8h0M230.9 591.1h0M227.5 593.7h0M229.5 592.6h0M229.5 591.6h0M228.4 591.8h0M231.7 590.7h0M230.5 590.9h0M229.4 590.9h0M234.8 588.8h0M232.2 589.1h0M230.9 587.8h0M232.5 587.5h0M229.9 587.1h0M233.7 587.6h0M233.1 588.6h0M229.4 589.0h0M232.6 588.2h0M221.5 591.0h0M222.7 591.0h0M220.3 591.2h0M222.7 590.4h0M220.9 590.2h0M221.8 589.6h0M221.3 591.1h0M221.9 591.2h0M250.9 572.8h0M248.1 573.4h0M251.4 571.6h0M250.8 571.8h0M250.2 572.1h0M251.6 571.5h0M247.6 572.7h0M248.6 571.8h0M249.1 572.7h0M248.4 572.1h0M249.0 572.3h0M251.9 572.7h0M264.4 589.9h0M265.2 588.9h0M264.7 589.4h0M264.0 589.4h0M264.5 588.3h0M264.8 588.8h0M264.7 590.5h0M263.9 591.4h0M265.9 588.4h0M258.7 571.9h0M261.9 573.1h0M260.4 573.8h0M261.0 573.7h0M258.2 571.6h0M260.9 572.7h0M261.1 574.3h0M261.0 573.8h0M259.6 572.7h0M259.6 572.2h0M254.8 570.1h0M257.4 571.3h0M255.1 570.9h0M257.7 571.6h0M255.1 569.4h0M253.9 569.8h0M254.6 570.7h0M256.2 571.4h0M264.2 572.7h0M265.1 574.4h0M265.0 574.7h0M265.6 574.5h0M265.4 574.5h0M264.5 572.8h0M264.0 573.2h0M264.2 573.2h0M267.2 575.3h0M256.6 584.5h0M259.3 583.8h0M256.1 584.9h0M257.5 584.9h0M258.3 584.7h0M257.0 584.4h0M259.1 584.5h0M257.9 585.3h0M256.8 585.5h0M257.0 585.3h0M255.6 584.6h0M259.3 583.8h0M256.8 583.9h0M252.5 573.5h0M249.7 573.1h0M249.9 573.5h0M251.5 572.5h0M251.1 574.3h0M252.1 572.2h0M251.7 572.3h0M253.5 571.5h0M251.3 572.2h0M251.9 573.2h0M252.5 573.6h0M316.6 580.1h0M314.3 581.9h0M317.5 580.5h0M315.6 580.1h0M315.3 581.4h0M312.7 581.7h0M314.3 581.7h0M318.1 581.5h0M273.6 610.0h0M272.5 610.1h0M274.9 610.3h0M276.7 610.4h0M276.0 609.8h0M273.5 609.7h0M276.2 609.7h0M276.3 610.7h0M231.7 618.2h0M232.4 616.9h0M230.5 617.2h0M230.4 617.5h0M231.0 617.3h0M232.0 617.0h0M229.9 618.2h0M231.0 617.1h0M232.0 617.2h0M229.5 617.7h0M231.7 617.4h0M232.5 617.4h0M232.2 619.0h0M239.2 639.2h0M241.4 640.9h0M240.8 642.1h0M240.7 640.4h0M238.2 640.4h0M238.5 639.6h0M240.2 641.5h0M239.5 640.6h0M240.0 640.8h0M238.6 639.0h0M240.3 639.6h0M238.6 639.4h0M279.3 647.5h0M280.2 645.7h0M279.4 648.1h0M278.6 646.6h0M277.6 649.0h0M279.3 646.1h0M241.3 637.0h0M238.6 638.0h0M241.9 637.0h0M242.3 636.7h0M238.2 637.0h0M241.2 637.1h0M238.0 635.4h0M241.5 637.8h0M282.0 626.0h0M280.5 624.6h0M280.6 625.8h0M281.4 625.8h0M280.6 624.8h0M282.8 625.7h0M281.5 625.5h0M281.3 625.6h0M282.3 624.8h0M279.8 625.4h0M280.7 623.8h0M284.1 648.7h0M285.7 649.9h0M286.5 648.4h0M286.2 648.7h0M283.9 648.5h0M286.0 647.7h0M284.1 648.8h0M285.0 648.6h0M283.1 647.9h0M246.6 647.0h0M248.6 647.4h0M245.4 645.6h0M247.6 648.9h0M247.9 648.4h0M246.9 647.0h0M247.3 646.9h0M262.6 629.9h0M264.0 631.0h0M263.5 632.0h0M260.5 632.8h0M261.9 632.6h0M261.6 631.6h0M261.9 632.3h0M263.0 631.8h0M262.5 630.8h0M300.3 636.0h0M298.4 636.2h0M298.7 636.3h0M299.9 635.0h0M299.9 637.1h0M300.6 635.8h0M298.3 636.9h0M272.5 638.0h0M272.3 638.9h0M272.7 636.4h0M272.2 638.8h0M272.0 635.4h0M272.7 637.2h0M271.6 634.3h0M273.4 637.3h0M272.1 635.0h0M271.7 635.0h0M281.3 656.1h0M282.5 654.0h0M281.8 656.9h0M281.9 654.1h0M282.7 655.2h0M282.4 653.6h0M284.2 653.7h0M281.3 656.3h0M281.3 657.0h0M282.4 655.2h0M283.3 655.9h0M282.2 654.6h0M282.5 654.9h0M281.6 655.6h0M305.0 632.9h0M305.9 634.1h0M306.3 633.1h0M307.3 634.0h0M307.8 634.6h0M307.1 633.1h0M306.8 632.8h0M306.3 632.5h0M305.7 633.9h0M306.3 633.4h0M251.7 600.5h0M252.4 601.6h0M251.9 600.3h0M247.9 601.5h0M252.1 601.1h0M249.1 602.0h0M250.0 600.8h0M248.3 601.3h0M251.2 600.3h0M250.2 601.7h0M254.9 599.7h0M255.3 597.6h0M255.0 599.8h0M253.5 600.1h0M254.4 599.1h0M255.6 598.2h0M255.3 600.6h0M254.9 600.3h0M254.5 600.6h0M254.0 598.5h0M254.2 599.9h0" stroke="#2a58a8" stroke-width="1.2" stroke-linecap="square"/>
<path d="M247.7 576.7h0M248.6 576.0h0M247.7 575.9h0M246.0 576.2h0M246.2 576.7h0M246.7 576.9h0M247.1 576.3h0M246.8 576.7h0M248.4 577.2h0M249.9 576.8h0M246.7 575.7h0M248.8 570.9h0M249.6 573.1h0M251.2 572.4h0M250.4 572.1h0M251.8 573.6h0M249.8 573.6h0M251.1 572.8h0M250.6 572.6h0M249.2 570.8h0M273.9 591.8h0M271.7 590.0h0M271.4 590.8h0M274.1 589.7h0M274.8 591.9h0M273.9 590.9h0M273.0 590.5h0M275.8 591.9h0M273.2 590.1h0M273.7 590.4h0M270.8 589.1h0M274.0 590.1h0M272.9 590.7h0M273.2 589.9h0M264.2 591.2h0M265.5 590.3h0M265.2 590.5h0M268.8 590.5h0M266.0 590.0h0M265.7 587.9h0M265.7 587.0h0M263.5 587.7h0M265.8 586.4h0M265.9 587.4h0M265.4 587.7h0M262.7 587.8h0M266.2 586.1h0M265.1 589.0h0M265.5 587.1h0M261.7 587.4h0M262.4 587.3h0M307.6 575.4h0M312.3 575.1h0M310.1 575.4h0M309.0 575.5h0M311.9 576.6h0M299.3 582.4h0M301.2 582.0h0M300.3 581.3h0M301.1 583.2h0M300.6 581.5h0M301.0 582.1h0M300.7 580.8h0M300.0 581.2h0M299.6 581.3h0M301.0 581.8h0M299.9 583.4h0M300.2 579.7h0M301.6 581.5h0M294.5 616.4h0M291.1 616.6h0M293.0 616.3h0M294.7 617.2h0M290.5 615.8h0M293.3 616.3h0M292.1 616.4h0M291.8 614.4h0M292.4 614.7h0M294.0 616.9h0M274.8 607.0h0M276.8 608.2h0M277.1 607.4h0M275.7 606.9h0M276.4 607.3h0M276.2 607.2h0M275.4 607.2h0M275.4 607.7h0M276.2 608.6h0M275.1 607.1h0M275.9 645.5h0M276.1 641.1h0M275.1 644.9h0M275.7 642.2h0M275.5 644.7h0M275.6 644.5h0M274.9 641.8h0M275.2 642.5h0M275.3 643.5h0M259.7 641.9h0M256.2 642.2h0M257.7 641.4h0M259.5 641.3h0M256.9 642.4h0M300.9 644.6h0M303.2 646.6h0M303.8 647.7h0M301.6 645.4h0M303.0 648.1h0M303.6 646.8h0M302.3 646.6h0M287.5 646.6h0M286.9 644.1h0M286.6 647.1h0M287.5 645.6h0M286.6 645.2h0M286.3 644.6h0M305.8 641.1h0M305.7 640.3h0M307.5 639.5h0M306.2 639.7h0M307.9 640.3h0M307.4 640.6h0M307.9 641.5h0M307.7 638.4h0M307.6 641.1h0M248.8 624.0h0M249.9 622.7h0M248.1 623.1h0M245.6 622.6h0M250.1 623.7h0M250.7 621.9h0M246.7 622.7h0M245.3 622.1h0M252.0 622.3h0M249.6 621.9h0M250.4 622.8h0M245.3 622.7h0M245.7 623.4h0M248.5 622.8h0M274.2 621.0h0M272.3 620.6h0M270.3 619.6h0M273.2 620.9h0M271.6 620.8h0M272.5 620.5h0M271.4 620.7h0M272.5 620.4h0M271.9 620.4h0M272.7 620.7h0M273.3 620.9h0M243.1 643.9h0M243.1 641.8h0M243.7 642.8h0M244.4 641.0h0M245.5 642.3h0M243.4 642.1h0M244.1 643.1h0M245.3 640.1h0M243.9 644.8h0M245.4 642.3h0M243.8 643.2h0M243.0 644.5h0M265.1 628.2h0M269.3 629.9h0M267.8 629.0h0M267.8 628.0h0M267.5 628.7h0M302.1 638.0h0M303.1 639.7h0M304.9 639.3h0M304.1 638.7h0M303.8 640.0h0M302.9 639.2h0M303.3 638.7h0M303.5 637.5h0M304.9 640.4h0M302.7 638.1h0M305.0 640.4h0M304.7 639.1h0M302.2 636.2h0M304.1 639.0h0M262.2 625.0h0M262.1 623.8h0M262.6 622.9h0M261.7 623.2h0M262.6 621.1h0M262.1 622.0h0M260.5 623.6h0M250.4 634.8h0M247.9 633.9h0M250.0 634.2h0M248.8 635.0h0M248.3 633.4h0M248.7 635.0h0M250.9 634.7h0M249.1 635.0h0M251.1 633.2h0M249.2 634.9h0M249.9 634.8h0M250.2 633.6h0M248.9 635.5h0M249.5 635.8h0M277.7 651.8h0M277.3 651.5h0M275.8 650.9h0M277.0 652.4h0M275.1 651.8h0M278.7 652.5h0M275.9 651.6h0M277.6 652.0h0M278.1 651.5h0M277.2 652.1h0M279.6 651.1h0M278.8 651.4h0M279.2 650.7h0M287.4 653.8h0M287.4 654.0h0M283.1 655.1h0M287.0 655.0h0M283.2 655.6h0M287.7 652.9h0M284.9 655.6h0M287.3 653.1h0M285.5 654.5h0M283.6 654.9h0M283.9 656.4h0M286.7 654.2h0M286.6 653.7h0M307.8 632.9h0M304.8 632.1h0M308.6 634.3h0M307.3 633.3h0M308.9 634.5h0M309.2 634.1h0M308.2 633.6h0M306.9 632.6h0M309.3 634.4h0M309.2 634.0h0M305.4 633.6h0M259.2 599.0h0M263.2 599.1h0M261.2 598.2h0M263.6 597.5h0M259.1 598.2h0M260.9 598.4h0M261.2 598.3h0M259.1 598.6h0M260.4 599.0h0M259.8 599.7h0M260.9 598.7h0" stroke="#138a5e" stroke-width="1.2" stroke-linecap="square"/>
<path d="M281.4 582.8h0M280.0 582.5h0M280.1 583.9h0M278.5 583.8h0M278.2 583.3h0M277.1 584.7h0M279.8 583.3h0M266.0 592.8h0M269.8 591.2h0M267.5 591.5h0M266.3 592.3h0M269.8 591.7h0M297.6 581.9h0M297.2 582.5h0M296.6 582.3h0M298.6 581.7h0M297.9 581.0h0M298.3 580.2h0M298.0 580.0h0M297.7 580.5h0M296.6 581.1h0M297.1 581.2h0M309.7 578.2h0M308.5 578.2h0M309.2 578.3h0M310.4 579.1h0M308.6 578.9h0M309.9 578.2h0M294.4 586.2h0M296.0 585.3h0M297.8 584.4h0M296.0 585.6h0M294.2 585.1h0M294.3 586.3h0M308.4 579.3h0M305.6 578.9h0M304.5 578.4h0M308.3 579.6h0M307.4 579.2h0M306.8 579.1h0M253.8 618.6h0M254.0 619.7h0M256.6 619.6h0M254.7 620.2h0M254.0 619.9h0M256.3 619.2h0M257.1 619.8h0M255.8 620.0h0M265.0 614.2h0M266.3 614.5h0M264.0 614.3h0M262.6 614.9h0M265.1 614.7h0M267.0 615.0h0M263.1 614.7h0M263.1 614.6h0M264.6 615.0h0M265.3 614.6h0M271.3 605.3h0M268.3 606.5h0M269.6 606.1h0M270.0 607.4h0M270.0 607.2h0M269.9 606.1h0M270.2 614.3h0M270.2 613.6h0M268.9 613.3h0M271.2 615.8h0M270.0 614.2h0M271.7 613.7h0M267.9 613.3h0M269.9 614.8h0M286.6 614.4h0M287.9 615.0h0M287.8 614.5h0M287.5 614.3h0M287.6 616.5h0M287.7 617.3h0M289.2 616.1h0M288.7 615.7h0M289.2 615.2h0M288.1 615.7h0M288.3 617.6h0M287.7 616.2h0M270.9 630.5h0M271.9 630.4h0M270.6 630.0h0M273.8 630.6h0M270.1 630.9h0M274.6 629.9h0M273.6 630.3h0M271.9 629.6h0M273.3 629.8h0M270.1 630.2h0M273.5 629.2h0M255.3 632.9h0M256.2 633.2h0M256.7 631.6h0M257.0 631.2h0M257.0 632.5h0M256.9 633.2h0M256.7 632.6h0M258.5 630.7h0M257.6 631.3h0M255.8 632.2h0M256.0 634.1h0M257.7 630.0h0M247.8 649.1h0M246.8 648.6h0M245.8 650.3h0M245.6 649.7h0M247.4 648.2h0M247.1 649.8h0M248.3 649.3h0M245.8 649.2h0M245.6 649.6h0M246.4 650.0h0M247.2 650.5h0M247.7 650.0h0M245.5 646.3h0M247.1 645.7h0M245.5 645.3h0M246.0 647.2h0M246.1 645.6h0M244.6 646.5h0M246.2 645.0h0M252.9 642.0h0M251.4 643.7h0M253.5 643.2h0M253.1 643.5h0M251.3 643.1h0M252.0 643.2h0M297.3 634.0h0M301.6 633.7h0M300.9 633.3h0M301.8 633.5h0M298.2 633.5h0M298.5 634.3h0M300.4 634.1h0M299.6 633.9h0M237.6 633.3h0M235.7 631.4h0M236.5 631.7h0M238.2 632.8h0M236.3 631.4h0M234.8 631.0h0M234.8 631.7h0M234.4 630.6h0M234.8 632.3h0M236.5 632.6h0M235.0 632.5h0M233.7 630.8h0M235.1 631.9h0M237.8 632.3h0M273.6 643.5h0M274.1 641.4h0M273.8 641.6h0M274.8 639.9h0M274.2 641.0h0M273.7 643.2h0M274.2 640.4h0M274.8 643.3h0M246.4 643.0h0M249.4 643.9h0M248.2 643.3h0M244.3 642.4h0M250.1 643.9h0M249.5 643.5h0M247.4 643.3h0M247.2 643.7h0M245.8 643.4h0M248.7 643.8h0M254.5 629.9h0M256.5 631.8h0M253.7 631.2h0M255.2 632.0h0M255.4 631.6h0M255.4 631.7h0M254.4 631.5h0M255.1 631.4h0M282.6 657.0h0M281.6 657.5h0M283.1 656.7h0M282.4 657.1h0M280.2 655.8h0M280.8 657.6h0M274.9 658.0h0M278.1 659.4h0M276.6 657.8h0M279.3 660.6h0M277.9 659.7h0M279.1 660.0h0M277.5 660.0h0M278.0 659.6h0M273.9 657.9h0M277.2 660.3h0M276.6 659.0h0M295.2 660.6h0M297.8 661.2h0M297.5 660.5h0M294.4 659.6h0M297.6 661.3h0M296.0 661.2h0M298.8 660.6h0M294.1 659.9h0M295.4 661.2h0M299.5 660.7h0M295.1 661.0h0M274.6 654.9h0M275.0 654.6h0M277.3 654.0h0M277.7 653.6h0M276.9 653.8h0M277.3 653.5h0M275.4 656.0h0M276.7 653.8h0M276.8 653.6h0M277.0 653.9h0M292.1 653.9h0M291.8 653.7h0M293.0 653.9h0M292.4 654.8h0M291.7 653.2h0M291.8 653.5h0M300.7 630.7h0M302.1 632.4h0M302.0 631.0h0M299.6 629.9h0M302.2 631.9h0M299.8 630.4h0M299.1 631.1h0M303.7 619.0h0M300.8 619.1h0M302.7 617.8h0M304.2 619.0h0M298.8 618.6h0M303.0 620.4h0M302.1 619.3h0M301.8 619.1h0M302.8 619.2h0M301.1 619.4h0M300.9 618.9h0M300.3 619.8h0M307.7 625.3h0M307.4 624.6h0M308.1 622.6h0M307.8 624.0h0M308.7 625.3h0M308.2 623.0h0M308.5 623.6h0M308.5 623.5h0M309.3 623.3h0M307.6 622.9h0M309.3 621.6h0M298.8 613.6h0M302.5 614.6h0M299.4 614.5h0M300.9 614.9h0M300.0 614.7h0M300.0 617.0h0M301.2 615.2h0M299.8 614.2h0M301.7 615.1h0M302.0 614.9h0M299.1 614.6h0M249.2 597.6h0M250.2 598.9h0M249.7 596.5h0M248.3 599.1h0M249.9 599.6h0M247.9 597.9h0M249.4 597.4h0M249.7 598.7h0M249.5 598.9h0M249.0 598.6h0M249.1 599.7h0M249.6 599.8h0M257.1 601.6h0M258.1 601.1h0M256.5 599.8h0M256.4 599.9h0M258.7 601.3h0M258.1 600.3h0M257.6 600.9h0M258.7 600.4h0M259.9 601.0h0M258.7 600.1h0M260.0 601.2h0M256.4 599.7h0M257.2 600.4h0M246.4 601.0h0M247.2 602.2h0M245.0 600.5h0M246.2 602.1h0M243.5 600.9h0M247.6 602.2h0M249.1 602.1h0M244.9 602.4h0M245.5 601.8h0M244.1 601.0h0M244.5 601.8h0M244.6 601.8h0M245.1 601.2h0M209.5 611.7h0M210.2 611.8h0M212.3 611.3h0M207.9 611.7h0M216.0 612.9h0M213.4 609.3h0M210.5 610.3h0M212.1 611.3h0M212.6 612.3h0M208.5 611.2h0M205.6 611.6h0M208.9 611.4h0M219.5 611.9h0M217.9 609.6h0M211.8 611.4h0M209.0 611.3h0M210.2 610.1h0M209.7 610.5h0M208.5 611.0h0M218.0 610.2h0M209.1 611.2h0M214.6 613.4h0M217.1 614.1h0M215.2 612.5h0M212.0 611.3h0M212.9 612.4h0M215.3 611.3h0M213.2 609.9h0M210.2 610.5h0M215.8 611.5h0M214.6 611.9h0M206.7 611.2h0M217.5 611.5h0M211.5 609.7h0M219.8 612.3h0M214.9 610.7h0M210.3 610.1h0M211.7 610.2h0M216.6 613.0h0M214.7 611.7h0M211.4 611.3h0M209.5 613.7h0M213.5 612.4h0M206.9 612.1h0M214.4 612.2h0M211.9 613.5h0M213.3 611.1h0M213.7 610.4h0M210.9 611.1h0M203.3 611.7h0M215.4 610.5h0M215.2 611.7h0M215.7 610.2h0M218.3 610.8h0M214.5 610.9h0M295.2 663.7h0M287.4 662.3h0M285.3 662.8h0M286.2 663.7h0M288.2 664.1h0M283.7 661.9h0M290.2 662.9h0M286.3 661.5h0M291.4 661.4h0M290.7 662.7h0M288.1 662.0h0M294.4 662.0h0M279.5 662.4h0M292.2 662.6h0M287.8 664.5h0M288.9 661.9h0M287.6 662.5h0M289.7 664.2h0M289.9 663.9h0M286.9 663.5h0M283.0 661.3h0M288.1 663.4h0M289.6 662.2h0M284.8 663.4h0M280.3 662.6h0M287.0 663.0h0M288.6 663.2h0M290.3 664.0h0M291.9 663.7h0M289.2 662.8h0M293.6 662.6h0M288.1 660.9h0M290.0 663.2h0M292.4 662.2h0M285.8 661.2h0" stroke="#8e8e8e" stroke-width="1.2" stroke-linecap="square"/>
<text x="287.60" y="688.60" font-size="10.4" text-anchor="middle" fill="#222" >T-SNE of FVs (Epoch: 100)</text>
<text transform="translate(197.5,769.7) rotate(-90)" font-size="10.9" text-anchor="middle" fill="#222">Principal component 2</text>
<text x="290.40" y="830.20" font-size="11.4" text-anchor="middle" fill="#222" >Principal component 1</text>
<circle cx="355.10" cy="713.90" r="1.80" fill="#2a58a8" />
<text x="364.40" y="715.80" font-size="5.4" text-anchor="start" fill="#555" >ā</text>
<circle cx="355.10" cy="721.29" r="1.80" fill="#555555" />
<text x="364.40" y="723.19" font-size="5.4" text-anchor="start" fill="#555" >ō</text>
<circle cx="355.10" cy="728.68" r="1.80" fill="#c87818" />
<text x="364.40" y="730.58" font-size="5.4" text-anchor="start" fill="#555" >yī</text>
<circle cx="355.10" cy="736.07" r="1.80" fill="#0e6f6f" />
<text x="364.40" y="737.97" font-size="5.4" text-anchor="start" fill="#555" >bā</text>
<circle cx="355.10" cy="743.46" r="1.80" fill="#d03040" />
<text x="364.40" y="745.36" font-size="5.4" text-anchor="start" fill="#555" >hēshuǐ</text>
<circle cx="355.10" cy="750.85" r="1.80" fill="#6a5aaa" />
<text x="364.40" y="752.75" font-size="5.4" text-anchor="start" fill="#555" >A</text>
<circle cx="355.10" cy="758.24" r="1.80" fill="#8e8e8e" />
<text x="364.40" y="760.14" font-size="5.4" text-anchor="start" fill="#555" >E</text>
<circle cx="355.10" cy="765.63" r="1.80" fill="#aaa21a" />
<text x="364.40" y="767.53" font-size="5.4" text-anchor="start" fill="#555" >I</text>
<circle cx="355.10" cy="773.02" r="1.80" fill="#138a5e" />
<text x="364.40" y="774.92" font-size="5.4" text-anchor="start" fill="#555" >O</text>
<circle cx="355.10" cy="780.41" r="1.80" fill="#a89bd4" />
<text x="364.40" y="782.31" font-size="5.4" text-anchor="start" fill="#555" >U</text>
<circle cx="355.10" cy="787.80" r="1.80" fill="#1b3a75" />
<text x="364.40" y="789.70" font-size="5.4" text-anchor="start" fill="#555" >Swallow</text>
<circle cx="355.10" cy="795.19" r="1.80" fill="#f0957a" />
<text x="364.40" y="797.09" font-size="5.4" text-anchor="start" fill="#555" >Cough</text>
<circle cx="355.10" cy="802.58" r="1.80" fill="#5aa0a2" />
<text x="364.40" y="804.48" font-size="5.4" text-anchor="start" fill="#555" >Drink</text>
<path d="M245.9 728.8h0M231.6 724.3h0M235.5 725.7h0M240.7 724.1h0M241.7 722.6h0M237.9 732.2h0M246.9 721.8h0M227.9 721.4h0M245.2 721.9h0M238.0 724.7h0M243.4 723.6h0M234.5 719.6h0M237.2 724.6h0M238.7 726.8h0M234.1 730.9h0M237.4 731.5h0M230.0 721.6h0M232.2 718.1h0M231.6 723.0h0M231.2 728.7h0M242.2 722.1h0M241.5 721.3h0M237.9 719.3h0M230.4 724.9h0M229.0 722.3h0M245.9 729.0h0M238.7 731.7h0M239.4 729.2h0M240.2 724.7h0M232.8 717.9h0M234.0 725.6h0M237.1 721.4h0M241.9 726.8h0M243.5 722.4h0M246.3 724.4h0M245.6 720.1h0M246.5 728.8h0M235.2 723.4h0M237.5 730.5h0M237.3 717.3h0M237.9 729.8h0M236.8 727.5h0M237.9 718.3h0M244.3 722.4h0M247.4 724.4h0M239.9 723.3h0M232.5 724.6h0M237.4 724.7h0M233.9 717.7h0M237.7 719.2h0M242.4 730.3h0M245.7 724.0h0M235.2 722.0h0M239.7 721.6h0M241.7 725.5h0M239.7 721.9h0M236.8 726.3h0M229.3 726.5h0M246.7 726.0h0M236.4 720.4h0M237.9 718.1h0M241.1 720.5h0M233.6 718.3h0M241.1 728.5h0M238.3 725.8h0M242.1 730.9h0M235.0 725.6h0M239.0 726.2h0M231.4 727.2h0M236.2 722.0h0M235.4 718.5h0M243.4 721.1h0M244.3 721.4h0M245.6 723.3h0M234.0 729.0h0M241.5 719.6h0M234.9 721.9h0M233.4 725.6h0M241.2 720.5h0M234.1 730.0h0M246.4 721.7h0M239.9 722.0h0M234.7 731.1h0M234.6 725.1h0M228.8 721.4h0M239.1 725.8h0M236.9 719.3h0M242.6 720.4h0M230.5 728.4h0M235.1 718.0h0M241.6 725.7h0M244.6 719.9h0M237.6 726.2h0M242.6 720.4h0M244.7 727.1h0M244.3 727.4h0M242.0 726.7h0M227.8 722.6h0M244.8 726.1h0M239.5 722.5h0M239.8 718.6h0M240.8 726.1h0M231.0 726.4h0M235.6 723.3h0M238.0 719.7h0M232.8 717.8h0M236.6 725.7h0M239.0 724.8h0M236.8 723.8h0M238.1 723.7h0M233.3 730.6h0M240.5 719.4h0M241.4 726.2h0M240.5 724.1h0M239.2 719.4h0M230.7 729.5h0M237.4 718.9h0M235.4 717.2h0M234.0 730.4h0M239.6 719.7h0M236.1 728.5h0M241.9 729.3h0M242.9 729.6h0M232.0 723.7h0M227.9 723.8h0M243.4 730.3h0M235.4 730.4h0M243.9 725.9h0M244.4 725.9h0M245.9 725.6h0M242.9 724.8h0M237.7 729.0h0M234.0 728.4h0M229.6 724.2h0M230.7 727.8h0M237.9 727.4h0M236.9 728.1h0M233.6 730.2h0M230.8 729.8h0M238.9 720.3h0M246.5 726.4h0M235.9 723.6h0M239.3 729.2h0M242.5 720.3h0M230.2 720.2h0M246.1 725.3h0M230.4 719.1h0M241.5 723.3h0M242.5 726.2h0M240.9 725.4h0M229.6 729.1h0M243.3 728.6h0M236.9 724.6h0M233.7 722.1h0M240.2 722.4h0M244.8 723.0h0M244.6 722.5h0M230.5 729.3h0M235.1 724.4h0M237.0 727.4h0M246.0 727.2h0M233.3 722.0h0M241.4 729.6h0M232.9 719.1h0M234.1 726.2h0M237.8 729.4h0M236.2 720.4h0M236.3 719.4h0M238.8 728.6h0M238.0 722.8h0M244.6 719.8h0M234.6 732.0h0M232.6 727.5h0M237.5 718.1h0M238.8 723.7h0M233.4 726.6h0M234.7 720.9h0M235.2 721.1h0M247.8 722.9h0M240.4 725.0h0M232.6 728.0h0M236.4 728.5h0M228.6 721.6h0M226.8 724.5h0M238.8 718.3h0M232.0 728.8h0M233.1 724.7h0M243.6 724.2h0M244.8 723.8h0M238.7 723.3h0M236.8 723.5h0M236.6 723.2h0M240.6 721.9h0M241.6 723.1h0M238.1 720.4h0M240.0 721.5h0M233.8 730.5h0M233.6 726.8h0M239.5 726.4h0M244.5 727.9h0M228.2 723.7h0M239.4 719.4h0M233.9 722.7h0M230.2 721.4h0M239.1 727.8h0M232.5 727.0h0M239.1 731.8h0M243.3 719.6h0M247.8 722.7h0M231.6 721.3h0M237.8 720.6h0M231.9 727.9h0M230.6 724.7h0M227.7 722.4h0M238.2 724.3h0M241.5 731.0h0M239.1 724.7h0M245.2 728.8h0M240.3 726.3h0M228.7 720.5h0M237.7 729.2h0M228.4 725.8h0M237.0 728.5h0M241.0 724.4h0M236.4 720.0h0M246.2 724.8h0M239.0 729.0h0M238.5 722.3h0M243.0 726.1h0M240.7 725.7h0M227.9 723.6h0M235.7 730.0h0M238.5 729.2h0M227.4 725.7h0M229.2 721.3h0M233.9 726.3h0M235.7 717.4h0M231.4 721.4h0M244.0 726.9h0M233.9 728.8h0M246.6 728.7h0M234.0 718.1h0M235.4 729.8h0M229.5 728.3h0M241.7 719.5h0M238.6 720.6h0M230.8 724.9h0M228.4 727.4h0M246.3 726.5h0M240.2 726.4h0M237.7 723.9h0M241.9 725.5h0M245.3 724.4h0M239.4 729.1h0M239.7 723.4h0M238.6 723.9h0M241.6 728.8h0M233.4 730.6h0M241.0 726.4h0M239.6 731.8h0M231.3 730.1h0M233.1 724.5h0M230.7 722.5h0M241.5 720.8h0M227.6 722.0h0M229.4 719.5h0M240.3 721.3h0M240.8 724.2h0M234.8 729.9h0M240.5 717.4h0M238.7 720.5h0M238.3 731.7h0M245.6 721.3h0M230.7 723.9h0M239.6 730.5h0M234.8 723.1h0M242.7 727.4h0M237.1 723.9h0M240.9 720.0h0M245.8 724.5h0M242.7 726.2h0M227.8 721.4h0M235.9 719.9h0M237.2 731.5h0M230.6 728.0h0M227.7 721.4h0M229.9 727.5h0M241.2 718.1h0M231.9 718.9h0M231.4 719.6h0M237.3 718.5h0M238.2 717.7h0M244.2 727.6h0M243.5 730.0h0M229.8 721.8h0M233.9 723.6h0M232.2 723.1h0M239.0 717.6h0M228.5 721.9h0M244.3 718.9h0M240.1 723.3h0M242.8 718.9h0M239.2 731.3h0M238.7 720.0h0M227.4 721.8h0M245.7 726.7h0M245.6 725.5h0M242.4 729.7h0M230.8 726.0h0M244.3 720.9h0M239.7 727.6h0M227.1 721.8h0M238.7 730.5h0M233.4 730.1h0M244.9 721.4h0M243.8 721.5h0M233.0 720.1h0M247.5 725.5h0M237.4 725.0h0M233.7 728.6h0M231.7 718.2h0M244.2 721.5h0M236.0 725.1h0M240.8 718.4h0M229.4 728.4h0M233.7 724.0h0M235.9 722.9h0M229.6 722.9h0M232.6 729.6h0M241.8 723.2h0M228.2 722.1h0M245.8 728.7h0M244.7 720.2h0M239.6 720.9h0M231.9 731.0h0M245.0 729.5h0M238.7 720.2h0M242.5 729.3h0M239.0 717.8h0M236.0 731.8h0M243.7 719.2h0M242.4 730.3h0M246.5 724.7h0M229.0 724.2h0M243.1 722.2h0M241.0 724.7h0M244.1 724.1h0M238.3 726.5h0M240.5 730.2h0M242.0 718.5h0M248.3 725.9h0M235.9 725.8h0M235.8 723.2h0M235.7 723.4h0M237.3 723.2h0M233.9 726.3h0M234.3 722.4h0M231.3 722.3h0M234.2 726.1h0M236.9 721.4h0M237.3 725.5h0M226.0 725.4h0M230.1 727.0h0M226.6 725.2h0M224.8 726.5h0M226.5 722.9h0M226.3 726.7h0M231.6 726.4h0M227.5 722.2h0M231.8 723.6h0M231.4 724.6h0M229.2 724.6h0M228.2 724.4h0M231.4 723.9h0M227.8 727.8h0M229.1 726.8h0M229.5 725.5h0M230.5 724.1h0M229.9 724.3h0M230.5 723.9h0M224.0 725.5h0M226.2 725.2h0M232.3 724.8h0M227.6 724.1h0M229.5 726.5h0M228.7 726.8h0M230.1 722.3h0M226.9 726.7h0M224.0 724.0h0M226.8 725.8h0M224.2 725.8h0M225.8 724.4h0M225.0 723.5h0M229.8 726.9h0M232.0 725.7h0M227.9 725.5h0M229.3 723.1h0M227.9 725.6h0M224.7 725.6h0M229.5 723.3h0M224.0 724.3h0M231.2 723.5h0M225.0 724.9h0M229.2 724.5h0M229.9 722.8h0M231.1 722.9h0M224.8 723.5h0M229.7 725.7h0M223.8 724.5h0M229.7 726.8h0M227.8 722.8h0M227.7 722.6h0M228.4 726.8h0M230.0 722.4h0M231.3 721.2h0M230.0 725.3h0M228.1 723.6h0M228.9 725.7h0M229.1 723.0h0M229.2 720.9h0M227.9 721.2h0M226.6 720.4h0M224.9 723.9h0M224.9 724.8h0M228.7 725.0h0M228.7 722.0h0M229.1 721.4h0M231.6 723.2h0M231.9 724.5h0M229.9 725.3h0M227.6 724.2h0M232.0 723.0h0M228.1 722.8h0M226.2 725.7h0M231.8 722.2h0M227.0 723.8h0M231.6 724.2h0M229.5 722.8h0M226.1 722.4h0M226.0 724.3h0M227.7 722.8h0M225.2 721.7h0M228.1 725.1h0M226.6 722.1h0M227.9 723.0h0M230.7 725.5h0M230.9 723.5h0M231.7 723.6h0M228.0 720.7h0M224.2 722.4h0M225.4 721.7h0M226.0 723.1h0M231.2 725.2h0M226.4 725.3h0M224.9 723.0h0M227.0 721.9h0M225.3 723.8h0M224.6 723.8h0M231.5 721.8h0M226.0 723.8h0M230.2 725.7h0M226.2 724.2h0M229.7 725.6h0M228.0 722.7h0M226.7 722.1h0M229.2 720.3h0M231.6 724.1h0" stroke="#138a5e" stroke-width="1.2" stroke-linecap="square"/>
<path d="M276.8 712.5h0M265.6 712.5h0M274.9 719.5h0M276.1 710.3h0M270.2 710.3h0M273.2 709.2h0M265.4 710.6h0M270.8 705.3h0M263.7 712.1h0M277.9 713.6h0M267.5 706.0h0M265.8 719.3h0M276.1 708.5h0M276.0 707.6h0M265.0 718.7h0M267.9 718.9h0M277.8 715.4h0M275.0 721.4h0M274.2 720.8h0M273.4 709.9h0M273.4 719.6h0M265.6 715.0h0M276.0 720.2h0M268.1 711.2h0M271.0 722.8h0M267.7 706.3h0M275.3 706.8h0M272.7 710.0h0M276.8 711.1h0M276.2 709.6h0M275.2 717.1h0M270.3 721.3h0M273.9 711.7h0M271.3 705.7h0M274.0 712.1h0M275.8 711.7h0M274.2 712.9h0M274.5 712.2h0M269.1 708.7h0M265.1 708.8h0M277.4 718.8h0M273.2 712.6h0M269.5 708.3h0M277.8 714.8h0M262.1 712.5h0M277.0 711.5h0M275.6 714.1h0M263.5 714.2h0M272.6 709.9h0M273.2 720.5h0M276.1 718.8h0M264.2 713.1h0M273.2 712.3h0M264.8 714.3h0M276.8 715.5h0M268.9 706.9h0M270.6 715.1h0M272.8 710.2h0M269.1 718.4h0M266.1 715.1h0M269.6 716.0h0M270.1 708.2h0M276.9 708.1h0M262.7 714.9h0M266.8 712.9h0M263.4 717.5h0M279.2 716.2h0M270.0 722.2h0M268.5 706.6h0M277.6 719.4h0M271.2 712.2h0M267.2 718.5h0M264.3 707.5h0M275.7 718.5h0M268.9 713.9h0M270.5 710.5h0M266.4 714.2h0M276.4 719.9h0M262.7 712.1h0M268.9 716.4h0M274.0 717.5h0M273.7 705.8h0M269.1 714.5h0M267.3 720.9h0M262.9 713.3h0M265.3 715.5h0M269.8 717.0h0M265.8 713.8h0M266.8 720.4h0M267.7 707.7h0M267.2 719.6h0M278.5 711.8h0M267.7 720.8h0M268.2 711.2h0M276.9 720.3h0M278.3 708.7h0M273.0 708.1h0M269.3 716.3h0M275.8 706.5h0M278.5 715.8h0M268.0 716.6h0M268.4 710.2h0M273.6 712.8h0M276.8 707.5h0M274.5 706.2h0M272.2 712.0h0M275.8 713.8h0M274.5 714.4h0M266.4 708.5h0M271.9 716.0h0M268.1 721.8h0M265.6 712.7h0M263.1 708.7h0M264.7 714.0h0M276.1 706.0h0M271.8 719.6h0M267.1 709.0h0M277.5 711.3h0M271.1 714.1h0M266.6 718.5h0M270.6 710.1h0M268.2 716.5h0M276.9 711.9h0M272.0 710.2h0M263.0 711.3h0M270.5 709.8h0M274.2 715.1h0M275.9 720.3h0M275.5 713.8h0M275.2 716.6h0M273.2 713.7h0M270.9 718.1h0M274.8 720.3h0M269.7 713.9h0M273.8 719.0h0M268.5 713.3h0M263.2 715.9h0M275.7 709.9h0M267.5 720.9h0M266.3 719.1h0M265.5 714.2h0M276.5 706.7h0M267.6 720.1h0M263.0 713.0h0M268.0 708.2h0M276.1 709.6h0M270.1 708.0h0M267.4 712.5h0M268.2 714.7h0M268.9 714.0h0M269.4 710.0h0M272.6 705.9h0M277.2 710.2h0M279.4 711.7h0M275.1 711.3h0M273.9 719.8h0M264.5 710.6h0M270.3 704.8h0M278.1 711.4h0M273.0 706.5h0M264.7 709.8h0M271.4 720.4h0M271.1 717.1h0M266.6 707.2h0M271.0 720.6h0M273.8 711.2h0M266.4 711.9h0M265.5 716.7h0M266.1 707.3h0M273.7 710.8h0M272.4 709.1h0M277.0 711.1h0M270.5 718.0h0M273.7 706.0h0M265.0 708.5h0M273.2 719.1h0M274.6 705.8h0M267.5 715.0h0M271.8 715.5h0M274.7 715.1h0M275.6 710.0h0M264.8 712.5h0M275.4 717.7h0M274.7 710.5h0M265.1 710.3h0M274.4 711.4h0M275.5 720.4h0M270.8 711.0h0M272.3 708.1h0M272.9 705.2h0M267.5 712.5h0M274.0 710.6h0M264.4 711.2h0M278.6 710.3h0M264.7 712.8h0M266.2 711.4h0M272.7 721.4h0M269.3 708.3h0M267.3 713.3h0M267.3 709.3h0M278.4 716.8h0M270.8 704.2h0M271.2 709.7h0M270.0 718.4h0M277.1 710.1h0M274.1 705.6h0M268.4 712.3h0M278.3 717.1h0M272.8 717.0h0M269.6 704.8h0M271.6 712.7h0M274.7 719.2h0M272.2 705.8h0M266.5 710.9h0M275.4 714.3h0M263.7 714.6h0M270.5 709.8h0M268.0 711.1h0M276.4 713.8h0M267.0 714.3h0M268.8 712.2h0M273.8 712.9h0M273.8 714.6h0M273.0 716.8h0M276.2 718.8h0M269.0 707.7h0M263.8 715.2h0M277.2 716.0h0M270.7 711.1h0M274.9 717.3h0M273.2 716.3h0M276.3 719.0h0M263.7 716.2h0M266.3 705.9h0M271.3 704.5h0M273.0 720.5h0M270.6 712.1h0M265.7 711.0h0M267.5 719.3h0M267.7 708.4h0M276.5 707.7h0M271.2 710.9h0M271.2 708.9h0M274.4 716.4h0M272.6 706.2h0M268.6 711.3h0M270.5 714.2h0M266.3 705.5h0M273.5 717.4h0M276.4 719.8h0M264.6 709.4h0M264.9 720.5h0M269.3 705.2h0M277.8 716.8h0M266.3 706.7h0M272.4 721.0h0M268.4 711.9h0M268.7 707.6h0M273.3 713.9h0M273.5 713.0h0M269.9 719.4h0M267.7 717.6h0M267.7 717.3h0M274.2 711.7h0M279.4 715.1h0M276.8 708.3h0M279.6 715.1h0M275.9 711.1h0M268.7 716.2h0M271.5 720.0h0M277.1 716.2h0M277.8 716.6h0M276.3 712.3h0M271.5 712.7h0M271.2 716.6h0M269.4 720.9h0M274.9 710.5h0M270.2 722.3h0M274.2 706.8h0M268.3 710.4h0M269.7 709.0h0M270.8 716.6h0M264.4 707.6h0M265.7 717.2h0M276.8 709.8h0M265.1 720.1h0M270.1 715.6h0M264.0 716.3h0M276.0 713.5h0M267.7 715.2h0M270.9 719.9h0M277.2 718.9h0M270.8 719.6h0M275.8 718.0h0M271.8 705.3h0M269.3 713.5h0M279.2 715.1h0M272.5 707.0h0M275.2 717.0h0M271.0 711.1h0M274.1 719.2h0M264.8 711.8h0M273.6 706.6h0M267.8 714.7h0M278.2 715.1h0M278.1 712.3h0M267.2 714.5h0M276.4 715.2h0M270.9 719.8h0M271.1 715.9h0M278.8 716.2h0M266.7 718.7h0M270.1 718.4h0M271.9 710.2h0M270.5 712.4h0M267.6 712.1h0M264.6 712.3h0M267.3 718.3h0M267.0 715.5h0M273.6 714.1h0M274.5 713.7h0M266.8 705.9h0M272.5 719.1h0M274.6 705.5h0M266.9 715.3h0M265.8 715.8h0M271.8 711.5h0M265.4 710.2h0M274.4 706.8h0M269.5 713.8h0M276.2 712.9h0M266.6 715.8h0M267.5 719.8h0M271.1 705.3h0M277.2 715.8h0M269.4 711.0h0M270.8 714.7h0M267.0 707.8h0M262.4 711.1h0M277.6 716.9h0M271.2 704.9h0M267.8 710.2h0M275.0 713.7h0M272.8 713.6h0M271.1 712.0h0M266.1 709.5h0M272.4 709.1h0M274.7 706.2h0M275.7 711.2h0M263.8 707.8h0M266.2 707.9h0M272.9 720.3h0M267.6 705.9h0M266.0 718.2h0M269.3 719.2h0M268.9 715.4h0M271.8 718.2h0M276.2 716.2h0M278.1 717.5h0M277.3 717.4h0M277.7 712.4h0M276.6 713.5h0M275.0 714.2h0M280.3 715.9h0M280.9 716.3h0M279.2 715.2h0M274.8 717.5h0M277.6 715.5h0M275.5 716.5h0M279.0 713.5h0M278.4 717.0h0M279.3 716.5h0M277.7 715.5h0M278.9 713.2h0M280.7 718.0h0M281.1 714.6h0M278.5 714.3h0M276.7 713.1h0M275.5 714.8h0M280.3 713.8h0M276.7 716.4h0M280.6 718.3h0M280.9 715.3h0M275.3 715.3h0M281.2 715.2h0M274.8 715.8h0M280.0 713.1h0M280.9 714.5h0M277.5 717.3h0M278.1 713.5h0M279.5 714.5h0M274.6 715.7h0M275.9 714.9h0M275.6 715.9h0M279.4 716.1h0M278.6 714.3h0M280.3 716.7h0M276.9 716.2h0M279.7 713.2h0M277.2 716.7h0M277.1 715.4h0M277.3 715.1h0M279.8 718.9h0M276.7 713.5h0M278.6 713.2h0M275.0 717.6h0M279.7 718.5h0M275.3 718.2h0M276.4 713.0h0M267.7 707.1h0M265.2 709.3h0M266.8 710.1h0M267.5 704.5h0M266.5 707.4h0M269.2 705.1h0M267.8 708.6h0M269.3 704.9h0M265.1 706.1h0M266.1 707.7h0M269.4 705.7h0M268.8 704.5h0M266.0 705.6h0M264.9 704.2h0M269.6 705.5h0M266.4 709.6h0M265.7 708.1h0M266.7 709.7h0M269.3 707.2h0M266.6 707.7h0M269.6 707.0h0M268.0 707.7h0M269.0 706.6h0M267.2 703.5h0M264.8 708.3h0M268.7 708.7h0M264.2 705.4h0M267.4 709.5h0M264.5 706.3h0M264.5 704.6h0M268.1 708.3h0M263.5 707.3h0M267.0 704.4h0M264.9 705.7h0M266.3 706.2h0M266.5 708.5h0M268.3 704.4h0M267.1 703.7h0M265.1 709.3h0M264.4 704.9h0M270.2 706.8h0M266.7 705.7h0M267.6 709.9h0M268.6 705.5h0M267.7 706.7h0M266.9 709.6h0M268.6 708.0h0M267.2 706.4h0M268.7 709.9h0M266.6 708.8h0M267.7 707.9h0M268.6 708.0h0" stroke="#a89bd4" stroke-width="1.2" stroke-linecap="square"/>
<path d="M311.7 721.2h0M306.5 721.6h0M300.2 718.7h0M316.5 723.1h0M295.4 721.3h0M306.7 714.0h0M310.9 723.2h0M296.8 719.0h0M301.0 716.6h0M316.7 718.9h0M312.2 716.9h0M303.7 719.9h0M312.1 722.4h0M294.9 719.8h0M309.5 713.8h0M298.6 715.5h0M298.6 715.3h0M298.0 718.9h0M296.4 719.0h0M307.0 728.1h0M299.5 724.2h0M296.0 723.3h0M302.2 723.3h0M309.4 719.3h0M303.8 723.7h0M303.1 726.2h0M314.0 724.3h0M305.2 714.5h0M316.1 722.8h0M300.0 721.2h0M304.6 716.3h0M304.6 716.6h0M309.6 721.4h0M305.8 719.1h0M311.2 715.9h0M308.3 713.9h0M308.6 724.5h0M298.4 724.0h0M312.8 724.4h0M306.5 725.0h0M314.6 722.4h0M315.6 722.3h0M303.3 717.4h0M312.5 724.7h0M302.8 719.2h0M305.0 724.9h0M299.0 725.6h0M309.2 714.3h0M299.7 718.9h0M304.6 720.6h0M308.3 717.0h0M317.5 721.2h0M304.1 725.0h0M300.0 725.5h0M300.8 726.7h0M297.3 717.7h0M304.6 724.4h0M308.8 727.2h0M307.5 719.6h0M314.5 725.7h0M299.6 725.5h0M314.5 715.9h0M309.8 718.2h0M298.2 723.7h0M313.8 722.1h0M302.2 725.6h0M307.2 722.1h0M303.6 714.8h0M309.5 723.2h0M309.7 724.1h0M317.3 719.1h0M296.7 723.7h0M304.1 715.8h0M298.4 724.4h0M301.4 717.6h0M310.6 722.4h0M306.0 718.5h0M298.6 726.0h0M295.0 720.4h0M298.6 719.5h0M304.9 721.7h0M307.7 713.1h0M314.9 721.1h0M299.6 720.1h0M304.0 713.2h0M314.7 725.7h0M311.2 725.7h0M314.2 718.8h0M307.2 719.9h0M309.4 716.0h0M314.3 720.4h0M306.5 723.4h0M308.0 718.9h0M305.5 713.4h0M315.0 722.4h0M308.3 727.1h0M301.6 721.1h0M301.8 725.3h0M299.1 724.9h0M315.3 722.2h0M316.2 719.6h0M302.9 723.3h0M300.5 720.2h0M313.2 724.5h0M307.0 715.4h0M311.9 717.6h0M307.1 713.2h0M316.3 722.4h0M301.2 722.3h0M300.4 725.1h0M304.7 722.9h0M310.6 727.3h0M315.9 725.4h0M312.6 725.8h0M296.9 722.7h0M299.2 716.3h0M316.6 719.7h0M299.0 715.9h0M313.5 723.1h0M308.4 714.1h0M307.2 724.5h0M300.4 715.6h0M305.1 720.7h0M312.8 716.5h0M303.6 722.6h0M314.1 722.8h0M304.8 714.7h0M317.2 723.2h0M301.3 717.8h0M306.9 721.9h0M302.4 725.8h0M315.9 721.8h0M308.3 717.3h0M305.3 715.5h0M312.7 725.3h0M308.3 727.5h0M307.7 720.1h0M313.9 715.1h0M309.3 714.3h0M296.8 720.0h0M300.5 723.7h0M304.3 727.7h0M310.6 717.0h0M309.6 723.8h0M317.2 716.9h0M306.3 725.4h0M309.3 717.7h0M300.1 719.6h0M315.3 722.9h0M308.9 726.8h0M305.7 720.3h0M302.8 714.6h0M309.9 714.8h0M307.4 726.3h0M311.7 724.6h0M297.2 720.5h0M314.1 716.0h0M309.9 715.3h0M298.8 723.2h0M302.6 720.4h0M314.4 716.5h0M318.1 723.4h0M303.4 725.8h0M312.3 724.4h0M305.7 725.5h0M311.5 724.0h0M310.0 721.1h0M305.7 714.9h0M306.8 716.1h0M306.8 724.3h0M316.0 716.7h0M301.5 716.0h0M309.8 723.5h0M303.7 719.7h0M318.8 719.4h0M302.4 716.2h0M298.4 724.9h0M315.2 718.7h0M315.3 720.0h0M304.6 720.5h0M296.6 717.1h0M308.8 722.7h0M307.4 719.9h0M308.3 727.7h0M316.8 721.2h0M301.1 723.8h0M315.6 725.4h0M297.5 720.3h0M302.7 715.7h0M309.5 715.8h0M306.1 721.0h0M312.3 722.6h0M299.4 725.4h0M304.1 727.7h0M307.7 726.1h0M315.5 718.0h0M304.9 719.1h0M304.6 720.5h0M299.4 721.1h0M307.0 713.6h0M303.8 718.2h0M302.8 727.2h0M297.6 716.9h0M307.4 719.4h0M310.2 726.9h0M317.8 721.3h0M303.0 722.3h0M299.5 725.6h0M318.0 718.0h0M300.3 718.0h0M308.1 721.0h0M304.0 716.1h0M316.5 719.5h0M304.0 721.6h0M316.4 721.1h0M312.3 718.6h0M309.7 721.7h0M313.4 714.2h0M307.9 724.4h0M310.0 715.5h0M314.4 724.1h0M314.9 717.9h0M308.0 715.6h0M305.7 720.5h0M308.4 714.1h0M299.0 722.9h0M305.8 723.1h0M298.2 719.4h0M303.7 718.7h0M298.6 716.4h0M298.4 719.6h0M299.0 718.7h0M304.4 718.8h0M297.2 719.5h0M300.2 715.4h0M308.5 721.1h0M309.4 716.1h0M299.7 725.9h0M296.5 717.6h0M315.9 721.4h0M315.1 725.9h0M314.5 725.9h0M307.5 716.3h0M312.4 715.8h0M297.2 717.4h0M307.4 721.3h0M315.6 719.8h0M318.7 720.9h0M312.5 717.9h0M308.7 722.0h0M300.4 721.6h0M302.2 727.5h0M299.2 721.8h0M304.2 714.7h0M310.9 723.6h0M298.4 716.6h0M314.9 724.1h0M311.3 715.8h0M305.1 726.3h0M297.1 716.6h0M302.6 721.8h0M314.3 726.3h0M302.3 725.5h0M296.6 722.7h0M315.4 715.7h0M306.0 727.0h0M306.5 723.1h0M309.9 716.8h0M304.7 725.6h0M310.2 717.1h0M307.6 718.2h0M309.2 718.4h0M310.8 716.9h0M311.8 715.1h0M317.1 721.3h0M313.7 722.4h0M317.1 717.3h0M296.9 724.6h0M301.9 721.4h0M314.2 725.9h0M302.3 721.2h0M311.5 725.3h0M302.1 726.2h0M307.1 720.2h0M314.1 723.4h0M317.1 718.3h0M311.0 726.3h0M305.8 717.2h0M311.8 724.2h0M297.9 725.3h0M316.4 717.5h0M301.2 724.3h0M313.3 722.2h0M297.7 718.2h0M310.0 720.0h0M296.2 717.2h0M298.4 716.1h0M309.6 719.1h0M308.2 718.8h0M308.1 722.4h0M314.4 716.2h0M308.4 727.4h0M307.6 719.1h0M302.4 719.3h0M309.7 721.0h0M301.1 722.3h0M318.7 721.3h0M306.5 726.9h0M310.1 720.4h0M296.3 720.4h0M300.8 719.0h0M304.0 727.2h0M312.5 724.9h0M298.0 721.7h0M296.8 717.5h0M303.5 721.9h0M306.4 728.1h0M307.6 715.9h0M305.6 713.2h0M309.2 715.5h0M312.0 724.5h0M310.6 714.2h0M316.9 724.2h0M306.5 718.8h0M306.8 722.0h0M301.6 725.1h0M302.8 718.5h0M310.2 725.2h0M303.4 727.8h0M309.0 714.3h0M299.0 722.6h0M311.0 718.2h0M309.9 718.6h0M299.6 719.7h0M305.6 726.0h0M314.3 721.8h0M309.9 725.8h0M319.0 720.1h0M315.9 715.9h0M298.2 720.5h0M313.2 719.8h0M308.5 727.8h0M309.7 714.9h0M311.2 716.8h0M308.4 721.7h0M303.0 724.8h0M301.3 721.9h0M313.5 722.0h0M301.9 717.7h0M302.1 724.1h0M308.2 723.5h0M311.0 715.5h0M300.5 719.5h0M307.2 718.4h0M296.9 720.9h0M305.7 714.5h0M297.7 716.4h0M309.4 721.7h0M315.5 724.5h0M310.0 719.8h0M308.3 720.5h0M304.0 724.0h0M316.1 718.4h0M316.3 722.7h0M307.7 721.5h0M305.5 716.3h0M308.0 727.4h0M316.0 718.0h0M311.0 722.1h0M310.0 720.6h0M312.0 724.2h0M302.7 726.8h0M296.6 717.7h0M311.0 721.6h0M297.5 724.0h0M309.5 719.7h0M310.9 722.7h0M306.0 717.6h0M315.5 715.4h0M301.3 715.5h0M306.3 726.5h0M305.5 719.8h0M304.5 727.9h0M296.4 720.9h0M303.8 713.9h0M298.4 721.8h0M316.0 717.9h0M301.0 718.2h0M312.2 721.2h0M306.9 718.9h0M313.4 722.8h0M313.7 719.0h0M317.1 720.7h0M315.7 718.9h0M319.8 721.0h0M321.1 719.9h0M314.0 721.9h0M315.7 718.5h0M320.2 721.9h0M313.9 719.0h0M321.5 720.2h0M315.1 723.0h0M320.6 719.2h0M314.4 723.0h0M317.1 722.8h0M315.4 720.5h0M316.2 721.6h0M321.3 722.1h0M313.8 720.0h0M315.2 719.5h0M312.9 722.2h0M317.5 720.3h0M313.2 720.3h0M316.0 721.1h0M316.2 719.6h0M314.6 721.2h0M315.3 718.7h0M320.7 720.3h0M314.7 720.3h0M313.0 719.6h0M315.4 722.0h0M320.3 721.0h0M313.9 722.9h0M318.5 722.4h0M317.8 723.3h0M317.6 720.3h0M317.7 722.8h0M316.9 723.8h0M317.6 721.9h0M315.0 720.7h0M318.9 721.5h0M320.7 720.2h0M319.5 723.1h0M315.5 723.6h0M320.7 722.1h0M317.9 721.1h0M319.4 719.8h0M315.8 719.4h0M321.1 721.1h0M312.6 720.3h0M314.7 720.9h0M319.6 723.3h0M319.5 722.0h0M317.3 722.1h0M319.3 720.3h0M315.0 718.4h0M319.8 720.1h0M310.7 714.2h0M310.3 714.0h0M309.9 712.1h0M310.3 715.4h0M304.6 713.2h0M307.7 714.8h0M309.4 713.8h0M305.1 711.8h0M308.5 711.6h0M309.0 715.6h0M305.9 714.1h0M304.0 714.7h0M310.8 714.6h0M310.3 714.2h0M309.5 715.2h0M309.3 716.4h0M305.3 713.8h0M303.0 715.4h0M310.6 715.8h0M306.9 713.0h0M304.5 716.5h0M307.9 712.1h0M310.6 712.9h0M305.8 712.2h0M303.4 715.3h0M305.0 714.2h0M304.7 715.8h0M310.3 715.3h0M305.6 716.6h0M306.0 712.3h0M306.8 713.4h0M306.2 714.0h0M311.6 715.1h0M305.9 715.4h0M303.0 713.6h0M305.4 713.4h0M304.4 713.7h0M310.3 713.5h0M303.3 712.8h0M308.0 712.8h0M309.7 713.8h0M308.6 714.5h0M305.2 714.1h0M307.2 713.0h0M310.5 715.0h0M304.6 712.8h0M304.1 712.3h0M307.7 716.6h0M308.5 715.5h0M306.6 716.3h0M306.8 715.6h0M309.9 716.1h0M305.6 714.1h0M303.1 715.6h0M304.8 716.0h0M307.3 714.5h0M309.8 715.9h0" stroke="#6a5aaa" stroke-width="1.2" stroke-linecap="square"/>
<path d="M219.8 754.0h0M218.6 755.5h0M226.3 751.2h0M218.8 756.6h0M216.6 748.2h0M220.2 751.7h0M221.6 751.1h0M217.7 752.4h0M218.7 751.1h0M223.0 756.5h0M223.0 755.1h0M221.0 760.4h0M220.8 749.7h0M219.4 750.2h0M221.4 749.0h0M211.8 760.3h0M224.4 757.3h0M219.8 755.4h0M222.0 754.4h0M212.7 750.8h0M224.6 749.3h0M217.8 748.3h0M212.2 758.4h0M220.6 751.5h0M218.1 747.9h0M225.0 759.0h0M217.3 761.7h0M217.6 746.2h0M224.0 756.0h0M222.2 759.2h0M219.5 750.5h0M223.4 757.8h0M211.9 753.9h0M212.3 752.2h0M223.4 747.4h0M224.0 750.8h0M218.3 745.9h0M211.5 758.6h0M220.6 753.0h0M211.7 753.5h0M214.5 757.3h0M216.0 761.1h0M217.8 760.7h0M211.8 755.9h0M226.8 753.0h0M214.7 751.8h0M219.2 759.1h0M226.6 754.3h0M213.1 757.8h0M220.9 756.2h0M224.8 759.9h0M222.2 756.8h0M220.9 756.8h0M215.0 755.4h0M220.9 749.7h0M213.1 748.1h0M217.7 756.9h0M213.8 746.8h0M211.2 747.6h0M210.9 752.7h0M228.6 753.2h0M211.3 749.0h0M221.5 752.6h0M218.5 758.4h0M219.3 751.9h0M211.0 749.8h0M217.7 757.4h0M215.5 757.2h0M225.2 760.2h0M228.6 753.3h0M222.3 753.3h0M216.6 755.2h0M213.4 753.2h0M217.8 757.4h0M221.9 746.9h0M218.3 756.0h0M223.1 747.2h0M211.6 753.0h0M211.8 759.0h0M213.2 758.0h0M216.7 745.8h0M213.3 752.3h0M214.7 758.7h0M209.4 749.7h0M219.6 749.9h0M219.5 745.9h0M211.2 747.7h0M214.9 756.9h0M213.2 758.0h0M222.1 749.9h0M225.5 751.2h0M207.5 753.8h0M222.3 755.3h0M217.6 756.0h0M214.6 758.0h0M208.1 752.1h0M208.8 750.3h0M227.6 750.7h0M217.1 756.0h0M213.0 760.1h0M213.3 751.3h0M225.5 751.6h0M210.2 758.6h0M222.2 761.0h0M218.6 759.4h0M221.7 753.6h0M212.0 759.2h0M223.3 753.6h0M210.3 759.4h0M215.7 762.2h0M226.3 752.0h0M213.8 751.9h0M226.4 748.9h0M220.4 749.9h0M215.8 758.0h0M217.7 752.2h0M213.8 752.4h0M218.7 750.2h0M226.6 752.2h0M225.7 754.6h0M216.8 751.4h0M227.1 751.1h0M221.3 752.5h0M222.6 757.3h0M215.3 753.2h0M223.0 752.2h0M221.5 758.0h0M223.4 753.1h0M223.5 750.6h0M226.0 749.7h0M217.5 761.7h0M213.0 748.3h0M225.1 755.7h0M215.6 751.4h0M212.3 747.8h0M225.6 754.9h0M221.0 746.3h0M220.1 750.5h0M211.5 755.8h0M212.3 751.5h0M216.2 757.0h0M214.9 754.4h0M225.3 750.3h0M227.0 756.0h0M215.1 746.6h0M222.1 746.3h0M227.7 757.1h0M212.4 758.9h0M217.0 752.6h0M221.9 754.4h0M220.7 751.3h0M222.0 757.1h0M214.4 760.1h0M221.3 753.0h0M223.6 754.6h0M226.7 752.5h0M225.5 759.6h0M218.7 747.9h0M216.1 752.3h0M228.3 753.6h0M219.5 757.2h0M213.7 750.6h0M223.4 760.0h0M222.1 760.3h0M214.6 751.9h0M216.6 746.1h0M219.4 749.3h0M216.1 745.7h0M212.0 760.3h0M215.6 750.8h0M218.5 757.1h0M212.1 748.2h0M209.8 756.4h0M220.9 759.5h0M217.9 753.8h0M213.4 758.2h0M214.6 746.4h0M222.7 747.4h0M218.8 757.6h0M211.4 756.5h0M225.1 752.9h0M219.8 754.8h0M220.1 753.7h0M221.2 759.9h0M218.9 751.3h0M214.2 753.8h0M221.9 749.9h0M224.0 757.3h0M219.8 755.9h0M211.6 747.3h0M222.8 753.4h0M226.6 752.3h0M215.2 751.4h0M226.5 758.1h0M213.2 747.2h0M209.9 756.7h0M217.3 761.7h0M219.4 748.3h0M213.9 760.4h0M221.2 756.6h0M222.7 753.2h0M216.7 751.1h0M228.0 751.5h0M209.7 753.6h0M218.3 749.6h0M224.1 753.8h0M228.0 753.4h0M209.9 751.0h0M213.6 747.9h0M220.8 751.3h0M224.4 752.6h0M211.2 759.3h0M210.2 748.2h0M220.2 760.5h0M222.1 751.6h0M225.7 749.4h0M208.6 754.9h0M225.9 756.6h0M212.9 753.1h0M215.1 748.6h0M222.0 756.3h0M212.4 754.3h0M224.6 747.4h0M219.3 747.2h0M217.6 754.6h0M215.6 750.8h0M213.2 757.3h0M226.9 756.5h0M215.6 750.6h0M221.5 748.9h0M216.5 755.3h0M216.9 746.4h0M223.6 755.2h0M209.4 750.7h0M226.0 751.3h0M213.5 757.8h0M217.6 751.9h0M208.7 750.6h0M214.4 758.4h0M228.4 754.8h0M225.7 757.8h0M214.3 751.9h0M214.8 759.4h0M215.4 756.5h0M217.9 753.9h0M221.4 757.0h0M214.5 755.1h0M226.4 754.5h0M216.4 752.0h0M217.7 751.6h0M214.4 761.6h0M209.8 750.7h0M208.6 757.4h0M211.8 757.3h0M214.1 749.7h0M211.2 751.5h0M219.0 757.0h0M210.9 754.2h0M225.3 757.0h0M218.6 751.1h0M213.1 748.3h0M228.5 755.4h0M214.5 746.0h0M211.1 752.7h0M212.3 752.6h0M223.7 747.0h0M226.3 751.4h0M225.3 749.8h0M216.9 756.3h0M225.9 757.9h0M216.1 756.9h0M226.4 751.9h0M220.0 747.4h0M219.5 756.4h0M221.3 754.7h0M227.0 757.2h0M219.2 748.2h0M210.3 759.8h0M211.6 751.8h0M224.5 751.2h0M218.0 753.7h0M211.2 756.9h0M213.6 756.6h0M214.6 749.2h0M211.6 757.6h0M209.5 749.4h0M220.2 752.4h0M220.7 749.3h0M213.0 759.6h0M227.8 755.6h0M224.5 755.0h0M212.8 759.5h0M216.4 754.2h0M217.4 745.5h0M210.5 751.3h0M224.8 752.6h0M224.6 758.1h0M216.0 751.6h0M216.5 750.4h0M220.5 760.6h0M210.6 749.9h0M220.7 758.2h0M220.2 756.6h0M214.2 755.8h0M214.8 762.0h0M223.1 748.7h0M225.3 750.6h0M210.7 751.6h0M214.8 758.3h0M224.0 751.4h0M213.0 755.7h0M215.6 757.5h0M226.5 749.1h0M217.9 749.4h0M218.0 755.9h0M224.7 750.0h0M209.9 758.9h0M210.3 750.0h0M218.5 761.0h0M221.4 750.6h0M213.6 755.0h0M225.5 748.5h0M217.4 759.9h0M214.3 747.8h0M214.6 752.8h0M223.7 755.3h0M210.9 757.0h0M207.8 755.1h0M226.7 753.4h0M208.9 752.4h0M208.3 752.8h0M217.5 757.9h0M218.7 754.3h0M224.3 750.0h0M224.2 759.0h0M223.5 757.7h0M223.7 755.1h0M224.2 750.4h0M221.1 760.1h0M219.4 749.1h0M210.2 755.0h0M220.3 751.8h0M218.2 755.4h0M216.9 759.2h0M214.6 761.6h0M223.0 759.1h0M209.2 750.8h0M223.9 759.5h0M215.9 756.1h0M224.9 758.7h0M208.5 755.8h0M223.1 749.4h0M214.5 752.0h0M210.8 750.6h0M223.7 746.8h0M211.7 752.1h0M221.7 746.2h0M210.0 748.6h0M217.7 758.8h0M216.6 757.8h0M215.1 758.4h0M222.2 755.8h0M212.1 752.6h0M222.3 751.0h0M222.0 760.9h0M222.9 759.6h0M224.6 759.8h0M220.5 759.1h0M220.8 758.7h0M217.4 753.1h0M218.9 759.4h0M211.6 751.1h0M214.8 746.8h0M210.4 758.6h0M218.9 752.8h0M220.9 745.7h0M212.9 748.1h0M224.4 750.1h0M216.3 761.1h0M221.8 753.1h0M219.1 751.8h0M214.3 749.0h0M219.9 752.7h0M217.2 762.4h0M214.9 761.3h0M222.6 755.3h0M220.8 746.5h0M228.6 754.1h0M224.9 750.5h0M225.2 752.5h0M226.6 748.7h0M226.7 748.7h0M227.1 752.7h0M229.9 751.5h0M226.8 752.8h0M228.4 753.2h0M228.6 751.5h0M228.1 750.5h0M227.0 753.2h0M225.5 751.8h0M225.4 749.0h0M224.1 752.6h0M227.0 751.4h0M227.6 750.6h0M223.4 751.9h0M226.6 749.7h0M227.4 751.1h0M226.2 753.6h0M230.4 752.7h0M227.5 753.0h0M223.4 750.1h0M227.3 750.3h0M228.8 751.9h0M229.9 750.1h0M229.6 752.3h0M222.7 752.4h0M227.8 748.7h0M227.8 748.5h0M229.4 751.8h0M227.5 752.7h0M227.3 749.9h0M227.4 751.0h0M228.0 749.0h0M228.5 750.7h0M228.7 750.1h0M226.8 750.5h0M229.5 750.3h0M225.7 749.8h0M226.5 752.7h0M227.4 749.1h0M229.2 749.1h0M229.0 752.2h0M223.6 751.0h0M228.1 751.0h0M225.1 749.2h0M224.5 754.2h0M228.1 752.1h0M223.5 749.8h0M223.6 750.2h0M223.9 753.5h0M226.2 753.2h0M223.0 751.5h0M229.4 750.8h0M224.6 750.0h0M220.8 747.5h0M220.0 747.5h0M222.1 747.5h0M220.0 746.7h0M217.8 743.7h0M215.6 745.9h0M219.2 746.1h0M222.8 745.2h0M222.7 748.2h0M221.1 745.1h0M217.9 744.0h0M222.2 745.8h0M217.3 748.9h0M217.7 745.7h0M217.2 748.9h0M218.8 743.7h0M220.2 747.5h0M221.0 749.7h0M222.6 745.9h0M219.2 749.3h0M219.5 747.3h0M220.2 745.8h0M220.5 747.7h0M217.7 744.3h0M218.9 749.9h0M216.2 749.0h0M222.2 745.3h0M222.3 746.9h0M220.6 749.9h0M218.4 749.0h0M219.7 746.6h0M216.2 746.8h0M216.0 746.7h0M218.1 748.3h0M220.9 747.0h0M221.3 744.8h0M217.0 748.5h0M217.3 748.9h0M220.5 745.8h0M218.0 744.7h0M216.4 744.6h0M216.5 748.4h0M220.2 750.0h0M217.3 745.8h0M219.4 748.3h0M221.7 745.7h0M219.7 745.6h0M218.2 747.8h0M215.8 748.4h0M218.5 747.6h0M219.8 745.7h0M217.4 744.8h0M220.7 746.3h0M218.9 747.7h0M222.8 745.3h0M219.4 745.3h0M220.6 748.4h0M209.3 756.4h0M208.3 757.1h0M203.9 755.9h0M208.7 755.1h0M208.8 755.5h0M209.9 755.1h0M207.5 752.5h0M208.7 753.9h0M205.6 757.7h0M204.9 755.5h0M207.8 755.2h0M207.4 753.4h0M208.3 754.3h0M203.0 755.6h0M207.9 756.5h0M209.5 754.8h0M207.2 753.1h0M206.4 756.5h0M208.9 752.8h0M206.3 757.4h0M203.4 753.7h0M206.4 755.1h0M208.4 754.6h0M208.0 756.0h0M206.5 752.1h0M206.2 756.4h0M204.0 753.0h0M209.7 756.3h0M208.1 755.2h0M206.7 753.1h0M206.7 755.9h0M206.1 754.6h0M202.9 755.3h0M206.8 757.6h0M207.2 755.2h0M204.2 754.7h0M205.4 756.8h0M208.4 756.1h0M204.7 756.2h0M206.4 755.8h0M203.1 756.2h0M204.2 756.5h0M208.3 753.8h0M204.7 753.4h0M204.6 754.9h0M206.6 755.9h0M209.7 755.3h0M205.6 755.6h0M210.2 754.9h0M204.1 755.7h0" stroke="#2a58a8" stroke-width="1.2" stroke-linecap="square"/>
<path d="M254.5 742.3h0M248.7 753.0h0M245.7 751.4h0M257.7 754.2h0M258.1 743.0h0M248.9 742.2h0M259.9 751.1h0M251.6 753.4h0M246.0 749.1h0M251.4 748.9h0M254.9 752.2h0M249.1 743.3h0M259.0 750.8h0M244.8 747.9h0M253.0 746.6h0M255.2 747.6h0M255.8 747.7h0M258.4 742.8h0M250.4 753.0h0M249.1 742.5h0M252.3 743.5h0M259.2 745.0h0M244.1 747.7h0M253.9 750.3h0M254.4 747.0h0M250.6 755.5h0M259.2 751.4h0M252.9 752.5h0M254.2 749.5h0M255.2 746.4h0M263.0 746.0h0M246.0 749.8h0M244.8 750.7h0M245.2 748.7h0M261.9 747.9h0M252.2 757.9h0M254.0 741.9h0M258.9 753.6h0M257.7 753.0h0M257.4 755.9h0M252.7 744.1h0M255.6 751.4h0M256.3 754.0h0M258.9 751.5h0M248.5 745.6h0M255.0 747.1h0M253.0 741.1h0M260.7 746.4h0M260.3 743.4h0M262.2 754.1h0M245.3 752.4h0M247.5 753.5h0M259.2 749.1h0M253.1 747.4h0M258.6 756.0h0M259.8 753.9h0M263.1 752.6h0M253.0 750.2h0M252.6 746.6h0M254.7 749.7h0M262.2 746.7h0M250.0 748.8h0M246.5 754.8h0M262.1 749.9h0M252.2 752.8h0M254.4 756.0h0M254.9 757.1h0M261.0 747.1h0M257.5 754.4h0M255.5 746.5h0M255.7 742.0h0M260.3 751.9h0M247.7 748.5h0M258.0 742.8h0M262.8 746.3h0M257.4 755.5h0M261.5 744.3h0M244.4 749.6h0M249.6 742.3h0M256.7 757.4h0M246.7 753.9h0M246.0 749.5h0M261.6 743.8h0M261.6 745.7h0M254.5 746.2h0M249.5 750.9h0M244.5 746.9h0M262.0 755.3h0M257.1 756.4h0M255.2 746.1h0M255.3 756.5h0M260.1 753.4h0M243.9 749.2h0M251.7 752.6h0M253.4 742.2h0M260.4 752.0h0M251.8 742.2h0M255.2 749.3h0M260.7 747.9h0M247.9 754.4h0M247.0 753.0h0M248.8 754.6h0M263.9 750.0h0M251.3 749.1h0M251.3 746.1h0M255.1 742.8h0M247.6 750.9h0M248.4 752.9h0M251.0 749.6h0M260.4 748.7h0M259.0 744.1h0M248.9 748.5h0M252.0 746.7h0M249.5 741.7h0M255.7 746.8h0M249.5 753.0h0M260.1 748.1h0M251.2 752.0h0M259.3 744.9h0M258.7 752.4h0M256.4 756.3h0M246.0 745.0h0M257.0 753.8h0M247.4 745.4h0M253.6 749.2h0M249.1 751.3h0M260.3 756.0h0M259.1 750.3h0M245.3 750.9h0M247.5 753.2h0M256.4 749.7h0M246.7 752.3h0M246.6 750.3h0M246.8 747.5h0M251.2 756.5h0M253.9 754.8h0M248.5 745.2h0M252.0 750.9h0M244.9 749.2h0M257.1 741.9h0M259.2 753.5h0M252.5 755.4h0M259.5 748.0h0M247.9 753.7h0M255.2 747.2h0M247.5 755.0h0M249.2 748.8h0M250.4 756.9h0M258.1 755.8h0M257.4 741.8h0M252.3 752.7h0M259.4 742.0h0M255.9 752.3h0M248.1 751.1h0M252.2 756.3h0M262.8 752.8h0M257.3 755.5h0M254.0 756.0h0M254.1 749.6h0M259.6 745.1h0M257.1 756.4h0M260.8 751.2h0M250.4 744.1h0M254.7 756.4h0M244.9 751.0h0M254.0 747.1h0M248.2 757.0h0M254.4 752.9h0M262.9 747.7h0M255.8 748.8h0M256.0 756.8h0M252.4 742.1h0M247.7 753.6h0M259.4 744.7h0M253.4 748.9h0M259.9 748.7h0M252.1 756.0h0M254.6 746.1h0M247.3 752.1h0M259.9 742.3h0M247.2 752.4h0M247.2 749.6h0M253.9 748.7h0M259.1 753.7h0M247.1 753.3h0M257.1 750.3h0M254.1 744.1h0M256.6 747.9h0M255.3 758.2h0M250.8 758.1h0M259.4 754.7h0M260.8 751.3h0M249.0 742.1h0M244.8 746.6h0M256.6 744.9h0M253.6 751.1h0M259.8 755.8h0M261.4 755.4h0M249.1 746.0h0M248.7 750.4h0M250.5 751.3h0M257.8 748.4h0M249.7 746.6h0M255.8 756.5h0M250.6 744.9h0M261.0 750.8h0M248.0 750.4h0M246.0 747.8h0M250.5 755.7h0M249.6 746.8h0M261.8 754.3h0M254.6 753.6h0M263.4 750.0h0M259.2 748.8h0M253.5 745.8h0M258.8 756.7h0M255.8 748.6h0M253.8 744.3h0M248.6 742.4h0M256.2 748.8h0M252.7 743.9h0M261.3 746.4h0M249.6 745.3h0M259.1 756.2h0M246.9 748.3h0M254.2 754.7h0M250.5 756.2h0M250.4 748.6h0M249.5 747.3h0M251.7 745.1h0M252.8 745.1h0M245.6 754.6h0M251.3 754.3h0M256.1 750.7h0M253.1 751.2h0M255.3 748.4h0M253.1 752.0h0M249.0 751.2h0M245.3 751.1h0M250.3 745.8h0M258.3 754.1h0M245.5 748.3h0M253.8 747.0h0M255.8 744.0h0M250.8 753.3h0M256.7 743.5h0M255.7 754.0h0M257.6 747.5h0M250.6 755.0h0M249.7 748.9h0M257.3 752.4h0M262.0 753.6h0M252.3 745.9h0M248.0 742.9h0M260.5 749.0h0M260.8 751.1h0M250.2 748.9h0M256.1 748.6h0M256.0 743.9h0M253.3 749.8h0M257.2 744.7h0M253.2 751.5h0M256.9 754.9h0M252.2 754.3h0M248.8 742.4h0M253.2 743.7h0M256.6 743.9h0M260.2 753.6h0M259.1 753.2h0M248.9 750.3h0M258.9 745.2h0M253.5 744.0h0M251.3 752.0h0M256.9 743.4h0M259.1 751.6h0M255.7 754.9h0M247.6 746.2h0M260.2 745.2h0M244.9 753.5h0M249.8 755.5h0M246.0 746.1h0M252.9 747.2h0M246.8 748.4h0M246.5 750.5h0M249.5 748.9h0M261.9 746.6h0M258.5 756.1h0M248.0 748.3h0M244.4 748.5h0M256.6 753.7h0M252.4 758.3h0M255.0 745.1h0M254.2 741.2h0M249.9 743.1h0M248.4 746.9h0M245.2 746.6h0M258.4 742.2h0M250.0 756.3h0M249.9 754.8h0M262.4 747.1h0M255.2 748.2h0M258.2 754.2h0M246.6 745.9h0M246.6 744.3h0M259.4 743.0h0M256.4 745.5h0M246.3 747.9h0M259.7 746.5h0M255.0 750.1h0M250.5 755.6h0M251.0 758.1h0M262.3 746.1h0M256.4 742.0h0M256.0 755.6h0M259.2 745.2h0M248.5 753.7h0M261.6 753.5h0M251.3 746.8h0M245.3 749.6h0M255.9 747.5h0M258.3 751.7h0M261.1 749.2h0M249.2 748.6h0M260.7 746.4h0M255.1 749.0h0M256.4 742.8h0M260.4 743.6h0M245.6 746.1h0M257.4 744.7h0M248.8 747.3h0M259.8 756.3h0M261.0 746.6h0M255.7 757.5h0M262.0 754.0h0M251.4 755.4h0M254.1 742.0h0M245.5 751.4h0M255.1 742.5h0M256.9 756.5h0M262.8 750.7h0M257.5 752.6h0M253.4 749.3h0M261.2 748.1h0M260.3 742.6h0M251.2 756.3h0M252.8 752.3h0M253.8 748.1h0M260.9 752.0h0M258.3 742.6h0M259.4 743.8h0M259.5 751.0h0M258.0 746.5h0M253.1 746.0h0M259.3 751.8h0M251.1 742.2h0M248.0 749.8h0M246.1 754.6h0M261.5 753.2h0M246.3 749.3h0M250.1 748.1h0M254.5 756.6h0M251.8 743.0h0M244.3 747.2h0M263.4 748.5h0M248.7 751.9h0M260.5 748.1h0M254.3 756.8h0M260.1 743.5h0M254.6 755.7h0M256.4 754.3h0M256.2 747.9h0M252.6 754.9h0M253.3 748.3h0M258.8 754.3h0M254.5 755.7h0M244.9 751.9h0M247.9 748.1h0M254.7 744.5h0M263.9 750.0h0M252.1 755.7h0M250.6 752.6h0M261.9 752.8h0M252.7 750.4h0M262.3 755.2h0M244.3 751.8h0M251.2 746.9h0M245.1 747.9h0M259.6 747.0h0M253.1 758.5h0M255.8 749.4h0M250.5 744.1h0M260.2 755.3h0M261.4 757.1h0M256.4 756.9h0M258.5 755.3h0M257.6 753.2h0M257.0 756.1h0M257.1 754.1h0M260.9 752.1h0M257.1 754.1h0M262.5 756.0h0M259.6 758.4h0M263.0 753.7h0M257.4 753.3h0M261.5 755.4h0M256.3 755.2h0M259.2 758.0h0M257.8 755.9h0M258.1 758.4h0M262.4 757.2h0M261.5 752.7h0M256.1 754.6h0M261.6 757.2h0M256.2 756.3h0M263.7 755.8h0M261.1 752.1h0M263.3 755.0h0M260.0 752.1h0M261.3 752.6h0M259.9 754.7h0M259.2 756.8h0M256.9 755.3h0M262.4 756.3h0M257.2 754.6h0M259.7 751.9h0M260.1 757.0h0M256.9 757.1h0M256.3 756.3h0M262.6 757.0h0M257.3 753.6h0M262.8 757.6h0M261.1 758.3h0M262.6 752.9h0M260.3 756.5h0M261.2 756.7h0M260.2 755.9h0M259.5 758.2h0M261.6 758.2h0M262.3 753.7h0M259.4 753.3h0M259.5 755.4h0M259.8 754.4h0M262.9 756.3h0M258.4 752.4h0M259.4 757.9h0M261.1 757.1h0M260.5 752.2h0M259.2 754.7h0M244.6 749.8h0M244.5 749.5h0M245.5 747.9h0M242.5 751.1h0M245.3 748.1h0M245.4 747.0h0M247.6 748.5h0M246.0 751.9h0M248.0 751.7h0M245.1 751.8h0M245.0 752.3h0M248.0 748.7h0M246.1 752.7h0M248.4 752.5h0M247.2 751.0h0M243.6 752.1h0M244.8 749.0h0M244.0 750.7h0M242.8 752.2h0M247.4 753.5h0M246.0 751.0h0M242.6 748.8h0M245.8 753.8h0M244.3 751.2h0M243.9 749.8h0M248.5 749.8h0M248.3 750.7h0M245.0 750.1h0M247.2 751.5h0M243.7 753.2h0M246.2 750.4h0M242.5 751.2h0M248.5 752.1h0M248.2 751.0h0M246.2 751.5h0M243.1 750.0h0M248.3 751.2h0M248.0 748.6h0M243.8 750.6h0M249.1 751.0h0M244.0 753.6h0M246.0 747.5h0M246.6 747.1h0M246.8 751.4h0M246.9 747.3h0M245.2 750.6h0M245.4 752.2h0M249.3 751.7h0M247.1 747.8h0M244.6 753.5h0M246.9 749.6h0M247.5 752.7h0M247.9 750.7h0M246.2 753.1h0M245.6 749.2h0M245.1 747.1h0M245.1 747.9h0" stroke="#aaa21a" stroke-width="1.2" stroke-linecap="square"/>
<path d="M279.7 747.9h0M285.6 736.6h0M287.1 746.7h0M284.5 744.3h0M279.1 738.0h0M292.6 745.5h0M280.5 741.8h0M273.1 742.9h0M283.0 740.4h0M287.1 740.9h0M293.3 739.2h0M278.0 745.6h0M284.8 742.2h0M290.1 744.9h0M292.1 746.2h0M272.4 739.7h0M292.0 745.1h0M276.4 740.2h0M283.6 737.6h0M276.8 738.0h0M276.6 744.0h0M273.5 744.5h0M292.7 740.7h0M288.7 745.0h0M294.4 741.4h0M277.6 741.4h0M281.9 741.7h0M283.3 736.5h0M277.0 735.1h0M286.7 741.1h0M289.1 742.2h0M285.5 739.3h0M281.4 741.9h0M275.2 745.1h0M284.3 734.1h0M284.6 734.0h0M286.0 747.0h0M282.8 739.0h0M285.4 745.3h0M284.3 746.8h0M277.6 741.2h0M285.1 741.0h0M286.1 744.2h0M290.3 740.4h0M282.6 744.4h0M283.1 740.8h0M287.3 742.5h0M283.0 736.2h0M287.1 740.4h0M294.3 742.1h0M288.2 741.4h0M283.8 743.0h0M291.4 742.0h0M283.3 745.3h0M281.7 736.9h0M283.5 743.7h0M291.4 741.6h0M274.1 738.5h0M287.0 741.4h0M290.9 746.0h0M294.6 742.5h0M287.4 737.7h0M283.5 735.5h0M285.0 739.1h0M272.0 741.7h0M282.9 735.7h0M273.3 740.1h0M281.9 735.0h0M278.2 738.3h0M273.8 739.7h0M279.7 748.6h0M294.1 739.2h0M288.9 737.3h0M277.8 741.9h0M283.4 742.9h0M292.5 738.2h0M291.3 740.5h0M281.1 738.1h0M285.7 742.8h0M289.1 735.0h0M286.1 742.4h0M287.9 738.7h0M278.9 736.7h0M279.5 744.1h0M273.2 741.3h0M289.3 740.5h0M287.9 740.9h0M282.6 748.4h0M290.0 741.7h0M280.9 744.5h0M281.8 742.0h0M278.4 748.1h0M279.0 739.2h0M274.9 738.3h0M288.1 737.7h0M284.7 742.6h0M287.0 742.3h0M290.5 737.1h0M286.9 735.5h0M280.3 740.9h0M272.1 741.1h0M278.6 737.1h0M275.0 737.6h0M287.3 740.9h0M286.4 739.8h0M275.5 740.4h0M288.4 743.0h0M281.5 743.7h0M284.9 748.6h0M280.2 739.1h0M279.0 748.3h0M285.3 748.9h0M289.2 741.8h0M285.0 743.2h0M284.8 734.0h0M277.3 740.1h0M274.2 739.5h0M291.7 739.2h0M285.9 734.1h0M282.6 742.1h0M277.7 735.2h0M284.6 742.2h0M279.0 742.0h0M290.2 743.0h0M286.3 741.7h0M275.7 739.4h0M281.7 741.7h0M281.6 735.0h0M288.5 748.2h0M290.2 746.0h0M289.8 739.2h0M281.1 743.4h0M280.1 738.4h0M276.6 740.5h0M276.0 741.5h0M283.3 738.0h0M287.7 734.8h0M291.9 738.0h0M279.6 747.3h0M289.3 740.7h0M285.1 743.8h0M272.5 744.2h0M286.9 738.2h0M284.0 740.5h0M278.7 738.5h0M291.3 741.6h0M282.9 735.5h0M286.1 747.6h0M279.2 741.5h0M284.1 746.9h0M276.3 743.8h0M279.6 742.9h0M292.6 739.0h0M283.3 738.9h0M272.3 743.3h0M274.2 746.1h0M272.6 741.0h0M281.3 737.1h0M277.6 746.5h0M279.9 743.0h0M291.2 746.9h0M292.0 739.8h0M272.4 744.1h0M287.8 737.5h0M286.8 738.5h0M277.8 737.8h0M287.8 736.1h0M275.2 738.6h0M282.1 742.3h0M286.7 741.0h0M275.3 741.1h0M277.3 741.8h0M286.5 744.1h0M290.2 736.3h0M281.1 745.1h0M274.6 744.5h0M280.3 743.3h0M285.6 742.7h0M285.2 736.7h0M283.1 747.9h0M279.2 744.8h0M279.3 740.1h0M292.4 740.3h0M282.3 745.2h0M287.5 735.4h0M291.1 745.2h0M278.5 741.5h0M275.4 739.7h0M282.9 741.5h0M280.7 738.4h0M284.8 747.5h0M285.2 736.3h0M290.1 736.3h0M282.0 736.1h0M281.5 748.1h0M272.0 739.7h0M274.4 745.4h0M293.9 742.2h0M288.0 734.4h0M285.1 743.9h0M287.7 738.6h0M280.1 738.2h0M284.8 738.5h0M285.7 739.6h0M278.3 743.7h0M283.0 736.0h0M294.6 741.6h0M280.0 741.4h0M281.9 734.4h0M274.6 746.4h0M284.0 743.0h0M282.2 739.3h0M273.3 743.7h0M275.3 736.3h0M286.3 742.0h0M281.5 748.7h0M286.1 748.5h0M279.8 741.8h0M290.8 745.3h0M283.2 735.7h0M274.3 742.7h0M274.5 744.8h0M290.5 745.0h0M274.7 746.2h0M284.0 734.0h0M279.7 736.0h0M283.3 739.9h0M280.0 741.3h0M276.9 735.8h0M276.4 736.2h0M280.1 745.3h0M286.9 741.5h0M285.3 746.1h0M284.7 746.7h0M282.9 740.5h0M290.8 738.8h0M278.5 735.2h0M282.8 741.4h0M288.3 745.2h0M283.9 735.1h0M272.2 742.9h0M284.6 742.1h0M282.0 739.3h0M274.7 736.4h0M289.5 747.3h0M278.5 735.0h0M273.4 737.4h0M283.2 746.6h0M286.8 743.6h0M280.6 744.3h0M276.4 742.9h0M290.5 735.9h0M293.6 741.7h0M274.3 739.6h0M281.9 737.1h0M276.8 747.1h0M282.1 741.4h0M277.9 736.4h0M280.5 747.9h0M290.5 746.7h0M287.5 740.8h0M286.4 737.3h0M294.6 743.2h0M275.2 737.4h0M273.2 739.2h0M282.7 747.5h0M293.6 742.2h0M280.6 737.4h0M274.5 743.8h0M283.6 748.4h0M289.1 739.1h0M283.2 734.3h0M287.2 744.6h0M282.4 734.5h0M291.6 737.2h0M282.8 741.6h0M287.8 739.9h0M275.7 747.1h0M292.2 739.7h0M284.5 734.3h0M289.2 747.2h0M280.5 735.4h0M275.4 736.6h0M278.1 739.6h0M288.2 737.3h0M283.5 742.0h0M291.8 738.0h0M274.9 737.4h0M285.7 737.7h0M283.8 744.0h0M281.4 742.7h0M276.7 742.1h0M286.3 736.2h0M278.8 743.9h0M282.1 738.0h0M277.7 735.0h0M286.7 738.8h0M280.3 740.8h0M278.5 747.5h0M287.5 738.8h0M277.7 741.4h0M291.2 741.2h0M287.0 736.2h0M273.1 744.8h0M281.0 744.6h0M278.1 747.0h0M286.3 740.2h0M280.6 740.9h0M275.8 743.0h0M284.7 739.0h0M274.9 737.8h0M280.0 741.4h0M280.6 743.5h0M288.9 736.7h0M284.1 734.6h0M278.3 742.2h0M280.2 743.2h0M285.0 736.7h0M282.4 733.8h0M284.3 736.7h0M279.4 742.0h0M278.6 745.2h0M288.1 741.9h0M286.9 737.0h0M276.6 746.6h0M283.5 736.3h0M293.3 741.2h0M273.6 742.2h0M284.9 746.4h0M281.5 744.6h0M287.9 741.7h0M273.5 743.8h0M287.6 737.0h0M279.9 745.9h0M284.2 742.7h0M277.4 739.8h0M284.2 736.9h0M271.9 740.1h0M286.9 739.5h0M277.3 741.0h0M290.2 742.7h0M283.3 742.0h0M279.4 737.7h0M285.4 746.3h0M293.0 744.3h0M285.0 745.5h0M281.6 734.0h0M277.4 744.2h0M289.0 745.8h0M285.0 746.7h0M281.4 734.6h0M277.7 738.5h0M282.5 740.4h0M282.4 748.7h0M276.4 740.7h0M281.4 738.7h0M279.8 735.1h0M284.3 737.8h0M282.4 742.2h0M272.8 740.3h0M284.4 736.4h0M274.5 738.4h0M289.4 740.3h0M287.8 737.6h0M283.3 742.0h0M286.6 747.1h0M280.0 745.8h0M282.6 736.2h0M289.2 737.9h0M280.4 744.5h0M280.7 742.1h0M282.8 740.4h0M287.3 736.7h0M286.1 743.8h0M285.1 745.9h0M286.4 736.3h0M290.2 736.4h0M290.0 735.6h0M291.5 737.5h0M290.5 733.6h0M286.5 734.3h0M284.9 734.1h0M289.8 736.7h0M288.7 734.8h0M290.4 734.7h0M287.4 738.6h0M285.6 737.2h0M290.3 736.2h0M290.7 737.1h0M286.6 735.3h0M289.6 735.0h0M290.3 736.2h0M284.6 737.5h0M285.3 735.0h0M292.1 737.6h0M288.0 738.4h0M287.9 738.6h0M291.5 736.8h0M290.5 734.5h0M291.3 734.2h0M292.0 734.7h0M292.2 737.3h0M284.6 736.8h0M291.3 734.4h0M290.7 735.4h0M289.0 737.2h0M289.4 734.9h0M290.8 735.0h0M288.6 736.9h0M289.0 734.8h0M287.8 737.9h0M292.7 735.6h0M290.5 736.0h0M284.8 735.0h0M288.5 734.3h0M292.3 737.0h0M285.7 734.4h0M291.0 735.8h0M287.7 734.6h0M287.1 735.3h0M287.0 733.1h0M285.0 736.1h0M292.1 737.4h0M290.5 737.2h0M287.8 736.5h0M291.8 735.6h0M286.9 736.4h0M285.7 736.8h0M286.3 737.0h0M290.4 738.4h0M272.6 742.1h0M272.1 738.5h0M274.1 737.0h0M277.9 739.7h0M270.7 739.2h0M274.0 739.5h0M274.0 736.4h0M274.2 736.6h0M275.0 739.4h0M277.9 739.5h0M277.6 741.1h0M276.0 737.4h0M276.1 741.6h0M277.4 737.8h0M278.1 738.4h0M274.1 739.9h0M273.9 741.6h0M276.2 739.6h0M276.2 738.3h0M274.8 740.6h0M275.9 739.4h0M273.5 739.8h0M275.7 736.7h0M275.0 737.7h0M275.6 739.2h0M275.7 738.4h0M272.7 740.8h0M273.2 736.6h0M274.5 741.2h0M270.7 739.3h0M270.6 738.4h0M274.6 740.6h0M274.4 738.0h0M276.3 741.7h0M272.6 740.1h0M273.7 739.4h0M271.5 738.9h0M274.0 737.1h0M273.1 738.5h0M276.1 737.0h0M274.1 738.4h0M274.9 738.8h0M274.8 736.8h0M270.7 741.1h0M271.4 737.8h0M275.6 739.0h0M274.2 741.4h0M275.1 741.3h0M273.1 741.0h0M276.4 741.7h0M271.5 740.8h0M276.5 737.6h0M270.1 738.2h0M271.6 741.8h0M275.4 739.9h0" stroke="#5aa0a2" stroke-width="1.2" stroke-linecap="square"/>
<path d="M328.1 745.2h0M331.5 749.2h0M331.2 748.7h0M340.9 741.7h0M329.4 748.1h0M326.3 739.5h0M335.3 742.3h0M339.6 748.5h0M327.0 737.3h0M323.4 746.3h0M330.6 743.1h0M326.4 742.9h0M330.0 738.7h0M329.1 751.2h0M329.8 747.2h0M329.7 742.5h0M326.4 737.5h0M326.4 747.3h0M329.1 750.4h0M336.2 748.5h0M334.8 746.2h0M335.0 739.6h0M319.6 746.7h0M326.4 744.7h0M318.7 745.7h0M323.1 748.7h0M333.2 742.0h0M337.6 747.1h0M328.9 740.6h0M332.3 740.2h0M340.1 741.3h0M321.8 740.6h0M336.6 743.3h0M322.5 742.7h0M321.8 746.6h0M332.8 741.3h0M331.8 747.4h0M334.8 749.1h0M324.0 742.6h0M324.6 748.7h0M336.7 745.6h0M328.4 738.1h0M336.2 743.2h0M335.3 741.3h0M319.8 744.0h0M329.6 738.7h0M334.6 739.3h0M336.8 743.4h0M320.5 746.7h0M337.5 749.1h0M338.7 744.7h0M327.3 745.6h0M326.5 742.6h0M328.6 747.2h0M332.5 737.1h0M330.2 742.2h0M326.5 742.6h0M333.0 746.6h0M324.3 749.4h0M323.7 743.2h0M333.7 737.0h0M321.8 747.8h0M338.2 743.8h0M325.8 743.1h0M331.1 737.0h0M328.4 742.5h0M340.5 741.8h0M330.6 747.8h0M328.3 749.6h0M321.5 740.4h0M322.8 740.4h0M321.8 748.4h0M326.6 745.0h0M325.7 746.3h0M333.7 740.4h0M336.7 737.8h0M327.2 746.5h0M340.5 746.9h0M329.6 743.4h0M330.7 745.9h0M330.2 742.1h0M331.7 748.5h0M333.2 749.7h0M334.5 747.0h0M327.3 744.6h0M324.4 741.6h0M332.7 744.2h0M341.8 742.5h0M335.5 748.1h0M337.5 745.2h0M321.0 748.4h0M330.3 737.2h0M341.7 746.7h0M335.4 740.8h0M332.1 749.4h0M331.3 743.9h0M325.6 742.6h0M333.1 747.4h0M339.6 747.8h0M324.4 738.2h0M328.0 741.3h0M333.8 741.8h0M329.5 744.5h0M339.0 741.8h0M329.7 746.1h0M326.7 745.1h0M331.5 746.1h0M323.7 750.0h0M327.7 751.2h0M332.0 746.9h0M319.2 745.5h0M322.4 743.4h0M320.2 747.6h0M341.4 745.5h0M331.9 747.6h0M327.9 749.8h0M336.2 745.2h0M327.9 744.9h0M327.2 747.8h0M322.7 743.7h0M341.4 744.0h0M321.1 744.3h0M332.8 747.8h0M335.1 750.6h0M329.2 747.3h0M326.7 750.3h0M337.7 746.5h0M331.7 748.3h0M332.5 737.5h0M323.2 744.1h0M330.1 749.7h0M334.9 744.1h0M337.8 739.4h0M326.7 746.6h0M332.6 742.0h0M328.4 743.6h0M328.6 741.4h0M320.2 743.5h0M329.4 750.1h0M330.9 744.1h0M326.0 748.5h0M324.5 750.2h0M318.7 744.9h0M333.7 748.2h0M329.2 748.1h0M329.3 743.7h0M333.1 738.7h0M332.0 749.4h0M329.8 748.9h0M326.7 750.7h0M323.6 739.2h0M328.3 748.9h0M338.6 742.6h0M329.1 749.0h0M324.8 746.8h0M322.8 742.8h0M323.9 738.4h0M334.6 741.6h0M323.5 746.7h0M327.3 740.0h0M331.3 749.6h0M334.7 737.1h0M339.2 746.6h0M332.7 742.8h0M324.5 747.9h0M328.9 743.4h0M337.7 745.9h0M334.4 742.8h0M331.0 743.6h0M323.8 743.7h0M327.3 738.4h0M334.2 740.2h0M329.0 747.5h0M320.8 747.9h0M341.6 745.6h0M331.2 747.6h0M329.6 748.8h0M325.2 743.9h0M322.8 747.7h0M329.6 743.3h0M322.2 747.7h0M333.3 742.6h0M334.8 742.9h0M333.4 748.4h0M337.6 738.4h0M323.8 738.9h0M322.5 739.7h0M321.3 745.9h0M325.6 745.5h0M331.0 737.9h0M331.2 742.8h0M325.4 744.7h0M325.0 746.1h0M334.3 738.3h0M326.5 737.5h0M322.3 744.0h0M322.1 747.9h0M325.6 751.1h0M329.7 744.9h0M327.4 740.6h0M337.5 749.4h0M329.5 742.6h0M325.1 739.6h0M331.4 737.5h0M323.3 742.8h0M330.1 743.0h0M326.7 746.0h0M333.0 744.8h0M331.1 738.5h0M341.5 742.4h0M335.3 744.4h0M333.7 738.8h0M331.3 738.9h0M323.1 740.0h0M322.5 741.9h0M332.4 746.1h0M336.1 749.3h0M340.7 742.7h0M331.2 740.7h0M339.1 747.6h0M338.0 741.6h0M333.2 740.5h0M329.8 748.7h0M329.9 745.2h0M328.6 738.5h0M326.7 738.5h0M333.5 743.8h0M332.0 736.7h0M326.5 751.3h0M329.3 743.6h0M328.3 750.6h0M324.6 741.1h0M337.4 744.9h0M334.4 749.4h0M333.7 739.7h0M336.2 744.1h0M326.9 742.3h0M335.8 744.1h0M339.2 740.7h0M328.5 750.7h0M334.2 738.3h0M332.4 738.0h0M331.7 742.4h0M329.8 741.8h0M319.4 745.4h0M339.9 744.3h0M336.1 743.0h0M331.0 746.4h0M336.7 740.5h0M337.2 739.1h0M333.5 743.1h0M327.1 741.2h0M332.0 736.9h0M324.1 738.0h0M328.5 742.4h0M342.1 744.2h0M331.0 741.8h0M339.0 746.0h0M335.6 749.0h0M341.3 746.0h0M332.8 749.2h0M322.2 742.8h0M339.9 739.6h0M334.5 745.2h0M333.1 746.4h0M338.6 742.3h0M324.3 738.7h0M335.9 738.1h0M325.0 750.7h0M329.7 743.4h0M335.4 748.3h0M324.5 742.1h0M321.7 741.7h0M324.5 744.9h0M338.1 746.6h0M322.3 746.8h0M337.4 747.8h0M339.2 739.8h0M334.2 748.6h0M329.4 744.6h0M334.3 744.6h0M339.7 744.7h0M321.3 745.7h0M334.5 736.9h0M321.8 747.0h0M334.9 741.5h0M332.5 750.7h0M323.3 748.2h0M326.2 740.8h0M319.6 743.2h0M329.7 744.1h0M334.8 749.9h0M327.7 750.0h0M327.0 740.8h0M326.5 740.4h0M329.3 744.6h0M340.2 748.0h0M338.0 742.8h0M330.4 747.1h0M337.9 741.1h0M321.4 747.9h0M328.8 740.7h0M322.9 748.7h0M342.0 744.1h0M328.5 748.4h0M337.4 749.0h0M329.6 742.9h0M324.3 749.1h0M323.0 746.5h0M338.0 746.7h0M323.9 745.7h0M339.6 741.9h0M341.5 742.8h0M333.2 740.8h0M336.4 740.4h0M334.5 747.5h0M328.8 739.3h0M321.9 744.2h0M328.7 750.4h0M320.1 748.2h0M335.7 743.3h0M337.6 745.2h0M320.1 745.6h0M337.7 743.2h0M327.0 742.8h0M322.6 741.4h0M318.9 744.8h0M339.1 739.4h0M332.0 745.2h0M330.0 749.9h0M327.0 746.0h0M322.5 747.2h0M337.9 744.4h0M337.5 746.3h0M338.6 741.7h0M335.5 750.5h0M321.8 749.4h0M340.3 740.1h0M328.0 741.8h0M338.3 741.1h0M338.7 742.4h0M332.6 750.5h0M329.3 737.1h0M323.6 747.2h0M328.5 739.3h0M334.8 750.8h0M324.7 745.7h0M330.6 749.5h0M341.6 746.3h0M334.4 737.4h0M331.7 742.2h0M333.0 749.2h0M334.3 750.2h0M340.8 748.0h0M329.0 744.7h0M335.3 741.8h0M341.8 746.4h0M326.7 737.1h0M336.0 748.8h0M330.3 742.4h0M333.1 737.8h0M324.5 738.2h0M337.4 739.4h0M325.6 742.8h0M334.1 746.3h0M333.5 739.3h0M335.9 749.0h0M326.6 743.4h0M323.1 741.1h0M323.6 738.6h0M327.1 746.0h0M333.0 736.9h0M338.0 749.6h0M324.7 750.7h0M328.9 742.8h0M333.1 747.9h0M331.4 749.7h0M322.8 744.6h0M322.1 739.8h0M326.2 741.6h0M336.5 741.5h0M338.1 741.3h0M340.9 743.1h0M341.0 740.5h0M342.2 745.7h0M324.5 748.0h0M332.7 742.7h0M327.4 741.1h0M337.6 742.2h0M327.5 745.3h0M316.2 741.8h0M322.8 745.2h0M323.7 741.8h0M321.0 740.3h0M322.8 743.1h0M323.5 742.3h0M321.8 743.9h0M320.6 743.8h0M321.7 745.3h0M319.2 744.8h0M323.7 743.2h0M316.6 743.1h0M324.6 744.4h0M319.1 744.2h0M323.5 744.2h0M318.0 740.6h0M322.1 744.4h0M317.3 741.2h0M319.4 742.6h0M321.5 745.0h0M320.6 743.6h0M319.8 744.3h0M319.1 745.9h0M319.9 745.0h0M320.4 743.0h0M320.0 745.0h0M316.1 744.1h0M318.9 743.6h0M321.1 746.0h0M324.3 741.8h0M319.3 741.1h0M318.6 745.4h0M317.2 741.4h0M317.2 740.9h0M318.8 740.5h0M321.8 742.9h0M318.8 740.3h0M322.1 744.9h0M319.0 744.3h0M316.9 745.0h0M324.6 743.7h0M317.8 742.4h0M323.2 743.1h0M320.2 740.5h0M321.4 741.5h0M321.6 741.7h0M319.7 740.8h0M319.3 741.8h0M318.1 740.6h0M323.6 743.7h0M319.4 743.2h0M322.7 743.2h0M320.7 742.8h0M318.7 745.7h0M322.3 744.1h0M324.5 743.4h0M317.1 741.4h0M322.5 744.7h0M322.8 742.5h0M317.6 744.0h0M321.1 739.7h0M324.0 742.8h0M323.7 741.2h0M317.0 744.0h0M318.0 740.5h0M323.8 742.5h0M318.9 742.0h0M319.1 744.4h0M318.3 744.8h0M317.8 744.0h0M320.2 741.0h0M321.4 743.7h0M320.4 741.2h0M322.6 742.7h0M323.3 742.1h0M322.7 740.6h0M319.6 742.3h0M321.1 740.3h0M324.6 743.0h0M318.1 741.0h0M324.3 741.8h0M324.5 742.9h0M323.6 744.0h0M324.3 743.8h0M322.3 740.2h0M325.1 741.9h0M322.6 742.9h0M321.8 741.4h0M319.5 742.9h0M319.4 743.6h0M320.2 742.8h0M322.2 743.9h0M321.3 743.2h0M318.2 741.2h0M319.8 744.2h0M318.8 739.6h0M322.3 743.6h0M318.1 741.1h0M324.0 742.4h0M320.1 744.8h0M319.5 744.7h0M321.8 742.1h0M316.3 741.7h0M321.3 739.5h0M321.8 741.8h0M320.7 740.7h0M320.6 739.6h0M317.1 741.2h0M318.0 741.4h0M321.8 739.7h0M322.4 742.3h0M318.7 743.1h0M319.7 740.1h0M323.2 741.5h0" stroke="#0e6f6f" stroke-width="1.2" stroke-linecap="square"/>
<path d="M285.3 765.1h0M275.3 770.1h0M280.8 768.0h0M274.4 766.0h0M277.7 766.6h0M277.1 768.7h0M277.4 771.8h0M280.5 766.4h0M276.7 768.6h0M283.8 765.6h0M280.7 758.0h0M288.8 768.8h0M281.8 766.1h0M278.8 764.8h0M286.8 760.8h0M273.3 761.1h0M290.1 768.0h0M279.6 763.4h0M287.1 770.1h0M277.4 771.1h0M282.6 760.2h0M277.2 769.4h0M278.1 763.4h0M288.1 769.6h0M284.3 770.0h0M290.1 767.6h0M278.8 766.6h0M287.6 764.6h0M284.7 760.5h0M280.3 769.7h0M285.8 758.1h0M279.0 764.0h0M278.2 771.8h0M286.9 764.6h0M280.7 769.8h0M278.6 765.3h0M289.4 766.1h0M280.4 759.5h0M278.5 769.2h0M284.2 772.9h0M286.9 759.7h0M276.8 768.4h0M287.1 761.0h0M280.5 762.9h0M274.9 765.7h0M279.4 770.0h0M292.0 766.1h0M274.2 769.4h0M284.8 761.9h0M276.0 767.9h0M279.2 772.7h0M285.5 769.7h0M282.8 765.1h0M284.9 772.3h0M288.5 767.6h0M287.8 766.3h0M282.1 765.9h0M274.1 767.9h0M280.1 763.9h0M279.1 765.5h0M276.8 767.6h0M279.8 766.1h0M285.3 768.3h0M286.2 767.2h0M278.8 770.1h0M281.1 772.2h0M290.4 764.2h0M280.0 767.2h0M285.1 759.4h0M288.7 765.1h0M290.1 767.8h0M289.0 770.9h0M289.0 768.6h0M274.4 764.6h0M273.8 770.3h0M290.6 762.6h0M278.2 767.5h0M277.2 772.1h0M277.9 764.4h0M278.4 771.0h0M281.2 772.0h0M274.7 766.9h0M290.3 765.8h0M285.8 766.5h0M282.3 772.4h0M275.1 766.2h0M281.0 759.8h0M281.9 766.0h0M277.2 760.9h0M285.9 770.8h0M277.6 767.0h0M285.3 772.2h0M279.0 759.8h0M272.9 766.4h0M287.0 769.9h0M285.2 762.4h0M291.2 767.4h0M286.8 763.4h0M282.7 758.3h0M290.8 762.5h0M274.2 767.0h0M278.5 763.7h0M285.4 770.1h0M282.7 773.3h0M286.6 771.2h0M287.4 760.8h0M286.4 766.6h0M285.0 770.9h0M281.8 773.6h0M289.2 768.0h0M283.2 772.6h0M276.7 765.1h0M283.1 769.5h0M277.7 760.3h0M272.3 764.3h0M290.2 765.9h0M279.2 769.3h0M290.0 769.2h0M280.7 763.1h0M274.3 770.5h0M275.8 767.3h0M279.0 759.7h0M284.9 773.1h0M282.2 765.8h0M286.4 759.3h0M286.3 765.2h0M287.0 771.3h0M274.6 768.1h0M283.7 757.9h0M275.1 765.7h0M283.9 773.2h0M274.5 769.0h0M281.4 764.3h0M273.9 770.1h0M281.7 764.4h0M282.0 765.2h0M280.0 764.9h0M280.7 766.4h0M279.0 763.5h0M276.5 765.4h0M280.1 764.0h0M285.5 759.8h0M283.3 761.5h0M291.1 768.0h0M280.8 772.0h0M286.5 761.6h0M282.3 759.9h0M276.1 767.7h0M275.1 771.1h0M285.4 761.2h0M287.0 771.7h0M282.1 770.4h0M284.7 759.4h0M276.0 771.3h0M284.2 760.9h0M286.7 764.4h0M279.8 766.5h0M277.4 763.7h0M275.2 761.9h0M283.8 771.0h0M283.5 771.4h0M283.0 759.0h0M281.8 758.1h0M279.4 758.4h0M279.8 764.4h0M274.9 761.6h0M275.0 768.2h0M277.9 762.6h0M278.2 772.4h0M274.4 761.4h0M284.4 772.5h0M282.9 760.4h0M282.6 768.1h0M283.2 771.5h0M284.2 764.1h0M288.9 769.5h0M273.3 761.5h0M273.9 764.2h0M276.7 759.0h0M279.4 769.1h0M286.1 764.0h0M290.4 766.2h0M284.6 770.3h0M281.3 757.5h0M284.4 763.6h0M284.6 771.2h0M272.2 764.0h0M286.9 763.9h0M286.5 758.6h0M285.2 769.6h0M275.0 766.8h0M272.5 765.9h0M283.0 759.9h0M284.7 764.1h0M274.2 767.5h0M280.6 764.1h0M276.3 758.8h0M280.4 770.2h0M290.0 767.5h0M286.2 765.2h0M280.6 759.6h0M278.2 768.6h0M281.8 759.5h0M272.6 763.8h0M281.7 766.5h0M278.8 760.4h0M278.8 759.7h0M273.6 762.6h0M284.8 771.6h0M281.9 765.9h0M274.7 760.2h0M285.4 769.5h0M288.8 770.5h0M290.9 768.3h0M276.6 767.9h0M283.9 767.2h0M277.6 772.4h0M281.0 759.0h0M277.6 767.7h0M272.0 765.5h0M287.1 764.1h0M282.0 760.9h0M279.0 765.6h0M286.7 764.7h0M281.4 765.7h0M288.8 767.3h0M277.2 771.6h0M275.6 768.4h0M287.5 770.4h0M277.9 769.4h0M278.5 769.0h0M287.4 771.8h0M285.1 762.5h0M282.9 759.5h0M276.7 766.2h0M287.8 771.3h0M284.1 770.9h0M290.7 761.3h0M290.8 766.3h0M286.7 759.3h0M287.7 760.5h0M272.2 767.8h0M280.3 766.3h0M275.3 760.5h0M280.8 773.2h0M275.6 765.1h0M286.1 771.8h0M280.9 766.8h0M276.3 761.8h0M289.6 766.7h0M288.0 760.6h0M283.8 771.8h0M290.8 766.0h0M275.9 760.0h0M275.0 766.3h0M287.1 759.5h0M275.7 763.0h0M285.0 761.8h0M284.8 768.7h0M283.4 770.2h0M281.8 766.2h0M281.1 766.8h0M284.4 772.2h0M275.8 770.1h0M279.7 770.8h0M289.5 764.9h0M273.8 765.6h0M282.7 769.2h0M287.5 766.0h0M286.1 759.4h0M289.8 767.3h0M278.4 766.8h0M278.2 762.9h0M276.5 759.7h0M286.4 766.5h0M290.2 769.6h0M274.7 761.4h0M279.4 769.0h0M282.5 764.8h0M283.9 769.5h0M284.7 766.1h0M281.6 759.0h0M274.7 766.5h0M274.3 767.0h0M284.9 764.8h0M279.3 770.7h0M277.4 767.3h0M288.0 762.4h0M282.2 765.8h0M273.3 764.6h0M284.8 761.8h0M275.8 759.7h0M278.9 758.7h0M280.6 771.4h0M286.3 770.9h0M283.8 773.3h0M274.0 768.4h0M277.1 770.0h0M280.0 758.7h0M285.1 769.8h0M272.0 766.4h0M284.3 772.7h0M273.9 767.8h0M278.9 767.6h0M275.0 762.0h0M276.6 760.4h0M274.8 771.3h0M272.3 764.1h0M282.5 760.2h0M276.6 765.5h0M285.6 769.3h0M278.2 768.9h0M278.9 771.3h0M280.8 764.9h0M278.7 766.9h0M287.7 770.5h0M283.2 770.8h0M275.2 767.2h0M272.9 761.7h0M285.3 763.1h0M278.6 760.1h0M290.9 767.1h0M282.4 760.4h0M286.2 758.8h0M280.1 759.4h0M274.0 767.6h0M273.2 763.2h0M289.5 764.9h0M281.2 763.7h0M283.5 760.6h0M280.2 768.6h0M271.7 764.2h0M287.3 761.5h0M280.7 764.5h0M277.7 766.5h0M276.1 765.1h0M288.3 767.7h0M289.1 767.6h0M274.9 771.4h0M282.5 759.3h0M286.5 771.8h0M283.1 769.3h0M275.6 765.1h0M272.5 764.3h0M290.0 763.8h0M279.0 767.2h0M274.9 761.9h0M286.1 772.6h0M283.7 759.5h0M278.1 762.2h0M290.1 769.5h0M275.4 765.5h0M274.4 761.3h0M271.2 765.2h0M273.9 761.3h0M276.1 765.7h0M272.0 761.8h0M275.8 762.5h0M273.9 760.5h0M275.0 763.8h0M272.2 763.9h0M272.1 763.7h0M271.3 762.9h0M272.1 762.6h0M273.1 766.2h0M271.7 761.1h0M272.0 761.5h0M272.8 763.7h0M273.5 762.9h0M270.9 763.7h0M270.8 761.6h0M274.4 760.7h0M275.4 763.5h0M272.0 765.2h0M274.5 761.6h0M273.4 760.8h0M275.4 761.4h0M274.6 762.9h0M272.1 765.7h0M272.2 761.0h0M270.1 764.6h0M271.6 765.5h0M270.5 763.2h0M272.1 761.1h0M270.3 763.3h0M273.5 764.2h0M271.7 765.2h0M274.7 766.5h0M272.8 765.2h0M272.7 763.6h0M274.8 763.1h0M274.7 764.8h0M272.3 762.1h0M276.1 764.1h0M275.0 763.5h0M271.9 762.1h0M276.3 762.6h0M274.3 763.8h0M271.2 761.3h0M271.1 764.2h0M277.2 764.5h0M274.1 766.6h0M283.1 757.8h0M282.7 759.0h0M287.8 758.8h0M283.7 762.0h0M288.4 759.0h0M281.5 760.5h0M288.3 758.3h0M286.5 759.7h0M286.3 760.5h0M285.3 761.3h0M282.8 756.6h0M282.4 761.6h0M282.5 761.1h0M286.8 761.7h0M283.2 756.9h0M285.1 761.4h0M288.2 758.5h0M285.0 759.7h0M283.7 758.8h0M281.2 758.0h0M283.1 757.0h0M286.7 759.1h0M285.3 760.0h0M286.9 757.0h0M286.9 759.9h0M284.6 756.8h0M281.7 757.7h0M287.5 759.5h0M285.4 760.8h0M282.7 760.6h0M284.7 760.5h0M287.3 761.0h0M282.1 758.1h0M282.5 756.7h0M281.3 759.4h0M287.6 758.0h0M282.4 760.1h0M282.8 761.8h0M285.7 758.6h0M283.5 757.4h0M281.7 758.3h0M288.3 758.1h0M287.7 760.8h0M284.1 760.7h0M281.4 759.5h0M287.7 760.0h0M285.5 757.8h0M282.1 759.3h0M288.8 759.6h0M281.9 757.7h0M286.6 760.6h0" stroke="#c87818" stroke-width="1.2" stroke-linecap="square"/>
<path d="M309.3 755.5h0M324.7 760.9h0M319.0 762.6h0M323.6 760.7h0M324.5 760.8h0M307.2 759.4h0M307.6 766.7h0M322.9 766.9h0M308.8 764.6h0M322.0 766.7h0M322.0 761.8h0M315.4 762.0h0M324.7 762.0h0M319.9 760.2h0M319.1 755.3h0M321.9 767.3h0M321.4 766.6h0M320.5 761.6h0M313.5 761.4h0M318.9 760.2h0M308.6 763.9h0M316.4 766.8h0M309.1 767.1h0M323.7 766.0h0M310.5 759.4h0M311.5 759.3h0M310.6 764.2h0M319.2 762.6h0M315.4 769.1h0M320.5 763.6h0M310.0 764.8h0M317.9 760.3h0M318.7 755.7h0M320.2 765.0h0M311.5 762.3h0M316.7 767.6h0M316.4 757.8h0M320.6 759.6h0M310.4 759.4h0M311.6 760.7h0M318.8 767.8h0M307.7 767.1h0M317.3 758.5h0M319.8 763.0h0M321.3 756.9h0M317.5 758.3h0M324.5 761.0h0M313.8 763.5h0M314.3 758.9h0M325.3 759.2h0M317.1 754.9h0M314.8 767.6h0M310.7 762.5h0M319.3 760.3h0M322.5 762.1h0M315.4 765.5h0M315.0 766.5h0M308.2 766.6h0M323.0 765.2h0M312.4 768.8h0M316.9 763.8h0M314.4 768.8h0M307.5 763.5h0M310.0 759.9h0M324.7 764.9h0M316.2 762.1h0M312.8 765.3h0M308.0 762.2h0M318.9 763.8h0M311.9 755.7h0M312.7 762.1h0M313.8 756.7h0M317.9 761.7h0M315.9 764.0h0M317.2 763.0h0M316.1 767.2h0M307.7 765.2h0M316.1 761.8h0M315.9 760.3h0M313.1 762.5h0M311.0 756.9h0M312.6 765.7h0M311.6 766.4h0M323.4 764.1h0M314.9 761.9h0M321.7 756.9h0M312.2 759.2h0M316.1 760.4h0M319.2 761.0h0M315.1 761.4h0M319.4 762.7h0M325.5 764.6h0M309.5 763.8h0M308.5 756.2h0M316.2 761.6h0M310.4 768.2h0M319.8 767.7h0M323.2 765.9h0M321.9 762.9h0M320.9 763.0h0M314.7 768.6h0M313.9 761.7h0M321.9 761.6h0M318.8 760.1h0M314.9 759.5h0M317.6 764.0h0M326.0 763.9h0M316.3 769.6h0M321.2 766.6h0M321.4 763.4h0M313.4 760.4h0M310.6 757.1h0M317.7 762.6h0M315.4 758.5h0M313.4 765.2h0M319.1 764.1h0M317.1 764.8h0M307.1 767.3h0M316.3 759.4h0M314.5 758.5h0M318.5 758.0h0M314.4 764.5h0M312.5 767.0h0M312.1 768.6h0M309.6 759.1h0M320.5 762.2h0M308.1 761.7h0M314.0 768.6h0M314.0 756.5h0M310.7 765.9h0M306.5 763.9h0M307.8 757.1h0M315.5 768.2h0M306.8 760.3h0M318.4 766.6h0M315.9 766.7h0M316.0 758.0h0M318.0 766.2h0M321.4 761.0h0M310.0 768.2h0M314.0 768.7h0M312.0 763.9h0M317.5 755.2h0M306.5 761.7h0M310.1 764.1h0M314.1 768.7h0M311.5 764.7h0M320.5 757.0h0M320.8 768.1h0M317.0 754.8h0M321.1 760.0h0M313.4 756.1h0M310.8 766.8h0M312.2 756.1h0M307.0 765.7h0M321.2 758.2h0M322.4 757.9h0M317.7 764.7h0M323.3 758.6h0M306.9 766.8h0M317.0 763.9h0M311.1 762.5h0M306.6 763.7h0M325.1 759.1h0M314.8 756.6h0M316.0 765.8h0M320.4 760.7h0M307.8 760.5h0M307.0 764.7h0M324.8 763.2h0M308.8 765.5h0M313.0 766.9h0M309.6 757.6h0M315.2 755.5h0M315.7 760.3h0M323.6 766.1h0M311.6 757.5h0M323.6 766.4h0M310.5 761.8h0M313.5 762.4h0M325.0 763.1h0M308.6 762.8h0M311.0 762.6h0M315.4 761.8h0M321.7 765.2h0M308.4 764.5h0M306.3 760.0h0M311.5 761.2h0M314.2 756.5h0M323.3 767.2h0M321.8 761.5h0M318.3 768.3h0M316.6 757.3h0M318.7 767.6h0M320.2 756.6h0M323.8 761.8h0M308.0 766.2h0M311.3 766.0h0M319.0 760.6h0M318.0 763.7h0M324.5 759.1h0M306.1 758.3h0M321.8 762.4h0M308.2 759.8h0M309.4 755.5h0M321.9 765.9h0M313.1 757.8h0M313.2 766.9h0M309.8 758.7h0M311.9 758.0h0M318.9 759.9h0M311.1 767.2h0M325.8 763.6h0M320.0 764.8h0M315.3 761.1h0M307.5 765.8h0M310.1 760.6h0M306.8 758.7h0M319.4 763.8h0M314.3 765.8h0M306.2 763.0h0M319.6 756.8h0M317.6 768.1h0M312.0 761.6h0M323.0 763.7h0M316.7 758.6h0M313.6 754.7h0M320.1 758.2h0M315.7 763.9h0M315.0 767.6h0M315.8 762.5h0M313.3 768.0h0M307.6 758.8h0M315.4 760.7h0M311.1 768.8h0M320.7 768.3h0M319.9 766.6h0M322.7 757.4h0M321.2 760.0h0M313.4 761.8h0M325.3 760.5h0M310.9 760.0h0M321.9 768.0h0M315.8 758.5h0M323.7 757.6h0M313.4 765.6h0M316.4 763.5h0M314.0 763.8h0M322.0 764.0h0M318.2 761.9h0M320.7 755.8h0M323.8 766.4h0M313.0 763.4h0M315.8 760.0h0M314.2 760.2h0M310.4 762.2h0M321.2 766.8h0M310.0 760.1h0M315.8 761.5h0M322.1 767.5h0M314.8 761.8h0M322.8 761.1h0M316.1 760.2h0M318.2 763.5h0M305.0 760.6h0M314.0 764.5h0M305.9 762.7h0M316.3 756.3h0M322.4 761.1h0M307.5 761.8h0M313.1 766.7h0M311.1 760.0h0M315.8 760.3h0M321.8 759.5h0M312.6 760.6h0M318.6 761.9h0M310.1 760.3h0M315.1 764.8h0M309.0 767.9h0M319.6 763.7h0M319.4 760.5h0M323.1 763.9h0M306.9 764.6h0M309.9 765.1h0M315.0 766.4h0M318.1 765.7h0M315.5 756.9h0M314.1 763.8h0M319.2 765.5h0M305.1 762.7h0M321.9 760.1h0M306.2 760.4h0M313.8 767.4h0M321.0 759.5h0M309.0 758.9h0M323.5 761.4h0M316.7 762.0h0M323.9 766.8h0M313.2 758.1h0M304.7 764.3h0M319.2 760.5h0M310.0 766.1h0M322.9 757.5h0M318.6 767.6h0M318.6 763.5h0M307.1 765.8h0M310.9 765.5h0M314.5 769.2h0M306.2 763.0h0M324.1 765.6h0M312.0 759.0h0M315.4 761.7h0M318.3 757.3h0M321.8 760.8h0M315.9 763.3h0M312.9 757.4h0M318.8 755.5h0M323.9 762.2h0M317.7 757.8h0M307.8 758.5h0M325.1 761.6h0M318.1 763.6h0M319.8 766.0h0M318.9 766.7h0M319.9 764.9h0M316.2 759.4h0M316.1 767.6h0M318.5 767.1h0M313.4 767.4h0M304.9 763.4h0M308.8 761.4h0M308.4 758.5h0M320.5 762.8h0M324.4 763.7h0M314.1 767.9h0M320.0 765.1h0M316.9 755.9h0M320.9 760.4h0M325.2 763.4h0M315.8 759.0h0M325.8 760.6h0M318.8 760.9h0M309.9 757.6h0M315.8 761.9h0M320.2 760.4h0M308.2 756.4h0M310.3 766.1h0M323.5 761.4h0M310.1 762.9h0M320.7 766.0h0M316.0 761.3h0M312.4 767.7h0M323.0 758.7h0M312.3 765.6h0M307.2 757.5h0M321.9 766.8h0M315.3 760.0h0M311.9 758.9h0M305.8 759.8h0M312.6 769.0h0M316.4 763.0h0M319.9 765.2h0M322.7 765.1h0M323.6 767.1h0M326.4 765.1h0M323.0 764.9h0M326.2 765.3h0M321.9 764.8h0M324.4 766.5h0M321.2 763.2h0M322.7 763.9h0M325.0 764.6h0M322.5 763.1h0M327.1 765.6h0M319.1 764.4h0M326.5 764.0h0M321.1 764.4h0M323.5 763.2h0M322.6 767.6h0M322.8 762.6h0M320.9 764.2h0M320.8 763.5h0M322.1 766.2h0M320.7 764.0h0M324.3 765.4h0M325.6 765.9h0M321.1 765.7h0M323.3 763.5h0M324.2 764.8h0M322.0 767.1h0M324.9 766.1h0M322.6 764.7h0M320.4 764.2h0M324.5 766.4h0M325.5 765.5h0M320.4 765.6h0M320.5 763.8h0M324.6 764.0h0M322.0 767.8h0M319.0 765.4h0M321.4 767.8h0M325.5 765.4h0M324.7 767.7h0M324.7 764.6h0M323.1 765.5h0M324.4 765.5h0M322.6 763.7h0M322.7 763.6h0M325.8 764.7h0M325.7 766.7h0M322.2 766.8h0M327.2 764.6h0M320.2 767.2h0M320.7 764.6h0M321.5 769.2h0M320.3 770.1h0M320.3 768.6h0M321.0 765.2h0M319.5 768.8h0M320.2 768.4h0M317.3 765.3h0M321.8 768.9h0M320.6 767.6h0M321.6 765.5h0M316.8 769.3h0M318.8 765.4h0M318.7 767.9h0M319.5 768.7h0M321.0 768.4h0M319.1 769.3h0M316.3 766.9h0M322.2 766.5h0M320.1 768.8h0M317.2 768.8h0M315.7 768.0h0M322.1 767.6h0M321.8 768.8h0M322.0 767.8h0M321.8 765.6h0M317.6 767.5h0M320.8 764.9h0M321.7 767.6h0M316.9 768.7h0M323.2 768.2h0M318.8 766.5h0M317.8 766.1h0M316.6 767.7h0M323.5 767.6h0M321.4 769.6h0M319.3 768.3h0M322.5 769.7h0M317.4 769.3h0M319.4 769.6h0M317.4 767.4h0M322.4 767.2h0M319.5 765.3h0M317.0 765.6h0M320.4 769.1h0M320.7 765.0h0M321.6 767.4h0M320.4 770.4h0M318.3 765.9h0M322.8 766.4h0M322.3 768.3h0M319.1 770.0h0M321.5 765.8h0M320.3 766.5h0" stroke="#d03040" stroke-width="1.2" stroke-linecap="square"/>
<path d="M251.6 782.8h0M256.7 781.9h0M262.5 772.1h0M249.2 769.1h0M248.3 778.3h0M252.1 776.8h0M257.1 780.9h0M259.2 773.1h0M260.5 781.1h0M255.5 777.9h0M252.4 772.0h0M248.1 774.6h0M261.8 779.1h0M257.3 777.1h0M256.9 777.1h0M246.7 776.9h0M255.3 775.6h0M249.4 772.2h0M249.0 778.1h0M256.9 778.6h0M246.8 776.6h0M252.0 775.1h0M260.1 781.6h0M248.9 775.7h0M247.7 775.7h0M256.3 775.0h0M253.3 778.9h0M253.6 777.0h0M262.8 777.3h0M248.7 777.4h0M260.5 772.9h0M244.6 774.3h0M256.9 779.1h0M252.7 772.9h0M253.8 780.6h0M250.3 771.4h0M248.3 780.3h0M258.9 780.0h0M262.5 774.6h0M260.7 780.0h0M256.6 782.4h0M247.6 779.2h0M258.3 773.1h0M255.9 781.6h0M256.9 776.7h0M252.6 783.5h0M257.7 769.5h0M257.5 780.4h0M252.4 781.0h0M260.5 770.5h0M258.2 772.7h0M256.5 771.0h0M259.6 775.9h0M248.4 782.6h0M260.0 773.2h0M258.3 770.5h0M250.6 782.5h0M246.4 770.9h0M253.7 781.3h0M252.4 781.0h0M258.8 782.3h0M246.5 773.0h0M254.7 775.2h0M251.2 777.6h0M260.5 776.3h0M259.3 780.4h0M250.7 781.2h0M252.6 778.2h0M255.0 774.6h0M251.2 777.3h0M248.0 777.7h0M246.3 776.4h0M254.7 780.4h0M260.6 776.8h0M254.9 772.3h0M261.0 770.9h0M260.9 778.7h0M251.1 783.2h0M248.7 769.7h0M257.6 782.6h0M252.2 781.4h0M245.1 773.8h0M261.9 773.5h0M254.0 775.6h0M262.7 771.9h0M253.0 770.9h0M258.4 772.8h0M257.5 773.0h0M250.3 771.7h0M256.4 782.2h0M251.3 775.7h0M246.1 778.0h0M263.8 773.5h0M257.0 779.0h0M245.9 778.4h0M255.3 777.5h0M246.3 773.4h0M250.6 782.3h0M249.2 779.1h0M254.0 775.4h0M256.7 782.0h0M249.6 769.6h0M256.0 769.1h0M253.6 776.3h0M257.3 777.2h0M255.1 773.3h0M258.2 769.5h0M260.8 771.8h0M247.0 775.5h0M253.4 780.9h0M253.9 784.0h0M249.9 775.2h0M254.2 771.1h0M246.8 777.9h0M263.1 777.1h0M259.2 783.0h0M248.0 774.9h0M252.8 769.9h0M252.1 771.6h0M258.9 771.0h0M253.9 783.8h0M261.5 771.3h0M253.0 775.5h0M263.9 775.4h0M252.5 782.7h0M263.2 778.5h0M259.0 781.0h0M254.3 773.9h0M250.0 774.7h0M261.9 778.1h0M254.3 776.0h0M258.5 778.9h0M248.8 779.5h0M255.8 770.5h0M251.0 769.9h0M263.1 778.9h0M255.6 781.7h0M246.0 775.7h0M253.9 774.8h0M254.0 777.9h0M253.1 780.0h0M259.9 778.0h0M258.6 773.3h0M250.5 769.3h0M257.0 782.0h0M259.8 779.5h0M255.2 780.3h0M251.1 781.1h0M256.7 782.0h0M264.0 776.7h0M248.6 775.7h0M253.5 778.5h0M257.7 771.7h0M253.9 778.3h0M255.6 775.5h0M261.1 771.5h0M250.6 772.0h0M247.5 772.0h0M251.5 773.4h0M252.1 771.2h0M259.7 779.6h0M246.2 781.2h0M247.7 775.6h0M260.6 779.1h0M256.9 771.9h0M248.7 781.5h0M245.9 775.2h0M255.3 777.6h0M260.0 771.2h0M257.8 772.8h0M258.4 775.7h0M256.3 780.4h0M246.6 774.6h0M248.3 778.5h0M257.6 779.9h0M251.0 778.9h0M254.2 782.5h0M255.0 770.6h0M252.9 780.8h0M252.6 774.2h0M261.2 772.4h0M253.2 777.3h0M251.0 770.9h0M253.4 781.1h0M246.6 774.3h0M256.5 783.1h0M254.2 775.6h0M255.5 771.7h0M259.2 782.2h0M257.9 782.4h0M247.3 778.6h0M251.2 773.0h0M259.5 778.1h0M253.9 774.4h0M250.0 782.9h0M250.4 779.1h0M257.8 778.4h0M256.4 771.1h0M257.7 783.3h0M246.7 774.8h0M244.6 777.4h0M258.5 770.8h0M254.5 772.6h0M260.3 770.6h0M262.8 773.9h0M244.4 777.6h0M257.1 775.3h0M259.2 772.3h0M256.2 778.1h0M253.2 769.7h0M257.8 774.5h0M254.5 774.4h0M251.6 776.8h0M262.5 779.3h0M253.0 772.2h0M257.0 782.2h0M244.4 776.6h0M259.8 775.1h0M249.0 769.9h0M251.7 771.2h0M245.4 777.4h0M258.7 770.0h0M262.3 771.6h0M250.7 770.7h0M248.1 776.8h0M252.5 771.1h0M255.0 771.2h0M249.0 777.3h0M247.3 771.9h0M247.3 781.3h0M257.2 782.7h0M262.0 776.7h0M251.6 778.3h0M256.4 772.5h0M259.5 781.1h0M251.6 771.9h0M255.6 770.0h0M258.0 775.3h0M258.1 771.0h0M254.4 772.4h0M253.4 775.6h0M262.5 777.0h0M249.4 776.6h0M257.1 776.9h0M246.0 776.4h0M261.5 781.2h0M249.9 782.2h0M256.1 777.2h0M251.6 768.7h0M252.8 776.7h0M260.2 777.1h0M246.1 773.6h0M249.5 769.6h0M260.7 772.8h0M260.6 770.3h0M255.7 780.2h0M245.5 775.8h0M248.0 782.0h0M251.6 774.7h0M247.9 773.8h0M258.2 778.2h0M254.6 783.7h0M247.7 775.9h0M247.8 770.6h0M252.1 772.8h0M259.5 782.4h0M262.8 780.5h0M250.6 776.2h0M250.6 771.9h0M258.5 780.6h0M251.4 781.5h0M253.3 783.7h0M262.5 771.4h0M250.8 776.1h0M263.3 776.2h0M250.8 769.8h0M253.4 775.3h0M252.6 777.1h0M251.2 782.6h0M255.5 771.9h0M247.7 773.0h0M251.8 779.0h0M260.1 782.0h0M247.5 779.8h0M252.9 768.6h0M252.7 773.0h0M255.1 783.7h0M259.6 769.7h0M247.8 780.7h0M256.2 773.2h0M263.9 776.7h0M255.7 776.6h0M262.9 778.4h0M252.1 775.1h0M251.2 777.0h0M264.1 776.3h0M258.5 771.5h0M261.1 777.7h0M258.7 775.7h0M252.5 772.3h0M249.2 782.6h0M250.8 774.2h0M250.8 770.4h0M255.3 783.8h0M251.9 770.0h0M251.7 777.2h0M254.9 771.3h0M246.2 774.8h0M244.9 775.6h0M256.3 778.2h0M249.3 771.9h0M248.1 782.6h0M254.5 771.9h0M245.9 777.8h0M253.8 781.4h0M259.9 776.2h0M253.6 774.2h0M259.0 769.0h0M259.7 777.1h0M249.9 775.1h0M255.0 772.4h0M258.3 772.2h0M261.2 773.5h0M250.3 773.3h0M258.9 780.6h0M262.9 775.6h0M258.2 780.0h0M255.2 784.1h0M253.5 771.5h0M262.7 777.3h0M248.3 779.1h0M244.6 777.1h0M247.2 775.8h0M256.4 774.2h0M245.1 774.7h0M256.2 783.7h0M247.5 778.4h0M251.1 772.1h0M261.1 779.5h0M260.7 771.2h0M259.3 782.7h0M255.9 778.7h0M248.3 778.4h0M245.7 775.5h0M262.6 776.6h0M256.9 782.1h0M259.4 778.6h0M255.7 773.3h0M246.4 774.1h0M250.2 770.1h0M254.3 776.1h0M248.8 781.2h0M250.7 782.2h0M250.5 784.8h0M250.3 782.8h0M250.5 784.8h0M249.7 782.7h0M250.2 782.2h0M248.2 781.5h0M249.7 782.3h0M255.3 781.2h0M253.9 782.0h0M252.1 781.6h0M254.2 782.0h0M248.8 782.9h0M248.3 781.3h0M254.4 785.0h0M254.3 780.4h0M251.2 783.4h0M250.8 782.4h0M254.9 784.7h0M251.1 782.5h0M253.6 781.3h0M255.2 783.3h0M252.7 784.1h0M251.4 781.3h0M254.7 781.9h0M253.7 781.4h0M251.0 782.8h0M251.9 783.0h0M253.0 783.7h0M254.3 784.5h0M253.8 784.7h0M254.5 783.5h0M252.3 782.1h0M251.4 785.0h0M254.4 782.2h0M250.4 781.2h0M253.5 782.6h0M253.4 781.0h0M252.2 783.7h0M249.6 781.9h0M252.2 782.4h0M255.0 781.9h0M253.4 782.8h0M251.8 783.9h0M249.3 784.4h0M254.0 784.6h0M249.7 781.8h0M248.4 783.2h0M249.2 780.3h0M251.1 780.9h0M259.2 769.0h0M260.7 769.9h0M264.3 770.6h0M258.8 773.1h0M261.0 769.4h0M262.9 772.2h0M263.5 770.0h0M259.1 772.9h0M262.3 771.1h0M260.0 772.3h0M258.6 773.0h0M257.7 770.9h0M261.6 769.9h0M261.8 770.6h0M260.5 770.0h0M261.2 773.2h0M260.4 770.1h0M262.8 770.9h0M258.0 771.0h0M261.9 773.3h0M257.9 771.7h0M258.8 772.7h0M259.9 772.7h0M262.9 769.4h0M257.7 772.0h0M263.4 771.7h0M259.0 770.6h0M261.0 769.1h0M261.0 769.2h0M261.3 774.4h0M260.5 773.2h0M263.1 771.3h0M258.6 770.6h0M258.2 771.2h0M260.8 768.8h0M260.1 772.3h0M261.3 771.6h0M261.5 773.1h0M257.2 772.2h0M263.3 771.7h0M259.8 774.6h0M260.7 768.9h0M257.5 770.5h0M256.9 772.6h0M259.0 771.7h0M262.8 771.3h0M258.0 769.3h0M258.6 768.9h0M263.6 771.7h0M263.1 772.0h0M258.5 774.3h0" stroke="#f0957a" stroke-width="1.2" stroke-linecap="square"/>
<path d="M227.7 785.4h0M231.9 789.9h0M236.3 784.7h0M230.3 784.9h0M221.6 782.6h0M221.3 791.4h0M230.6 788.9h0M225.7 791.7h0M224.3 780.8h0M227.5 790.4h0M231.8 778.4h0M229.7 791.8h0M226.0 781.9h0M231.3 790.0h0M222.1 782.4h0M230.5 780.4h0M229.0 789.8h0M225.8 790.9h0M229.5 779.9h0M229.6 791.0h0M227.9 785.5h0M223.6 787.4h0M229.3 791.4h0M223.4 788.1h0M230.9 783.2h0M226.8 775.5h0M229.1 776.7h0M221.2 779.6h0M225.3 786.4h0M221.6 777.0h0M223.3 788.6h0M226.6 780.5h0M225.0 784.8h0M226.7 781.4h0M229.9 792.0h0M222.9 786.3h0M220.9 786.3h0M229.8 784.4h0M230.9 786.9h0M216.8 785.7h0M224.8 776.8h0M226.2 776.7h0M226.3 787.0h0M226.4 783.1h0M226.3 787.2h0M234.2 783.3h0M225.7 784.9h0M224.9 783.1h0M224.1 783.4h0M228.6 780.8h0M227.5 780.5h0M222.4 781.1h0M233.9 787.8h0M231.3 782.7h0M231.7 785.4h0M220.9 779.9h0M231.9 790.7h0M233.4 780.6h0M222.6 786.3h0M229.6 776.2h0M230.5 783.3h0M228.2 776.4h0M219.4 783.1h0M231.4 783.1h0M221.1 791.6h0M222.1 778.5h0M231.8 786.2h0M228.8 779.4h0M220.3 790.6h0M228.7 787.1h0M225.9 781.8h0M226.2 790.3h0M227.1 778.7h0M219.0 785.8h0M234.0 787.3h0M226.1 785.5h0M225.4 788.6h0M231.9 780.6h0M224.3 777.6h0M226.5 792.8h0M219.8 790.6h0M227.8 785.2h0M224.4 781.7h0M233.0 783.7h0M232.1 789.2h0M223.8 789.4h0M225.2 781.9h0M223.4 779.2h0M233.0 790.5h0M234.9 782.4h0M230.0 782.3h0M228.0 786.7h0M219.2 787.6h0M228.1 785.3h0M222.0 784.3h0M223.8 782.2h0M222.6 782.1h0M224.2 783.5h0M224.5 787.9h0M218.0 786.3h0M227.4 785.2h0M230.9 789.1h0M226.2 784.5h0M223.0 780.5h0M220.1 780.5h0M225.6 779.2h0M227.9 788.4h0M226.1 785.1h0M227.0 784.4h0M227.3 779.2h0M228.0 780.5h0M218.8 784.6h0M232.8 779.4h0M224.4 789.1h0M233.4 786.7h0M220.0 784.3h0M222.8 786.9h0M227.3 780.1h0M219.9 779.8h0M228.1 789.7h0M223.4 777.6h0M225.7 786.4h0M225.6 781.4h0M228.1 778.2h0M228.4 785.6h0M226.7 790.9h0M228.9 786.9h0M234.5 786.7h0M230.1 786.8h0M224.4 786.2h0M225.1 787.3h0M232.1 788.1h0M221.0 782.9h0M226.5 785.7h0M222.5 783.3h0M225.3 776.1h0M223.1 778.8h0M225.1 777.5h0M228.0 792.5h0M227.0 791.0h0M225.1 782.4h0M232.5 782.1h0M226.6 789.7h0M234.8 785.0h0M222.1 781.8h0M219.8 784.9h0M227.6 784.7h0M229.6 787.5h0M224.6 776.7h0M235.6 782.6h0M220.4 785.9h0M225.7 789.5h0M228.8 776.8h0M222.1 777.2h0M224.7 787.6h0M219.7 786.0h0M229.0 785.7h0M228.0 776.8h0M220.1 778.9h0M224.8 788.4h0M221.5 789.6h0M230.1 788.6h0M221.7 791.3h0M221.2 781.0h0M221.9 784.4h0M218.8 786.8h0M232.7 789.5h0M220.3 784.4h0M230.3 788.8h0M221.2 781.6h0M230.4 788.5h0M230.9 776.8h0M222.4 785.8h0M232.0 785.2h0M227.1 786.8h0M217.7 782.1h0M221.5 785.0h0M230.1 784.2h0M231.5 790.0h0M234.1 781.0h0M225.0 789.5h0M231.0 786.3h0M221.9 787.8h0M222.3 784.5h0M227.4 788.9h0M225.4 782.5h0M218.1 786.5h0M224.9 781.2h0M223.7 779.8h0M225.2 788.2h0M218.5 779.1h0M226.1 780.6h0M230.6 782.4h0M231.0 785.1h0M223.7 790.3h0M219.6 781.7h0M234.2 779.4h0M227.9 790.7h0M227.2 780.4h0M233.4 785.5h0M218.9 785.0h0M222.6 780.2h0M227.7 792.5h0M227.1 777.8h0M230.4 792.4h0M227.9 777.1h0M229.2 783.5h0M222.3 779.7h0M231.4 786.1h0M226.8 786.4h0M228.0 783.5h0M226.0 777.1h0M224.2 783.3h0M223.3 785.3h0M230.1 789.4h0M225.2 784.3h0M220.2 783.1h0M217.9 779.9h0M224.8 785.5h0M228.9 780.0h0M219.2 786.6h0M228.5 777.1h0M221.4 777.6h0M221.5 785.0h0M220.6 779.8h0M229.8 785.6h0M228.4 782.5h0M229.9 787.5h0M231.7 778.1h0M232.0 784.0h0M225.9 777.9h0M223.6 783.8h0M235.5 781.2h0M220.3 786.9h0M221.0 779.0h0M234.3 782.4h0M222.6 786.7h0M230.5 784.2h0M232.6 788.2h0M232.1 783.8h0M221.1 790.8h0M226.1 776.7h0M232.3 788.5h0M223.1 781.9h0M232.2 781.2h0M234.0 788.7h0M228.6 792.4h0M224.5 777.5h0M227.9 783.2h0M217.0 782.7h0M225.4 781.8h0M228.8 792.2h0M220.2 784.4h0M222.4 784.5h0M224.9 781.3h0M219.7 789.5h0M224.2 779.2h0M232.9 790.0h0M233.1 787.6h0M221.7 783.7h0M235.2 786.3h0M223.6 790.7h0M232.6 786.5h0M229.3 788.8h0M224.4 790.4h0M224.2 787.8h0M223.2 776.4h0M228.3 780.7h0M220.4 780.5h0M226.6 781.6h0M221.5 784.9h0M225.6 777.6h0M231.7 791.4h0M228.0 776.1h0M233.3 789.3h0M233.2 787.3h0M226.1 779.6h0M228.0 783.0h0M225.7 775.5h0M230.8 783.1h0M220.3 784.6h0M230.5 792.2h0M230.5 776.3h0M224.8 779.1h0M234.3 786.1h0M220.6 788.4h0M226.1 788.7h0M230.2 777.7h0M221.4 782.8h0M231.3 787.4h0M227.6 777.7h0M235.0 784.8h0M220.5 785.4h0M223.5 780.2h0M228.2 784.0h0M219.5 780.6h0M223.2 792.3h0M220.7 781.6h0M219.9 778.2h0M236.0 786.2h0M219.4 779.0h0M224.5 778.8h0M220.3 778.0h0M221.8 792.1h0M231.9 781.9h0M224.2 784.3h0M229.0 792.9h0M217.0 786.0h0M220.1 786.2h0M230.7 788.9h0M227.1 788.9h0M235.8 785.0h0M223.7 791.1h0M221.3 778.4h0M228.9 783.6h0M219.5 778.8h0M228.7 781.0h0M228.6 779.3h0M229.7 782.5h0M226.9 789.1h0M228.6 783.0h0M218.9 782.5h0M224.6 788.5h0M223.6 792.9h0M229.8 781.3h0M222.6 778.1h0M229.1 788.1h0M229.4 777.2h0M233.9 784.7h0M221.2 786.3h0M228.5 782.9h0M223.0 779.0h0M221.0 777.0h0M222.2 786.6h0M220.8 780.1h0M231.8 788.1h0M228.9 790.4h0M223.9 776.2h0M221.2 785.4h0M228.0 781.8h0M231.6 776.8h0M223.3 778.0h0M217.5 784.0h0M224.6 785.8h0M233.4 779.9h0M230.4 785.0h0M220.8 789.0h0M229.5 790.4h0M228.0 784.3h0M230.8 783.3h0M222.1 788.0h0M218.1 780.1h0M223.1 786.0h0M229.1 788.8h0M227.1 789.7h0M224.0 783.4h0M234.6 787.6h0M227.2 780.8h0M222.4 777.1h0M228.7 776.8h0M224.7 788.6h0M224.0 782.1h0M232.6 784.5h0M230.1 791.3h0M225.9 788.0h0M229.1 777.6h0M222.1 783.4h0M226.7 788.2h0M219.8 790.7h0M225.9 779.1h0M230.2 782.0h0M232.5 785.7h0M229.6 776.9h0M228.5 788.1h0M216.5 783.4h0M220.2 783.0h0M220.7 781.8h0M216.9 784.2h0M216.8 780.6h0M222.3 781.0h0M216.3 779.0h0M220.1 778.3h0M216.0 779.5h0M221.9 780.0h0M220.0 780.2h0M215.5 783.0h0M220.5 779.9h0M217.8 783.3h0M221.7 783.4h0M218.1 782.0h0M215.4 782.4h0M218.5 781.5h0M219.0 778.4h0M218.0 782.6h0M216.2 781.4h0M222.3 780.2h0M218.6 778.8h0M216.8 782.8h0M221.2 781.0h0M216.2 780.1h0M218.7 782.0h0M218.0 779.3h0M220.6 779.3h0M221.3 779.2h0M218.0 781.9h0M220.5 779.3h0M219.7 781.0h0M220.5 781.2h0M215.4 781.1h0M222.3 780.5h0M216.7 782.2h0M216.5 781.8h0M216.8 782.4h0M218.2 780.8h0M218.4 779.3h0M220.0 781.7h0M216.7 781.7h0M215.7 780.4h0M219.6 783.2h0M219.8 784.9h0M216.4 779.8h0M216.2 782.6h0M222.5 782.0h0M220.7 780.7h0M221.4 780.0h0M219.3 779.4h0M217.9 778.5h0M219.1 783.6h0M222.1 782.4h0M226.2 778.4h0M225.4 776.5h0M227.7 774.7h0M227.5 778.7h0M224.4 777.5h0M227.7 777.2h0M229.7 778.0h0M228.2 774.9h0M229.0 774.4h0M224.9 777.5h0M223.9 779.1h0M223.0 776.6h0M224.1 774.7h0M226.4 779.7h0M223.4 775.6h0M224.0 778.3h0M228.6 777.6h0M225.4 778.8h0M229.9 777.3h0M227.4 777.0h0M226.6 774.6h0M223.7 775.6h0M229.4 778.5h0M226.3 776.8h0M225.4 780.1h0M227.3 775.9h0M228.6 774.7h0M223.7 777.5h0M226.4 776.1h0M226.8 778.9h0M228.6 779.6h0M226.3 775.3h0M225.7 778.7h0M225.0 775.6h0M223.4 776.8h0M226.3 773.9h0M226.7 779.5h0M225.7 775.7h0M226.8 779.2h0M224.0 778.0h0M228.4 774.1h0M224.7 777.4h0M228.2 778.5h0M225.9 779.0h0M223.9 777.4h0M224.7 774.0h0M223.5 779.1h0M224.3 777.6h0M229.3 777.6h0M229.5 775.1h0M223.6 775.0h0M226.1 779.4h0M226.7 774.8h0M226.1 778.8h0M226.5 778.8h0" stroke="#555555" stroke-width="1.2" stroke-linecap="square"/>
<path d="M303.2 787.0h0M300.5 783.2h0M302.4 788.9h0M309.4 794.4h0M319.5 788.3h0M310.0 791.9h0M302.8 789.7h0M320.3 788.3h0M320.3 788.2h0M303.8 789.3h0M306.9 791.9h0M310.6 789.1h0M306.4 792.0h0M312.3 793.9h0M317.7 789.3h0M311.8 780.9h0M319.9 789.2h0M308.9 780.0h0M305.0 790.4h0M304.2 787.0h0M308.2 790.9h0M310.0 795.1h0M312.5 781.0h0M304.8 788.8h0M320.3 784.9h0M312.1 785.1h0M299.7 791.3h0M302.0 781.4h0M309.1 786.4h0M315.0 786.1h0M321.1 788.6h0M309.4 785.2h0M308.7 779.9h0M301.0 783.6h0M304.9 790.9h0M318.0 790.2h0M302.6 783.7h0M308.6 779.8h0M312.6 787.0h0M318.4 791.6h0M299.6 787.0h0M299.0 789.6h0M307.3 788.2h0M308.6 781.8h0M306.8 788.1h0M303.9 782.1h0M300.2 786.6h0M308.1 792.3h0M303.5 784.6h0M303.6 781.4h0M301.5 792.2h0M309.3 786.3h0M306.9 789.0h0M300.1 791.6h0M308.5 786.7h0M307.9 785.7h0M307.7 780.6h0M309.4 786.8h0M313.7 793.2h0M298.5 787.3h0M313.4 783.7h0M314.6 781.5h0M304.4 783.6h0M311.9 786.2h0M312.1 787.7h0M315.5 783.1h0M305.2 790.1h0M305.8 794.1h0M311.6 793.0h0M316.0 789.9h0M309.2 782.6h0M309.2 791.3h0M308.4 789.6h0M313.0 792.8h0M309.4 787.9h0M318.3 782.6h0M314.5 793.0h0M311.2 781.8h0M310.6 791.6h0M319.3 790.9h0M305.4 780.8h0M304.5 789.5h0M314.9 783.0h0M308.0 790.3h0M320.6 785.6h0M318.0 790.1h0M316.2 787.3h0M305.6 789.9h0M316.4 785.4h0M305.3 793.7h0M303.0 793.5h0M319.0 784.3h0M306.7 789.4h0M315.8 791.1h0M304.5 793.8h0M310.5 785.5h0M304.2 785.1h0M317.4 782.4h0M313.5 788.5h0M321.2 787.0h0M304.6 793.4h0M315.7 780.3h0M315.5 790.5h0M309.8 784.0h0M298.6 785.2h0M313.8 789.1h0M298.4 785.5h0M318.8 791.2h0M310.6 780.3h0M321.0 786.7h0M314.7 788.6h0M305.4 789.6h0M306.3 779.4h0M314.8 793.9h0M316.7 790.8h0M304.4 791.0h0M315.9 780.4h0M315.7 781.1h0M309.3 784.8h0M315.3 788.8h0M304.9 787.7h0M312.2 788.2h0M309.1 785.0h0M309.6 791.5h0M305.4 783.5h0M316.2 780.7h0M308.8 788.3h0M315.3 788.6h0M317.0 787.4h0M317.9 790.6h0M316.6 783.3h0M315.0 783.9h0M305.0 784.3h0M310.3 782.8h0M300.7 791.2h0M300.5 790.0h0M305.6 794.7h0M306.2 793.8h0M309.4 783.9h0M306.2 785.6h0M319.6 784.3h0M304.3 784.5h0M315.3 788.5h0M317.4 790.2h0M309.3 784.8h0M306.6 788.2h0M307.3 782.6h0M303.6 782.0h0M311.7 788.0h0M309.9 779.7h0M307.2 781.7h0M315.9 791.9h0M316.2 792.2h0M306.3 788.7h0M314.6 780.2h0M311.3 788.8h0M312.1 782.8h0M306.7 784.8h0M311.7 779.9h0M303.3 785.1h0M314.6 791.6h0M304.2 783.0h0M312.6 780.7h0M309.6 786.4h0M306.0 786.0h0M312.4 781.1h0M318.0 784.7h0M299.6 787.4h0M302.4 785.4h0M308.4 784.3h0M320.8 788.6h0M303.7 780.6h0M308.9 791.5h0M305.8 787.2h0M312.5 781.6h0M313.4 786.1h0M306.1 790.5h0M313.4 793.3h0M318.7 788.9h0M298.4 786.5h0M303.6 781.9h0M315.1 792.1h0M308.4 787.0h0M305.3 789.9h0M319.7 788.4h0M312.4 783.7h0M303.8 789.4h0M307.2 792.2h0M299.7 789.3h0M306.5 781.3h0M304.3 792.8h0M320.3 788.2h0M302.0 781.1h0M304.1 784.9h0M302.2 791.2h0M310.5 789.2h0M302.7 791.1h0M303.3 792.8h0M311.2 792.9h0M298.6 785.6h0M299.4 789.8h0M304.1 792.5h0M317.2 783.8h0M310.9 785.4h0M300.8 792.2h0M306.3 788.4h0M319.2 783.9h0M312.6 787.4h0M317.6 791.0h0M312.0 791.6h0M316.5 784.6h0M301.7 783.7h0M299.3 789.6h0M309.8 780.9h0M309.9 787.9h0M304.8 793.2h0M308.3 779.7h0M299.4 786.2h0M310.5 780.3h0M299.0 784.2h0M304.1 785.3h0M301.1 783.4h0M309.0 794.3h0M308.2 779.2h0M310.4 792.2h0M301.5 784.8h0M318.1 781.8h0M305.4 789.0h0M317.6 789.1h0M309.1 784.5h0M308.6 781.7h0M311.6 783.5h0M301.5 786.7h0M312.9 781.9h0M310.9 779.8h0M304.9 792.8h0M316.1 793.2h0M303.3 791.9h0M304.7 781.6h0M312.6 785.0h0M317.7 783.4h0M317.8 783.0h0M313.5 789.3h0M309.7 790.5h0M302.2 789.3h0M305.0 791.9h0M306.2 794.6h0M299.8 790.7h0M304.5 782.8h0M304.2 784.0h0M305.8 792.3h0M304.0 787.6h0M308.4 791.4h0M303.9 785.1h0M315.4 789.3h0M313.0 794.5h0M306.7 791.2h0M311.1 782.8h0M301.9 781.5h0M307.2 781.9h0M302.2 785.9h0M307.7 794.9h0M318.0 789.6h0M316.4 786.2h0M318.1 782.0h0M303.9 789.0h0M316.9 791.8h0M316.2 791.3h0M304.1 787.3h0M311.1 793.2h0M305.8 790.5h0M310.7 780.1h0M299.5 790.1h0M303.9 783.8h0M305.3 785.0h0M307.7 779.5h0M320.5 789.5h0M304.8 791.6h0M313.9 793.8h0M305.9 789.1h0M319.4 788.7h0M306.0 791.9h0M306.7 784.7h0M308.9 789.6h0M308.0 792.8h0M309.4 782.9h0M307.3 784.5h0M303.4 791.1h0M302.2 784.8h0M309.4 793.5h0M312.4 787.7h0M304.2 783.0h0M310.4 787.2h0M312.8 794.5h0M307.0 786.5h0M316.2 781.2h0M304.6 788.5h0M311.9 781.6h0M301.5 791.1h0M314.8 789.9h0M309.1 792.1h0M315.0 787.5h0M313.6 791.1h0M304.0 783.7h0M316.5 781.0h0M312.8 782.7h0M307.2 781.9h0M315.7 788.4h0M312.6 794.6h0M313.2 783.8h0M306.5 786.0h0M306.1 780.8h0M312.4 783.0h0M301.1 789.2h0M305.4 780.6h0M308.2 788.2h0M320.4 786.2h0M320.5 784.6h0M307.8 779.8h0M304.1 781.9h0M299.5 784.5h0M306.1 782.4h0M315.5 783.0h0M313.2 788.7h0M311.9 790.6h0M315.9 785.4h0M301.6 787.9h0M307.9 791.8h0M301.2 789.2h0M314.8 780.7h0M311.0 785.3h0M311.3 781.3h0M306.6 786.1h0M302.0 786.9h0M307.7 788.4h0M301.0 784.2h0M306.5 793.9h0M306.1 785.3h0M310.5 789.3h0M317.4 784.0h0M314.0 793.4h0M310.1 781.5h0M303.8 782.0h0M302.2 787.9h0M303.3 789.0h0M305.0 794.0h0M303.0 787.6h0M306.7 792.9h0M303.8 781.7h0M305.7 783.9h0M316.9 786.6h0M301.8 788.1h0M305.9 791.4h0M299.1 784.0h0M308.0 779.9h0M308.7 793.3h0M315.9 783.8h0M318.6 784.9h0M308.5 789.4h0M311.8 793.0h0M298.2 788.8h0M307.8 785.0h0M318.3 785.1h0M299.1 788.8h0M310.5 780.9h0M308.8 793.5h0M313.5 781.2h0M306.9 782.0h0M314.9 794.0h0M301.8 788.2h0M306.9 788.5h0M304.5 792.4h0M308.7 781.7h0M316.4 790.3h0M314.4 783.8h0M311.7 793.4h0M315.8 793.2h0M298.4 785.3h0M308.9 787.8h0M311.2 780.3h0M312.0 779.9h0M300.8 787.6h0M312.9 783.1h0M300.3 787.0h0M306.2 788.8h0M316.2 783.7h0M317.2 783.7h0M313.1 789.3h0M312.1 790.1h0M308.7 780.0h0M304.8 783.1h0M307.2 792.1h0M309.5 794.3h0M317.1 787.0h0M308.4 783.4h0M318.9 786.2h0M299.2 787.6h0M313.8 782.7h0M310.2 780.1h0M309.7 779.6h0M311.7 780.8h0M316.4 780.3h0M313.9 780.4h0M311.8 781.3h0M314.4 780.1h0M316.1 781.9h0M312.2 778.7h0M315.2 781.3h0M313.8 777.9h0M309.9 781.7h0M313.7 781.6h0M310.1 780.3h0M315.2 783.1h0M313.2 781.9h0M315.3 780.3h0M313.8 779.1h0M314.6 779.6h0M309.9 780.1h0M311.2 779.9h0M312.6 779.3h0M314.7 783.0h0M316.5 781.0h0M312.5 779.3h0M310.9 780.7h0M310.7 781.1h0M316.0 782.7h0M313.6 781.9h0M314.7 783.7h0M315.5 778.5h0M312.8 780.4h0M315.1 783.3h0M315.9 780.1h0M311.3 781.1h0M311.5 779.6h0M316.4 778.6h0M312.3 783.5h0M313.4 779.0h0M314.3 778.1h0M316.0 780.5h0M315.7 780.7h0M314.3 777.9h0M311.9 778.8h0M317.0 779.7h0M314.2 782.9h0M310.9 778.9h0M312.1 780.5h0M315.2 779.0h0M316.4 780.7h0M317.3 780.2h0M314.1 783.7h0M315.4 778.2h0M312.7 778.3h0M315.8 782.7h0M314.0 779.0h0M315.1 780.6h0M311.1 778.1h0M313.7 779.6h0M312.9 783.4h0M312.4 782.0h0M310.1 782.9h0M309.7 779.4h0M309.3 780.0h0M314.8 782.3h0M311.4 779.6h0M317.1 780.4h0M311.0 781.3h0M311.3 779.4h0M311.7 781.9h0M310.3 782.8h0M312.4 783.8h0M314.3 781.5h0M313.7 778.6h0M315.7 778.4h0M312.0 782.0h0M314.9 780.2h0M316.9 780.3h0M314.5 782.0h0M314.9 778.6h0M316.0 782.3h0M309.0 781.9h0M311.0 781.6h0M316.5 782.5h0M312.6 783.0h0M315.7 781.8h0M313.7 781.2h0M316.5 782.0h0M313.3 782.4h0M313.1 781.6h0M314.8 781.6h0M314.2 782.1h0M311.7 781.7h0M308.9 780.7h0M311.3 781.9h0M314.0 780.5h0M309.1 779.4h0M311.5 779.0h0M315.8 782.3h0M313.6 778.9h0M313.0 778.9h0M309.5 781.1h0M312.8 780.1h0M309.4 782.4h0M312.3 780.8h0M309.2 780.0h0M312.4 781.3h0M312.2 782.9h0M314.0 779.5h0M313.8 783.7h0M315.4 783.3h0M310.9 778.5h0M313.1 782.9h0M312.2 783.1h0M314.0 781.1h0" stroke="#1b3a75" stroke-width="1.2" stroke-linecap="square"/>
<path d="M271.9 792.1h0M274.6 807.2h0M266.1 805.5h0M275.8 793.0h0M282.0 797.9h0M273.6 792.2h0M274.0 802.7h0M277.7 790.9h0M271.4 792.8h0M272.3 796.9h0M282.3 803.3h0M270.9 798.6h0M267.7 803.7h0M267.6 796.6h0M278.7 799.9h0M277.8 803.1h0M273.8 806.7h0M269.6 795.3h0M279.8 806.3h0M279.6 797.9h0M277.6 799.7h0M265.9 803.3h0M273.9 792.8h0M267.6 799.3h0M273.5 800.4h0M280.2 792.8h0M274.6 807.7h0M270.5 802.7h0M268.3 799.5h0M270.3 793.0h0M279.1 802.5h0M264.4 802.4h0M272.4 801.8h0M269.9 808.0h0M270.4 802.4h0M271.5 794.7h0M277.4 800.2h0M275.3 800.5h0M274.6 797.3h0M277.6 797.3h0M278.4 802.3h0M265.6 799.0h0M271.6 792.9h0M278.1 799.9h0M277.0 791.5h0M266.9 801.4h0M264.1 800.0h0M272.3 796.0h0M269.6 804.9h0M281.7 794.7h0M272.5 802.5h0M280.8 795.4h0M276.4 799.7h0M267.8 803.8h0M274.5 806.9h0M268.4 797.9h0M274.0 805.2h0M273.1 807.7h0M264.6 802.1h0M264.4 801.9h0M271.6 800.4h0M270.1 802.3h0M269.0 807.8h0M279.1 792.0h0M275.6 793.8h0M267.4 793.2h0M278.1 793.4h0M269.0 800.3h0M274.2 803.2h0M268.0 796.8h0M277.7 792.6h0M269.2 806.6h0M263.4 799.6h0M279.3 799.4h0M274.6 794.8h0M272.2 806.2h0M278.8 800.9h0M278.2 795.3h0M276.6 791.4h0M263.6 797.2h0M266.4 805.3h0M275.7 796.7h0M281.0 801.9h0M279.2 792.4h0M268.7 805.0h0M280.7 794.3h0M270.9 801.1h0M279.0 803.6h0M280.4 799.3h0M271.3 805.3h0M271.4 807.4h0M267.7 802.6h0M264.5 799.0h0M277.2 804.2h0M268.9 797.4h0M268.3 807.4h0M269.8 792.3h0M266.7 796.1h0M273.2 807.3h0M267.9 798.7h0M265.4 803.9h0M268.0 804.5h0M265.5 794.4h0M281.9 797.3h0M269.8 801.8h0M277.9 803.9h0M272.1 799.2h0M274.3 793.6h0M267.3 801.8h0M268.0 796.1h0M273.8 795.6h0M265.1 796.2h0M276.4 802.9h0M269.6 800.3h0M273.3 791.5h0M265.8 802.2h0M282.2 804.3h0M274.2 790.2h0M278.9 804.4h0M270.0 801.4h0M275.3 794.0h0M281.6 798.1h0M275.7 803.0h0M274.6 807.2h0M273.9 797.8h0M278.5 805.3h0M278.0 797.7h0M267.0 805.3h0M277.4 791.5h0M278.7 791.7h0M266.2 806.1h0M273.4 803.8h0M279.0 796.8h0M271.7 802.2h0M269.6 805.2h0M266.6 804.8h0M271.4 798.1h0M268.9 799.4h0M273.2 797.9h0M275.7 791.1h0M272.9 806.2h0M276.3 795.0h0M264.8 798.0h0M272.0 801.9h0M281.4 797.9h0M274.3 793.0h0M277.5 799.8h0M270.4 803.6h0M279.3 806.2h0M269.0 807.9h0M264.9 804.6h0M279.4 798.6h0M275.8 793.6h0M280.0 792.5h0M265.9 797.3h0M267.7 801.5h0M272.8 798.1h0M271.8 790.5h0M276.0 803.4h0M279.8 802.5h0M275.9 798.1h0M283.2 797.9h0M264.2 796.2h0M282.5 795.3h0M274.9 792.2h0M267.0 798.0h0M266.7 798.6h0M279.9 796.4h0M276.3 807.6h0M281.7 803.5h0M276.2 793.1h0M274.8 796.1h0M276.4 793.9h0M270.5 794.7h0M271.6 805.2h0M274.5 807.7h0M266.7 797.9h0M272.4 799.8h0M275.2 800.4h0M268.2 798.8h0M272.1 796.5h0M281.9 800.6h0M272.6 792.2h0M282.3 799.8h0M268.3 799.9h0M275.8 798.9h0M272.5 806.0h0M279.8 806.2h0M282.3 803.2h0M272.8 805.4h0M277.5 796.0h0M273.0 791.4h0M269.7 804.1h0M270.8 794.1h0M272.1 808.0h0M274.7 807.4h0M280.5 801.9h0M274.2 794.8h0M264.0 797.2h0M274.0 800.4h0M280.6 798.3h0M263.8 800.0h0M271.9 795.8h0M265.7 798.0h0M265.4 803.3h0M277.3 795.7h0M277.3 799.1h0M278.2 804.4h0M272.7 807.1h0M268.9 806.1h0M268.7 795.4h0M275.1 800.6h0M278.7 803.3h0M266.3 794.1h0M270.2 799.9h0M269.3 796.0h0M271.9 798.8h0M275.7 796.8h0M272.6 794.3h0M274.2 807.4h0M280.1 798.4h0M278.6 799.7h0M271.1 796.5h0M267.9 800.4h0M278.8 807.2h0M268.0 807.3h0M269.5 795.6h0M272.1 802.3h0M269.6 801.3h0M268.4 795.9h0M272.8 803.0h0M282.6 800.6h0M268.6 807.5h0M270.5 807.8h0M283.7 799.3h0M278.2 797.1h0M277.1 791.7h0M270.3 797.9h0M278.9 804.8h0M266.2 798.9h0M272.2 796.2h0M267.8 792.1h0M283.3 797.8h0M272.9 795.4h0M279.4 796.9h0M275.3 793.5h0M277.2 796.6h0M275.5 804.2h0M269.7 795.8h0M270.3 808.0h0M269.8 799.2h0M279.6 798.7h0M268.0 800.4h0M266.5 804.0h0M270.2 807.9h0M279.0 794.1h0M277.6 793.4h0M265.6 796.1h0M275.1 808.6h0M268.7 793.7h0M278.4 804.0h0M280.3 792.6h0M267.5 794.0h0M272.9 799.3h0M281.4 802.7h0M266.7 800.3h0M280.3 805.9h0M266.6 803.9h0M282.8 797.9h0M277.1 802.8h0M274.5 800.8h0M266.9 803.3h0M282.0 802.3h0M272.6 795.1h0M278.5 791.4h0M280.7 795.6h0M276.4 803.1h0M276.5 798.6h0M264.6 801.7h0M265.8 805.1h0M273.1 808.8h0M270.0 805.7h0M275.9 791.0h0M268.8 794.7h0M279.1 804.7h0M275.3 808.8h0M265.7 793.6h0M272.3 807.9h0M277.5 805.6h0M267.5 793.1h0M281.5 797.9h0M270.8 804.8h0M266.3 803.5h0M275.7 791.5h0M278.7 802.2h0M274.4 798.8h0M276.8 804.8h0M281.1 795.4h0M264.8 801.4h0M272.9 800.0h0M272.9 796.4h0M266.6 796.9h0M271.3 792.5h0M265.0 803.1h0M265.6 804.4h0M270.3 795.7h0M266.9 801.5h0M278.3 793.1h0M270.2 806.4h0M283.0 802.5h0M275.8 803.5h0M267.9 803.3h0M278.9 805.7h0M279.7 801.8h0M282.4 797.0h0M272.8 806.5h0M269.7 796.2h0M274.5 806.5h0M269.2 797.2h0M278.9 793.2h0M269.1 791.9h0M275.8 792.2h0M276.7 805.1h0M271.6 794.7h0M276.6 807.7h0M274.9 797.3h0M273.8 800.7h0M268.5 800.1h0M273.7 808.5h0M272.7 797.9h0M280.0 799.1h0M276.8 801.8h0M271.8 805.7h0M273.4 807.0h0M269.6 798.7h0M275.2 796.5h0M273.9 804.9h0M272.5 801.6h0M278.2 800.9h0M275.5 801.5h0M282.0 801.0h0M269.7 803.6h0M266.7 798.2h0M277.0 790.9h0M272.5 809.0h0M277.1 800.7h0M280.9 794.4h0M269.0 791.4h0M271.7 801.0h0M270.5 797.7h0M277.3 791.6h0M276.7 802.7h0M274.1 798.2h0M266.4 800.2h0M265.5 795.2h0M277.4 792.4h0M281.0 793.7h0M268.5 806.1h0M272.9 794.7h0M283.3 797.4h0M281.4 798.4h0M275.8 797.6h0M270.2 791.5h0M270.8 805.5h0M280.8 805.9h0M269.4 801.3h0M281.4 797.7h0M277.1 803.0h0M273.8 808.2h0M265.6 803.0h0M279.9 806.1h0M269.0 791.9h0M268.2 792.2h0M272.6 795.4h0M280.1 806.1h0M280.2 799.6h0M275.2 800.3h0M276.7 803.7h0M267.9 797.5h0M276.6 792.5h0M267.8 802.5h0M277.5 796.2h0M270.3 792.5h0M264.9 803.8h0M264.8 799.3h0M271.0 798.1h0M278.2 801.8h0M273.8 791.6h0M278.7 793.1h0M268.0 795.9h0M266.5 799.1h0M279.9 803.7h0M282.5 801.6h0M280.1 795.0h0M270.0 802.5h0M267.3 798.8h0M265.1 799.2h0M273.3 797.1h0M276.0 794.7h0M266.8 803.0h0M281.6 799.3h0M270.4 794.9h0M282.5 799.3h0M269.9 798.8h0M266.4 800.5h0M283.6 800.3h0M272.8 796.3h0M281.7 799.7h0M265.7 797.1h0M278.5 797.9h0M279.1 807.7h0M278.0 806.3h0M275.1 805.8h0M278.3 805.5h0M277.6 805.9h0M276.3 807.5h0M281.1 804.0h0M275.0 804.3h0M276.3 808.2h0M277.3 807.7h0M276.0 805.4h0M280.1 804.9h0M275.5 806.4h0M280.8 805.3h0M275.9 805.9h0M275.9 808.6h0M277.0 808.3h0M280.6 807.5h0M278.0 806.7h0M276.7 803.2h0M279.3 804.6h0M277.2 809.4h0M279.2 806.5h0M276.6 804.4h0M277.2 805.4h0M278.2 804.8h0M274.6 805.4h0M275.3 807.5h0M279.3 809.2h0M277.7 803.7h0M278.6 809.1h0M280.8 807.6h0M277.2 805.7h0M279.2 802.8h0M280.1 807.3h0M276.9 806.3h0M279.4 805.0h0M277.7 804.9h0M275.9 808.4h0M278.2 806.6h0M280.7 806.9h0M277.9 805.7h0M281.9 806.0h0M276.9 803.7h0M276.7 805.6h0M279.9 804.2h0M275.7 806.8h0M276.3 806.4h0M280.0 807.1h0M279.5 809.2h0M277.9 808.7h0M278.6 805.2h0M279.6 806.3h0M278.7 807.5h0M277.1 809.4h0M281.3 805.9h0M280.6 805.8h0M275.7 807.2h0M281.0 805.5h0M281.1 806.0h0M264.2 804.5h0M267.5 805.8h0M265.1 803.3h0M268.0 805.9h0M267.6 801.8h0M268.6 805.2h0M267.0 806.0h0M268.8 803.5h0M264.6 807.0h0M263.5 805.7h0M268.7 804.3h0M269.2 805.8h0M266.3 804.4h0M266.7 808.2h0M268.0 803.5h0M269.5 802.1h0M268.1 804.8h0M266.4 805.2h0M265.7 804.4h0M268.4 807.2h0M264.1 804.9h0M267.4 802.2h0M264.7 802.9h0M265.7 805.8h0M268.4 805.4h0M265.3 806.0h0M263.6 803.7h0M268.4 803.1h0M267.9 805.9h0M267.7 802.9h0M265.1 804.1h0M264.6 804.1h0M266.7 802.9h0M264.4 805.3h0M266.8 805.4h0M270.5 803.5h0M269.7 802.2h0M268.6 805.0h0M265.7 802.1h0M268.5 801.5h0M267.8 801.9h0M267.1 807.5h0M268.2 804.8h0M266.7 808.2h0M267.9 801.4h0M263.9 803.4h0M268.8 801.8h0M268.1 802.0h0M266.7 801.4h0M264.7 806.8h0M264.0 802.7h0M266.7 802.4h0M263.7 803.7h0M266.1 808.2h0M267.3 805.7h0M270.0 806.5h0M265.7 804.6h0M269.4 802.1h0M265.5 803.2h0M269.3 804.0h0" stroke="#8e8e8e" stroke-width="1.2" stroke-linecap="square"/>
<text x="382.60" y="532.10" font-size="16.5" text-anchor="start" fill="#000" font-weight="bold" >g</text>
<text x="567.10" y="543.30" font-size="10.8" text-anchor="middle" fill="#111" >Overall accuracy: 98.2%</text>
<rect x="434.80" y="552.40" width="239.40" height="228.60" rx="0" fill="#f6f8f9" stroke="#555" stroke-width="0.9" />
<rect x="434.80" y="763.42" width="18.62" height="17.78" rx="0" fill="#1b2a6e" stroke="none" stroke-width="1" />
<text x="444.01" y="775.81" font-size="10" text-anchor="middle" fill="#fff" >100</text>
<rect x="453.22" y="745.83" width="18.62" height="17.78" rx="0" fill="#2845a0" stroke="none" stroke-width="1" />
<text x="462.42" y="758.22" font-size="10" text-anchor="middle" fill="#fff" >99</text>
<rect x="471.63" y="728.25" width="18.62" height="17.78" rx="0" fill="#2845a0" stroke="none" stroke-width="1" />
<text x="480.84" y="740.64" font-size="10" text-anchor="middle" fill="#fff" >99</text>
<rect x="490.05" y="710.66" width="18.62" height="17.78" rx="0" fill="#2845a0" stroke="none" stroke-width="1" />
<text x="499.25" y="723.05" font-size="10" text-anchor="middle" fill="#fff" >99</text>
<rect x="508.46" y="693.08" width="18.62" height="17.78" rx="0" fill="#2845a0" stroke="none" stroke-width="1" />
<text x="517.67" y="705.47" font-size="10" text-anchor="middle" fill="#fff" >99</text>
<rect x="526.88" y="675.49" width="18.62" height="17.78" rx="0" fill="#2845a0" stroke="none" stroke-width="1" />
<text x="536.08" y="687.88" font-size="10" text-anchor="middle" fill="#fff" >99</text>
<rect x="545.29" y="657.91" width="18.62" height="17.78" rx="0" fill="#2845a0" stroke="none" stroke-width="1" />
<text x="554.50" y="670.30" font-size="10" text-anchor="middle" fill="#fff" >99</text>
<rect x="563.71" y="640.32" width="18.62" height="17.78" rx="0" fill="#1b2a6e" stroke="none" stroke-width="1" />
<text x="572.92" y="652.72" font-size="10" text-anchor="middle" fill="#fff" >100</text>
<rect x="582.12" y="622.74" width="18.62" height="17.78" rx="0" fill="#2196b9" stroke="none" stroke-width="1" />
<text x="591.33" y="635.13" font-size="10" text-anchor="middle" fill="#fff" >98</text>
<rect x="600.54" y="605.15" width="18.62" height="17.78" rx="0" fill="#2845a0" stroke="none" stroke-width="1" />
<text x="609.75" y="617.55" font-size="10" text-anchor="middle" fill="#fff" >99</text>
<rect x="618.95" y="587.57" width="18.62" height="17.78" rx="0" fill="#2845a0" stroke="none" stroke-width="1" />
<text x="628.16" y="599.96" font-size="10" text-anchor="middle" fill="#fff" >99</text>
<rect x="637.37" y="569.98" width="18.62" height="17.78" rx="0" fill="#1b2a6e" stroke="none" stroke-width="1" />
<text x="646.58" y="582.38" font-size="10" text-anchor="middle" fill="#fff" >100</text>
<rect x="655.78" y="552.40" width="18.62" height="17.78" rx="0" fill="#2845a0" stroke="none" stroke-width="1" />
<text x="664.99" y="564.79" font-size="10" text-anchor="middle" fill="#fff" >99</text>
<line x1="444.01" y1="781.00" x2="444.01" y2="785.40" stroke="#444" stroke-width="0.8" />
<text transform="translate(448.0,794.2) rotate(-45)" font-size="12.6" text-anchor="end" fill="#111">ā</text>
<line x1="430.40" y1="772.21" x2="434.80" y2="772.21" stroke="#444" stroke-width="0.8" />
<text transform="translate(418.6,779.6) rotate(45)" font-size="12.6" text-anchor="end" fill="#111">ā</text>
<line x1="462.42" y1="781.00" x2="462.42" y2="785.40" stroke="#444" stroke-width="0.8" />
<text transform="translate(466.1,794.2) rotate(-45)" font-size="12.6" text-anchor="end" fill="#111">ō</text>
<line x1="430.40" y1="754.62" x2="434.80" y2="754.62" stroke="#444" stroke-width="0.8" />
<text transform="translate(417.6,766.4) rotate(45)" font-size="12.6" text-anchor="end" fill="#111">ō</text>
<line x1="480.84" y1="781.00" x2="480.84" y2="785.40" stroke="#444" stroke-width="0.8" />
<text transform="translate(481.9,795.2) rotate(-45)" font-size="12.6" text-anchor="end" fill="#111">yī</text>
<line x1="430.40" y1="737.04" x2="434.80" y2="737.04" stroke="#444" stroke-width="0.8" />
<text transform="translate(415.0,743.8) rotate(45)" font-size="12.6" text-anchor="end" fill="#111">yī</text>
<line x1="499.25" y1="781.00" x2="499.25" y2="785.40" stroke="#444" stroke-width="0.8" />
<text transform="translate(503.0,793.2) rotate(-45)" font-size="12.6" text-anchor="end" fill="#111">bā</text>
<line x1="430.40" y1="719.45" x2="434.80" y2="719.45" stroke="#444" stroke-width="0.8" />
<text transform="translate(418.1,727.8) rotate(45)" font-size="12.6" text-anchor="end" fill="#111">bā</text>
<line x1="517.67" y1="781.00" x2="517.67" y2="785.40" stroke="#444" stroke-width="0.8" />
<text transform="translate(527.8,795.8) rotate(-45)" font-size="12.6" text-anchor="end" fill="#111">hēshuǐ</text>
<line x1="430.40" y1="701.87" x2="434.80" y2="701.87" stroke="#444" stroke-width="0.8" />
<text transform="translate(420.8,712.9) rotate(45)" font-size="12.6" text-anchor="end" fill="#111">hēshuǐ</text>
<line x1="536.08" y1="781.00" x2="536.08" y2="785.40" stroke="#444" stroke-width="0.8" />
<text transform="translate(539.7,794.0) rotate(-45)" font-size="11" text-anchor="end" fill="#111">A</text>
<line x1="430.40" y1="684.28" x2="434.80" y2="684.28" stroke="#444" stroke-width="0.8" />
<text transform="translate(420.5,691.0) rotate(45)" font-size="11" text-anchor="end" fill="#111">A</text>
<line x1="554.50" y1="781.00" x2="554.50" y2="785.40" stroke="#444" stroke-width="0.8" />
<text transform="translate(559.0,795.0) rotate(-45)" font-size="11" text-anchor="end" fill="#111">E</text>
<line x1="430.40" y1="666.70" x2="434.80" y2="666.70" stroke="#444" stroke-width="0.8" />
<text transform="translate(419.3,673.6) rotate(45)" font-size="11" text-anchor="end" fill="#111">E</text>
<line x1="572.92" y1="781.00" x2="572.92" y2="785.40" stroke="#444" stroke-width="0.8" />
<text transform="translate(576.5,793.2) rotate(-45)" font-size="11" text-anchor="end" fill="#111">I</text>
<line x1="430.40" y1="649.12" x2="434.80" y2="649.12" stroke="#444" stroke-width="0.8" />
<text transform="translate(418.7,655.9) rotate(45)" font-size="11" text-anchor="end" fill="#111">U</text>
<line x1="591.33" y1="781.00" x2="591.33" y2="785.40" stroke="#444" stroke-width="0.8" />
<text transform="translate(597.2,793.8) rotate(-45)" font-size="11" text-anchor="end" fill="#111">O</text>
<line x1="430.40" y1="631.53" x2="434.80" y2="631.53" stroke="#444" stroke-width="0.8" />
<text transform="translate(419.7,638.0) rotate(45)" font-size="11" text-anchor="end" fill="#111">O</text>
<line x1="609.75" y1="781.00" x2="609.75" y2="785.40" stroke="#444" stroke-width="0.8" />
<text transform="translate(616.3,794.8) rotate(-45)" font-size="11" text-anchor="end" fill="#111">U</text>
<line x1="430.40" y1="613.95" x2="434.80" y2="613.95" stroke="#444" stroke-width="0.8" />
<text transform="translate(419.0,619.1) rotate(45)" font-size="11" text-anchor="end" fill="#111">I</text>
<line x1="628.16" y1="781.00" x2="628.16" y2="785.40" stroke="#444" stroke-width="0.8" />
<text transform="translate(635.3,793.8) rotate(-45)" font-size="11" text-anchor="end" fill="#111">Swallow</text>
<line x1="430.40" y1="596.36" x2="434.80" y2="596.36" stroke="#444" stroke-width="0.8" />
<text transform="translate(424.0,608.3) rotate(45)" font-size="11" text-anchor="end" fill="#111">Swallow</text>
<line x1="646.58" y1="781.00" x2="646.58" y2="785.40" stroke="#444" stroke-width="0.8" />
<text transform="translate(656.6,793.2) rotate(-45)" font-size="11" text-anchor="end" fill="#111">Cough</text>
<line x1="430.40" y1="578.78" x2="434.80" y2="578.78" stroke="#444" stroke-width="0.8" />
<text transform="translate(425.0,587.5) rotate(45)" font-size="11" text-anchor="end" fill="#111">Cough</text>
<line x1="664.99" y1="781.00" x2="664.99" y2="785.40" stroke="#444" stroke-width="0.8" />
<text transform="translate(676.4,793.2) rotate(-45)" font-size="11" text-anchor="end" fill="#111">Drink</text>
<line x1="430.40" y1="561.19" x2="434.80" y2="561.19" stroke="#444" stroke-width="0.8" />
<text transform="translate(424.7,567.5) rotate(45)" font-size="11" text-anchor="end" fill="#111">Drink</text>
<text x="563.00" y="831.70" font-size="12.8" text-anchor="middle" fill="#111" >Predicted state</text>
<text transform="translate(388.8,667) rotate(-90)" font-size="12.8" text-anchor="middle" fill="#111">Actural state</text>
<defs><linearGradient id="cbar" x1="0" y1="0" x2="0" y2="1"><stop offset="0" stop-color="#1c2466"/><stop offset="0.12" stop-color="#243593"/><stop offset="0.3" stop-color="#2357a6"/><stop offset="0.45" stop-color="#1b83b6"/><stop offset="0.6" stop-color="#21b1a9"/><stop offset="0.72" stop-color="#45c39a"/><stop offset="0.86" stop-color="#a8da8c"/><stop offset="1" stop-color="#f1e97a"/></linearGradient></defs>
<rect x="642.50" y="627.20" width="8.10" height="148.50" rx="0" fill="url(#cbar)" stroke="#444" stroke-width="0.5" />
<line x1="648.60" y1="627.20" x2="650.60" y2="627.20" stroke="#333" stroke-width="0.5" />
<text transform="translate(661.0,631.5) rotate(-45)" font-size="6.6" fill="#333">100</text>
<line x1="648.60" y1="640.40" x2="650.60" y2="640.40" stroke="#333" stroke-width="0.5" />
<text transform="translate(661.0,644.7) rotate(-45)" font-size="6.6" fill="#333">99.5</text>
<line x1="648.60" y1="667.90" x2="650.60" y2="667.90" stroke="#333" stroke-width="0.5" />
<text transform="translate(661.0,672.2) rotate(-45)" font-size="6.6" fill="#333">98.6</text>
<line x1="648.60" y1="694.70" x2="650.60" y2="694.70" stroke="#333" stroke-width="0.5" />
<text transform="translate(661.0,699.0) rotate(-45)" font-size="6.6" fill="#333">97.7</text>
<line x1="648.60" y1="721.80" x2="650.60" y2="721.80" stroke="#333" stroke-width="0.5" />
<text transform="translate(661.0,726.1) rotate(-45)" font-size="6.6" fill="#333">96.8</text>
<line x1="648.60" y1="748.60" x2="650.60" y2="748.60" stroke="#333" stroke-width="0.5" />
<text transform="translate(661.0,752.9) rotate(-45)" font-size="6.6" fill="#333">95.9</text>
<line x1="648.60" y1="775.70" x2="650.60" y2="775.70" stroke="#333" stroke-width="0.5" />
<text transform="translate(661.0,780.0) rotate(-45)" font-size="6.6" fill="#333">0.00</text>
<text transform="translate(635.6,718.2) rotate(-90)" font-size="11.9" text-anchor="middle" fill="#111">Predicted classes (%)</text>
</svg></body></html>
